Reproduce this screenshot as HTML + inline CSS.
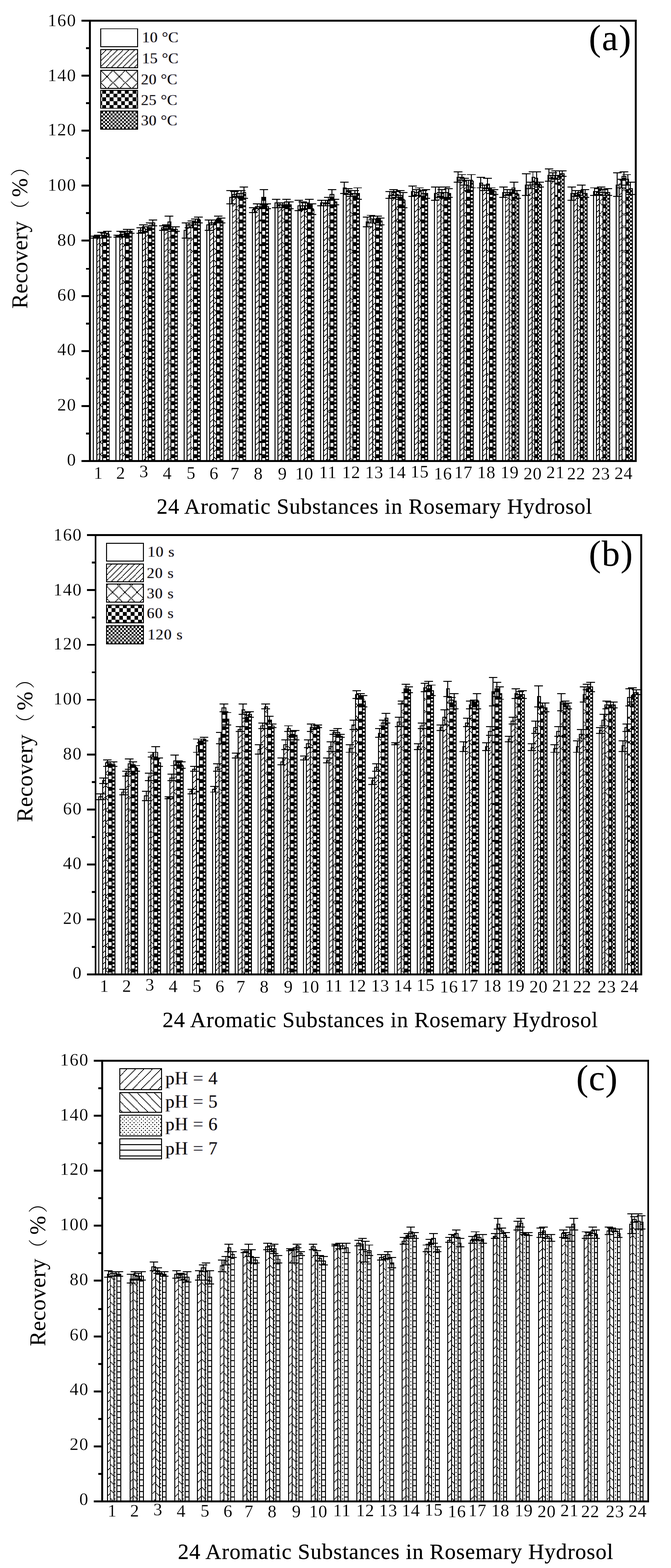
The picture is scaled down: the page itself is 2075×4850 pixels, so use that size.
<!DOCTYPE html>
<html><head><meta charset="utf-8"><title>Figure</title>
<style>html,body{margin:0;padding:0;background:#fff}svg{display:block}</style></head>
<body>
<svg width="2075" height="4850" viewBox="0 0 2075 4850">
<defs><filter id="tb" x="-5%" y="-5%" width="110%" height="110%"><feGaussianBlur stdDeviation="0.5"/></filter>
<filter id="ct" x="-5%" y="-10%" width="110%" height="120%"><feGaussianBlur in="SourceGraphic" stdDeviation="0.5" result="b"/><feOffset in="b" dx="-0.9" result="l"/><feFlood flood-color="#e39a3c"/><feComposite in2="l" operator="in" result="lo"/><feOffset in="b" dx="0.9" result="r"/><feFlood flood-color="#4a7fe0"/><feComposite in2="r" operator="in" result="ro"/><feMerge><feMergeNode in="lo"/><feMergeNode in="ro"/><feMergeNode in="b"/></feMerge></filter></defs>
<rect x="0" y="0" width="2075" height="4850" fill="#fff"/>
<g transform="matrix(2.93073 0 0 2.92884 277.90 64.09)" fill="#000" stroke="#000" stroke-width="0" shape-rendering="crispEdges">
<rect x="3" y="228" width="5" height="237"/>
<rect x="4" y="229" width="3" height="236" fill="#fff"/>
<rect x="5" y="227" width="1" height="3"/>
<rect x="1" y="227" width="9" height="1"/>
<rect x="1" y="229" width="9" height="1"/>
<rect x="7" y="228" width="1" height="237"/>
<rect x="10" y="228" width="1" height="237"/>
<rect x="7" y="228" width="4" height="1"/>
<path d="M8.5 229V465" stroke-width="1" stroke-dasharray="1 5" stroke-dashoffset="-1"/>
<path d="M9.5 229V465" stroke-width="1" stroke-dasharray="1 5"/>
<rect x="8" y="226" width="1" height="4"/>
<rect x="4" y="226" width="9" height="1"/>
<rect x="4" y="229" width="9" height="1"/>
<rect x="10" y="226" width="1" height="239"/>
<rect x="13" y="226" width="1" height="239"/>
<rect x="10" y="226" width="4" height="1"/>
<path d="M11.5 227V465" stroke-width="1" stroke-dasharray="2 11" stroke-dashoffset="-9"/>
<path d="M12.5 227V465" stroke-width="1" stroke-dasharray="1 2 1 9" stroke-dashoffset="-8"/>
<rect x="12" y="223" width="1" height="7"/>
<rect x="8" y="223" width="9" height="1"/>
<rect x="8" y="229" width="9" height="1"/>
<rect x="13" y="226" width="5" height="239"/>
<rect x="14" y="227" width="3" height="238" fill="#fff"/>
<path d="M15.5 227V465" stroke-width="3" stroke-dasharray="4 4" stroke-dashoffset="1"/>
<rect x="15" y="224" width="1" height="6"/>
<rect x="11" y="224" width="9" height="1"/>
<rect x="11" y="229" width="9" height="1"/>
<rect x="17" y="225" width="4" height="240"/>
<rect x="18" y="226" width="2" height="239" fill="#fff"/>
<path d="M19 226V465" stroke-width="2" stroke-dasharray="2 2" stroke-dashoffset="-1"/>
<rect x="19" y="222" width="1" height="7"/>
<rect x="14" y="222" width="9" height="1"/>
<rect x="14" y="228" width="9" height="1"/>
<rect x="27" y="227" width="5" height="238"/>
<rect x="28" y="228" width="3" height="237" fill="#fff"/>
<rect x="29" y="226" width="1" height="3"/>
<rect x="25" y="226" width="9" height="1"/>
<rect x="25" y="228" width="9" height="1"/>
<rect x="31" y="225" width="1" height="240"/>
<rect x="34" y="225" width="1" height="240"/>
<rect x="31" y="225" width="4" height="1"/>
<path d="M32.5 226V465" stroke-width="1" stroke-dasharray="1 5" stroke-dashoffset="-4"/>
<path d="M33.5 226V465" stroke-width="1" stroke-dasharray="1 5" stroke-dashoffset="-3"/>
<rect x="32" y="222" width="1" height="7"/>
<rect x="28" y="222" width="9" height="1"/>
<rect x="28" y="228" width="9" height="1"/>
<rect x="34" y="225" width="1" height="240"/>
<rect x="37" y="225" width="1" height="240"/>
<rect x="34" y="225" width="4" height="1"/>
<path d="M35.5 226V465" stroke-width="1" stroke-dasharray="1 2 1 9" stroke-dashoffset="-9"/>
<path d="M36.5 226V465" stroke-width="1" stroke-dasharray="2 11" stroke-dashoffset="-10"/>
<rect x="36" y="223" width="1" height="5"/>
<rect x="31" y="223" width="9" height="1"/>
<rect x="31" y="227" width="9" height="1"/>
<rect x="37" y="222" width="5" height="243"/>
<rect x="38" y="223" width="3" height="242" fill="#fff"/>
<path d="M39.5 223V465" stroke-width="3" stroke-dasharray="4 4" stroke-dashoffset="-3"/>
<rect x="39" y="220" width="1" height="6"/>
<rect x="35" y="220" width="9" height="1"/>
<rect x="35" y="225" width="9" height="1"/>
<rect x="41" y="222" width="4" height="243"/>
<rect x="42" y="223" width="2" height="242" fill="#fff"/>
<path d="M43 223V465" stroke-width="2" stroke-dasharray="2 2"/>
<rect x="42" y="220" width="1" height="5"/>
<rect x="38" y="220" width="9" height="1"/>
<rect x="38" y="224" width="9" height="1"/>
<rect x="51" y="221" width="5" height="244"/>
<rect x="52" y="222" width="3" height="243" fill="#fff"/>
<rect x="53" y="218" width="1" height="7"/>
<rect x="49" y="218" width="9" height="1"/>
<rect x="49" y="224" width="9" height="1"/>
<rect x="55" y="219" width="1" height="246"/>
<rect x="58" y="219" width="1" height="246"/>
<rect x="55" y="219" width="4" height="1"/>
<path d="M56.5 220V465" stroke-width="1" stroke-dasharray="1 5" stroke-dashoffset="-4"/>
<path d="M57.5 220V465" stroke-width="1" stroke-dasharray="1 5" stroke-dashoffset="-3"/>
<rect x="56" y="215" width="1" height="9"/>
<rect x="52" y="215" width="9" height="1"/>
<rect x="52" y="223" width="9" height="1"/>
<rect x="58" y="220" width="1" height="245"/>
<rect x="61" y="220" width="1" height="245"/>
<rect x="58" y="220" width="4" height="1"/>
<path d="M59.5 221V465" stroke-width="1" stroke-dasharray="1 5 1 6" stroke-dashoffset="-6"/>
<path d="M60.5 221V465" stroke-width="1" stroke-dasharray="1 4 1 7"/>
<rect x="60" y="217" width="1" height="6"/>
<rect x="55" y="217" width="9" height="1"/>
<rect x="55" y="222" width="9" height="1"/>
<rect x="61" y="216" width="5" height="249"/>
<rect x="62" y="217" width="3" height="248" fill="#fff"/>
<path d="M63.5 217V465" stroke-width="3" stroke-dasharray="4 4" stroke-dashoffset="-1"/>
<rect x="63" y="213" width="1" height="8"/>
<rect x="59" y="213" width="9" height="1"/>
<rect x="59" y="220" width="9" height="1"/>
<rect x="65" y="213" width="4" height="252"/>
<rect x="66" y="214" width="2" height="251" fill="#fff"/>
<path d="M67 214V465" stroke-width="2" stroke-dasharray="2 2" stroke-dashoffset="-1"/>
<rect x="66" y="210" width="1" height="7"/>
<rect x="62" y="210" width="9" height="1"/>
<rect x="62" y="216" width="9" height="1"/>
<rect x="75" y="218" width="4" height="247"/>
<rect x="76" y="219" width="2" height="246" fill="#fff"/>
<rect x="77" y="216" width="1" height="6"/>
<rect x="73" y="216" width="9" height="1"/>
<rect x="73" y="221" width="9" height="1"/>
<rect x="78" y="217" width="1" height="248"/>
<rect x="82" y="217" width="1" height="248"/>
<rect x="78" y="217" width="5" height="1"/>
<path d="M79.5 218V465" stroke-width="1" stroke-dasharray="1 5" stroke-dashoffset="-1"/>
<path d="M80.5 218V465" stroke-width="1" stroke-dasharray="1 5"/>
<path d="M81.5 218V465" stroke-width="1" stroke-dasharray="1 5" stroke-dashoffset="-5"/>
<rect x="80" y="215" width="1" height="6"/>
<rect x="76" y="215" width="9" height="1"/>
<rect x="76" y="220" width="9" height="1"/>
<rect x="82" y="212" width="1" height="253"/>
<rect x="85" y="212" width="1" height="253"/>
<rect x="82" y="212" width="4" height="1"/>
<path d="M83.5 213V465" stroke-width="1" stroke-dasharray="1 1 1 10" stroke-dashoffset="-3"/>
<path d="M84.5 213V465" stroke-width="1" stroke-dasharray="1 3 1 8" stroke-dashoffset="-2"/>
<rect x="84" y="206" width="1" height="14"/>
<rect x="79" y="206" width="9" height="1"/>
<rect x="79" y="219" width="9" height="1"/>
<rect x="85" y="220" width="5" height="245"/>
<rect x="86" y="221" width="3" height="244" fill="#fff"/>
<path d="M87.5 221V465" stroke-width="3" stroke-dasharray="4 4" stroke-dashoffset="3"/>
<rect x="87" y="217" width="1" height="6"/>
<rect x="83" y="217" width="9" height="1"/>
<rect x="83" y="222" width="9" height="1"/>
<rect x="89" y="220" width="4" height="245"/>
<rect x="90" y="221" width="2" height="244" fill="#fff"/>
<path d="M91 221V465" stroke-width="2" stroke-dasharray="2 2" stroke-dashoffset="-2"/>
<rect x="90" y="217" width="1" height="6"/>
<rect x="86" y="217" width="9" height="1"/>
<rect x="86" y="222" width="9" height="1"/>
<rect x="99" y="221" width="4" height="244"/>
<rect x="100" y="222" width="2" height="243" fill="#fff"/>
<rect x="101" y="213" width="1" height="17"/>
<rect x="97" y="213" width="9" height="1"/>
<rect x="97" y="229" width="9" height="1"/>
<rect x="102" y="215" width="1" height="250"/>
<rect x="106" y="215" width="1" height="250"/>
<rect x="102" y="215" width="5" height="1"/>
<path d="M103.5 216V465" stroke-width="1" stroke-dasharray="1 5" stroke-dashoffset="-3"/>
<path d="M104.5 216V465" stroke-width="1" stroke-dasharray="1 5" stroke-dashoffset="-2"/>
<path d="M105.5 216V465" stroke-width="1" stroke-dasharray="1 5" stroke-dashoffset="-1"/>
<rect x="104" y="213" width="1" height="6"/>
<rect x="100" y="213" width="9" height="1"/>
<rect x="100" y="218" width="9" height="1"/>
<rect x="106" y="215" width="1" height="250"/>
<rect x="109" y="215" width="1" height="250"/>
<rect x="106" y="215" width="4" height="1"/>
<path d="M107.5 216V465" stroke-width="1" stroke-dasharray="1 1 1 10"/>
<path d="M108.5 216V465" stroke-width="1" stroke-dasharray="1 12" stroke-dashoffset="-1"/>
<rect x="108" y="211" width="1" height="8"/>
<rect x="103" y="211" width="9" height="1"/>
<rect x="103" y="218" width="9" height="1"/>
<rect x="109" y="212" width="5" height="253"/>
<rect x="110" y="213" width="3" height="252" fill="#fff"/>
<path d="M111.5 213V465" stroke-width="3" stroke-dasharray="4 4" stroke-dashoffset="3"/>
<rect x="111" y="209" width="1" height="7"/>
<rect x="107" y="209" width="9" height="1"/>
<rect x="107" y="215" width="9" height="1"/>
<rect x="113" y="210" width="4" height="255"/>
<rect x="114" y="211" width="2" height="254" fill="#fff"/>
<path d="M115 211V465" stroke-width="2" stroke-dasharray="2 2"/>
<rect x="114" y="207" width="1" height="7"/>
<rect x="110" y="207" width="9" height="1"/>
<rect x="110" y="213" width="9" height="1"/>
<rect x="123" y="215" width="4" height="250"/>
<rect x="124" y="216" width="2" height="249" fill="#fff"/>
<rect x="125" y="210" width="1" height="12"/>
<rect x="121" y="210" width="9" height="1"/>
<rect x="121" y="221" width="9" height="1"/>
<rect x="126" y="213" width="1" height="252"/>
<rect x="130" y="213" width="1" height="252"/>
<rect x="126" y="213" width="5" height="1"/>
<path d="M127.5 214V465" stroke-width="1" stroke-dasharray="1 5" stroke-dashoffset="-5"/>
<path d="M128.5 214V465" stroke-width="1" stroke-dasharray="1 5" stroke-dashoffset="-4"/>
<path d="M129.5 214V465" stroke-width="1" stroke-dasharray="1 5" stroke-dashoffset="-3"/>
<rect x="128" y="210" width="1" height="6"/>
<rect x="124" y="210" width="9" height="1"/>
<rect x="124" y="215" width="9" height="1"/>
<rect x="130" y="213" width="1" height="252"/>
<rect x="133" y="213" width="1" height="252"/>
<rect x="130" y="213" width="4" height="1"/>
<path d="M131.5 214V465" stroke-width="1" stroke-dasharray="1 5 1 6"/>
<path d="M132.5 214V465" stroke-width="1" stroke-dasharray="1 3 1 8" stroke-dashoffset="-1"/>
<rect x="132" y="210" width="1" height="6"/>
<rect x="127" y="210" width="9" height="1"/>
<rect x="127" y="215" width="9" height="1"/>
<rect x="133" y="209" width="5" height="256"/>
<rect x="134" y="210" width="3" height="255" fill="#fff"/>
<path d="M135.5 210V465" stroke-width="3" stroke-dasharray="4 4"/>
<rect x="135" y="206" width="1" height="7"/>
<rect x="131" y="206" width="9" height="1"/>
<rect x="131" y="212" width="9" height="1"/>
<rect x="137" y="211" width="4" height="254"/>
<rect x="138" y="212" width="2" height="253" fill="#fff"/>
<path d="M139 212V465" stroke-width="2" stroke-dasharray="2 2" stroke-dashoffset="1"/>
<rect x="138" y="208" width="1" height="6"/>
<rect x="134" y="208" width="9" height="1"/>
<rect x="134" y="213" width="9" height="1"/>
<rect x="147" y="186" width="4" height="279"/>
<rect x="148" y="187" width="2" height="278" fill="#fff"/>
<rect x="149" y="179" width="1" height="15"/>
<rect x="144" y="179" width="9" height="1"/>
<rect x="144" y="193" width="9" height="1"/>
<rect x="150" y="183" width="1" height="282"/>
<rect x="154" y="183" width="1" height="282"/>
<rect x="150" y="183" width="5" height="1"/>
<path d="M151.5 184V465" stroke-width="1" stroke-dasharray="1 5" stroke-dashoffset="-5"/>
<path d="M152.5 184V465" stroke-width="1" stroke-dasharray="1 5" stroke-dashoffset="-4"/>
<path d="M153.5 184V465" stroke-width="1" stroke-dasharray="1 5" stroke-dashoffset="-3"/>
<rect x="152" y="180" width="1" height="7"/>
<rect x="148" y="180" width="9" height="1"/>
<rect x="148" y="186" width="9" height="1"/>
<rect x="154" y="182" width="1" height="283"/>
<rect x="157" y="182" width="1" height="283"/>
<rect x="154" y="182" width="4" height="1"/>
<path d="M155.5 183V465" stroke-width="1" stroke-dasharray="1 2 1 9"/>
<path d="M156.5 183V465" stroke-width="1" stroke-dasharray="1 7 1 4" stroke-dashoffset="-4"/>
<rect x="155" y="179" width="1" height="7"/>
<rect x="151" y="179" width="9" height="1"/>
<rect x="151" y="185" width="9" height="1"/>
<rect x="157" y="182" width="5" height="283"/>
<rect x="158" y="183" width="3" height="282" fill="#fff"/>
<path d="M159.5 183V465" stroke-width="3" stroke-dasharray="4 4" stroke-dashoffset="-3"/>
<rect x="159" y="179" width="1" height="7"/>
<rect x="155" y="179" width="9" height="1"/>
<rect x="155" y="185" width="9" height="1"/>
<rect x="161" y="181" width="4" height="284"/>
<rect x="162" y="182" width="2" height="283" fill="#fff"/>
<path d="M163 182V465" stroke-width="2" stroke-dasharray="2 2" stroke-dashoffset="-1"/>
<rect x="162" y="175" width="1" height="13"/>
<rect x="158" y="175" width="9" height="1"/>
<rect x="158" y="187" width="9" height="1"/>
<rect x="171" y="199" width="4" height="266"/>
<rect x="172" y="200" width="2" height="265" fill="#fff"/>
<rect x="173" y="197" width="1" height="6"/>
<rect x="168" y="197" width="9" height="1"/>
<rect x="168" y="202" width="9" height="1"/>
<rect x="174" y="196" width="1" height="269"/>
<rect x="178" y="196" width="1" height="269"/>
<rect x="174" y="196" width="5" height="1"/>
<path d="M175.5 197V465" stroke-width="1" stroke-dasharray="1 5" stroke-dashoffset="-4"/>
<path d="M176.5 197V465" stroke-width="1" stroke-dasharray="1 5" stroke-dashoffset="-3"/>
<path d="M177.5 197V465" stroke-width="1" stroke-dasharray="1 5" stroke-dashoffset="-2"/>
<rect x="176" y="193" width="1" height="6"/>
<rect x="172" y="193" width="9" height="1"/>
<rect x="172" y="198" width="9" height="1"/>
<rect x="178" y="196" width="1" height="269"/>
<rect x="181" y="196" width="1" height="269"/>
<rect x="178" y="196" width="4" height="1"/>
<path d="M180 197V465" stroke-width="2" stroke-dasharray="2 11"/>
<rect x="179" y="193" width="1" height="6"/>
<rect x="175" y="193" width="9" height="1"/>
<rect x="175" y="198" width="9" height="1"/>
<rect x="181" y="186" width="5" height="279"/>
<rect x="182" y="187" width="3" height="278" fill="#fff"/>
<path d="M183.5 187V465" stroke-width="3" stroke-dasharray="4 4" stroke-dashoffset="1"/>
<rect x="183" y="178" width="1" height="17"/>
<rect x="179" y="178" width="9" height="1"/>
<rect x="179" y="194" width="9" height="1"/>
<rect x="185" y="196" width="4" height="269"/>
<rect x="186" y="197" width="2" height="268" fill="#fff"/>
<path d="M187 197V465" stroke-width="2" stroke-dasharray="2 2" stroke-dashoffset="-2"/>
<rect x="186" y="193" width="1" height="6"/>
<rect x="182" y="193" width="9" height="1"/>
<rect x="182" y="198" width="9" height="1"/>
<rect x="195" y="192" width="4" height="273"/>
<rect x="196" y="193" width="2" height="272" fill="#fff"/>
<rect x="197" y="188" width="1" height="10"/>
<rect x="192" y="188" width="9" height="1"/>
<rect x="192" y="197" width="9" height="1"/>
<rect x="198" y="194" width="1" height="271"/>
<rect x="202" y="194" width="1" height="271"/>
<rect x="198" y="194" width="5" height="1"/>
<path d="M199.5 195V465" stroke-width="1" stroke-dasharray="1 5"/>
<path d="M200.5 195V465" stroke-width="1" stroke-dasharray="1 5" stroke-dashoffset="-5"/>
<path d="M201.5 195V465" stroke-width="1" stroke-dasharray="1 5" stroke-dashoffset="-4"/>
<rect x="200" y="192" width="1" height="6"/>
<rect x="196" y="192" width="9" height="1"/>
<rect x="196" y="197" width="9" height="1"/>
<rect x="202" y="194" width="1" height="271"/>
<rect x="205" y="194" width="1" height="271"/>
<rect x="202" y="194" width="4" height="1"/>
<path d="M203.5 195V465" stroke-width="1" stroke-dasharray="1 4 1 7"/>
<path d="M204.5 195V465" stroke-width="1" stroke-dasharray="1 2 1 9" stroke-dashoffset="-1"/>
<rect x="203" y="192" width="1" height="6"/>
<rect x="199" y="192" width="9" height="1"/>
<rect x="199" y="197" width="9" height="1"/>
<rect x="205" y="191" width="5" height="274"/>
<rect x="206" y="192" width="3" height="273" fill="#fff"/>
<path d="M207.5 192V465" stroke-width="3" stroke-dasharray="4 4" stroke-dashoffset="-2"/>
<rect x="207" y="188" width="1" height="8"/>
<rect x="203" y="188" width="9" height="1"/>
<rect x="203" y="195" width="9" height="1"/>
<rect x="209" y="194" width="4" height="271"/>
<rect x="210" y="195" width="2" height="270" fill="#fff"/>
<path d="M211 195V465" stroke-width="2" stroke-dasharray="2 2"/>
<rect x="210" y="191" width="1" height="8"/>
<rect x="206" y="191" width="9" height="1"/>
<rect x="206" y="198" width="9" height="1"/>
<rect x="219" y="195" width="4" height="270"/>
<rect x="220" y="196" width="2" height="269" fill="#fff"/>
<rect x="221" y="189" width="1" height="12"/>
<rect x="216" y="189" width="9" height="1"/>
<rect x="216" y="200" width="9" height="1"/>
<rect x="222" y="195" width="1" height="270"/>
<rect x="226" y="195" width="1" height="270"/>
<rect x="222" y="195" width="5" height="1"/>
<path d="M223.5 196V465" stroke-width="1" stroke-dasharray="1 5" stroke-dashoffset="-5"/>
<path d="M224.5 196V465" stroke-width="1" stroke-dasharray="1 5" stroke-dashoffset="-4"/>
<path d="M225.5 196V465" stroke-width="1" stroke-dasharray="1 5" stroke-dashoffset="-3"/>
<rect x="224" y="191" width="1" height="9"/>
<rect x="220" y="191" width="9" height="1"/>
<rect x="220" y="199" width="9" height="1"/>
<rect x="226" y="195" width="1" height="270"/>
<rect x="229" y="195" width="1" height="270"/>
<rect x="226" y="195" width="4" height="1"/>
<path d="M227.5 196V465" stroke-width="1" stroke-dasharray="1 3 1 8" stroke-dashoffset="-6"/>
<path d="M228.5 196V465" stroke-width="1" stroke-dasharray="1 5 1 6" stroke-dashoffset="-5"/>
<rect x="227" y="192" width="1" height="7"/>
<rect x="223" y="192" width="9" height="1"/>
<rect x="223" y="198" width="9" height="1"/>
<rect x="229" y="193" width="5" height="272"/>
<rect x="230" y="194" width="3" height="271" fill="#fff"/>
<path d="M231.5 194V465" stroke-width="3" stroke-dasharray="4 4"/>
<rect x="231" y="188" width="1" height="11"/>
<rect x="227" y="188" width="9" height="1"/>
<rect x="227" y="198" width="9" height="1"/>
<rect x="233" y="199" width="4" height="266"/>
<rect x="234" y="200" width="2" height="265" fill="#fff"/>
<path d="M235 200V465" stroke-width="2" stroke-dasharray="2 2" stroke-dashoffset="1"/>
<rect x="234" y="193" width="1" height="12"/>
<rect x="230" y="193" width="9" height="1"/>
<rect x="230" y="204" width="9" height="1"/>
<rect x="243" y="192" width="4" height="273"/>
<rect x="244" y="193" width="2" height="272" fill="#fff"/>
<rect x="244" y="189" width="1" height="7"/>
<rect x="240" y="189" width="9" height="1"/>
<rect x="240" y="195" width="9" height="1"/>
<rect x="246" y="192" width="1" height="273"/>
<rect x="250" y="192" width="1" height="273"/>
<rect x="246" y="192" width="5" height="1"/>
<path d="M247.5 193V465" stroke-width="1" stroke-dasharray="1 5" stroke-dashoffset="-2"/>
<path d="M248.5 193V465" stroke-width="1" stroke-dasharray="1 5" stroke-dashoffset="-1"/>
<path d="M249.5 193V465" stroke-width="1" stroke-dasharray="1 5"/>
<rect x="248" y="189" width="1" height="7"/>
<rect x="244" y="189" width="9" height="1"/>
<rect x="244" y="195" width="9" height="1"/>
<rect x="250" y="190" width="1" height="275"/>
<rect x="253" y="190" width="1" height="275"/>
<rect x="250" y="190" width="4" height="1"/>
<path d="M251.5 191V465" stroke-width="1" stroke-dasharray="1 12"/>
<path d="M252.5 191V465" stroke-width="1" stroke-dasharray="1 10 1 1" stroke-dashoffset="-1"/>
<rect x="251" y="186" width="1" height="8"/>
<rect x="247" y="186" width="9" height="1"/>
<rect x="247" y="193" width="9" height="1"/>
<rect x="253" y="183" width="5" height="282"/>
<rect x="254" y="184" width="3" height="281" fill="#fff"/>
<path d="M255.5 184V465" stroke-width="3" stroke-dasharray="4 4" stroke-dashoffset="-2"/>
<rect x="255" y="178" width="1" height="11"/>
<rect x="251" y="178" width="9" height="1"/>
<rect x="251" y="188" width="9" height="1"/>
<rect x="257" y="191" width="4" height="274"/>
<rect x="258" y="192" width="2" height="273" fill="#fff"/>
<path d="M259 192V465" stroke-width="2" stroke-dasharray="2 2" stroke-dashoffset="1"/>
<rect x="258" y="188" width="1" height="7"/>
<rect x="254" y="188" width="9" height="1"/>
<rect x="254" y="194" width="9" height="1"/>
<rect x="267" y="176" width="4" height="289"/>
<rect x="268" y="177" width="2" height="288" fill="#fff"/>
<rect x="268" y="170" width="1" height="13"/>
<rect x="264" y="170" width="9" height="1"/>
<rect x="264" y="182" width="9" height="1"/>
<rect x="270" y="180" width="1" height="285"/>
<rect x="274" y="180" width="1" height="285"/>
<rect x="270" y="180" width="5" height="1"/>
<path d="M271.5 181V465" stroke-width="1" stroke-dasharray="1 5" stroke-dashoffset="-2"/>
<path d="M272.5 181V465" stroke-width="1" stroke-dasharray="1 5" stroke-dashoffset="-1"/>
<path d="M273.5 181V465" stroke-width="1" stroke-dasharray="1 5"/>
<rect x="272" y="177" width="1" height="7"/>
<rect x="268" y="177" width="9" height="1"/>
<rect x="268" y="183" width="9" height="1"/>
<rect x="274" y="182" width="1" height="283"/>
<rect x="277" y="182" width="1" height="283"/>
<rect x="274" y="182" width="4" height="1"/>
<path d="M275.5 183V465" stroke-width="1" stroke-dasharray="1 3 1 8" stroke-dashoffset="-6"/>
<path d="M276.5 183V465" stroke-width="1" stroke-dasharray="1 1 1 10" stroke-dashoffset="-7"/>
<rect x="275" y="179" width="1" height="7"/>
<rect x="271" y="179" width="9" height="1"/>
<rect x="271" y="185" width="9" height="1"/>
<rect x="277" y="182" width="5" height="283"/>
<rect x="278" y="183" width="3" height="282" fill="#fff"/>
<path d="M279.5 183V465" stroke-width="3" stroke-dasharray="4 4" stroke-dashoffset="-3"/>
<rect x="279" y="179" width="1" height="7"/>
<rect x="275" y="179" width="9" height="1"/>
<rect x="275" y="185" width="9" height="1"/>
<rect x="281" y="182" width="4" height="283"/>
<rect x="282" y="183" width="2" height="282" fill="#fff"/>
<path d="M283 183V465" stroke-width="2" stroke-dasharray="2 2"/>
<rect x="282" y="176" width="1" height="13"/>
<rect x="278" y="176" width="9" height="1"/>
<rect x="278" y="188" width="9" height="1"/>
<rect x="291" y="212" width="4" height="253"/>
<rect x="292" y="213" width="2" height="252" fill="#fff"/>
<rect x="292" y="207" width="1" height="11"/>
<rect x="288" y="207" width="9" height="1"/>
<rect x="288" y="217" width="9" height="1"/>
<rect x="294" y="209" width="1" height="256"/>
<rect x="298" y="209" width="1" height="256"/>
<rect x="294" y="209" width="5" height="1"/>
<path d="M295.5 210V465" stroke-width="1" stroke-dasharray="1 5" stroke-dashoffset="-3"/>
<path d="M296.5 210V465" stroke-width="1" stroke-dasharray="1 5" stroke-dashoffset="-2"/>
<path d="M297.5 210V465" stroke-width="1" stroke-dasharray="1 5" stroke-dashoffset="-1"/>
<rect x="296" y="205" width="1" height="9"/>
<rect x="292" y="205" width="9" height="1"/>
<rect x="292" y="213" width="9" height="1"/>
<rect x="298" y="209" width="1" height="256"/>
<rect x="301" y="209" width="1" height="256"/>
<rect x="298" y="209" width="4" height="1"/>
<path d="M299.5 210V465" stroke-width="1" stroke-dasharray="1 7 1 4" stroke-dashoffset="-3"/>
<path d="M300.5 210V465" stroke-width="1" stroke-dasharray="1 5 1 6" stroke-dashoffset="-4"/>
<rect x="299" y="206" width="1" height="8"/>
<rect x="295" y="206" width="9" height="1"/>
<rect x="295" y="213" width="9" height="1"/>
<rect x="301" y="209" width="5" height="256"/>
<rect x="302" y="210" width="3" height="255" fill="#fff"/>
<path d="M303.5 210V465" stroke-width="3" stroke-dasharray="4 4"/>
<rect x="303" y="206" width="1" height="8"/>
<rect x="299" y="206" width="9" height="1"/>
<rect x="299" y="213" width="9" height="1"/>
<rect x="305" y="211" width="4" height="254"/>
<rect x="306" y="212" width="2" height="253" fill="#fff"/>
<path d="M307 212V465" stroke-width="2" stroke-dasharray="2 2" stroke-dashoffset="1"/>
<rect x="306" y="208" width="1" height="8"/>
<rect x="302" y="208" width="9" height="1"/>
<rect x="302" y="215" width="9" height="1"/>
<rect x="315" y="184" width="4" height="281"/>
<rect x="316" y="185" width="2" height="280" fill="#fff"/>
<rect x="316" y="180" width="1" height="8"/>
<rect x="312" y="180" width="9" height="1"/>
<rect x="312" y="187" width="9" height="1"/>
<rect x="318" y="181" width="1" height="284"/>
<rect x="322" y="181" width="1" height="284"/>
<rect x="318" y="181" width="5" height="1"/>
<path d="M319.5 182V465" stroke-width="1" stroke-dasharray="1 5" stroke-dashoffset="-1"/>
<path d="M320.5 182V465" stroke-width="1" stroke-dasharray="1 5"/>
<path d="M321.5 182V465" stroke-width="1" stroke-dasharray="1 5" stroke-dashoffset="-5"/>
<rect x="320" y="178" width="1" height="7"/>
<rect x="316" y="178" width="9" height="1"/>
<rect x="316" y="184" width="9" height="1"/>
<rect x="322" y="183" width="1" height="282"/>
<rect x="325" y="183" width="1" height="282"/>
<rect x="322" y="183" width="4" height="1"/>
<path d="M323.5 184V465" stroke-width="1" stroke-dasharray="2 11"/>
<path d="M324.5 184V465" stroke-width="1" stroke-dasharray="1 9 1 2" stroke-dashoffset="-2"/>
<rect x="323" y="180" width="1" height="7"/>
<rect x="319" y="180" width="9" height="1"/>
<rect x="319" y="186" width="9" height="1"/>
<rect x="325" y="184" width="5" height="281"/>
<rect x="326" y="185" width="3" height="280" fill="#fff"/>
<path d="M327.5 185V465" stroke-width="3" stroke-dasharray="4 4" stroke-dashoffset="-1"/>
<rect x="327" y="179" width="1" height="10"/>
<rect x="323" y="179" width="9" height="1"/>
<rect x="323" y="188" width="9" height="1"/>
<rect x="329" y="189" width="4" height="276"/>
<rect x="330" y="190" width="2" height="275" fill="#fff"/>
<path d="M331 190V465" stroke-width="2" stroke-dasharray="2 2" stroke-dashoffset="-1"/>
<rect x="330" y="181" width="1" height="17"/>
<rect x="326" y="181" width="9" height="1"/>
<rect x="326" y="197" width="9" height="1"/>
<rect x="339" y="180" width="4" height="285"/>
<rect x="340" y="181" width="2" height="284" fill="#fff"/>
<rect x="340" y="174" width="1" height="12"/>
<rect x="336" y="174" width="9" height="1"/>
<rect x="336" y="185" width="9" height="1"/>
<rect x="342" y="181" width="1" height="284"/>
<rect x="346" y="181" width="1" height="284"/>
<rect x="342" y="181" width="5" height="1"/>
<path d="M343.5 182V465" stroke-width="1" stroke-dasharray="1 5" stroke-dashoffset="-1"/>
<path d="M344.5 182V465" stroke-width="1" stroke-dasharray="1 5"/>
<path d="M345.5 182V465" stroke-width="1" stroke-dasharray="1 5" stroke-dashoffset="-5"/>
<rect x="344" y="178" width="1" height="7"/>
<rect x="340" y="178" width="9" height="1"/>
<rect x="340" y="184" width="9" height="1"/>
<rect x="346" y="180" width="1" height="285"/>
<rect x="349" y="180" width="1" height="285"/>
<rect x="346" y="180" width="4" height="1"/>
<path d="M347.5 181V465" stroke-width="1" stroke-dasharray="1 2 1 9" stroke-dashoffset="-2"/>
<path d="M348.5 181V465" stroke-width="1" stroke-dasharray="2 11" stroke-dashoffset="-3"/>
<rect x="347" y="176" width="1" height="9"/>
<rect x="343" y="176" width="9" height="1"/>
<rect x="343" y="184" width="9" height="1"/>
<rect x="349" y="182" width="5" height="283"/>
<rect x="350" y="183" width="3" height="282" fill="#fff"/>
<path d="M351.5 183V465" stroke-width="3" stroke-dasharray="4 4" stroke-dashoffset="-3"/>
<rect x="351" y="179" width="1" height="7"/>
<rect x="347" y="179" width="9" height="1"/>
<rect x="347" y="185" width="9" height="1"/>
<rect x="353" y="182" width="4" height="283"/>
<rect x="354" y="183" width="2" height="282" fill="#fff"/>
<path d="M355 183V465" stroke-width="2" stroke-dasharray="2 2"/>
<rect x="354" y="178" width="1" height="10"/>
<rect x="350" y="178" width="9" height="1"/>
<rect x="350" y="187" width="9" height="1"/>
<rect x="363" y="182" width="4" height="283"/>
<rect x="364" y="183" width="2" height="282" fill="#fff"/>
<rect x="364" y="175" width="1" height="15"/>
<rect x="360" y="175" width="9" height="1"/>
<rect x="360" y="189" width="9" height="1"/>
<rect x="366" y="181" width="1" height="284"/>
<rect x="370" y="181" width="1" height="284"/>
<rect x="366" y="181" width="5" height="1"/>
<path d="M367.5 182V465" stroke-width="1" stroke-dasharray="1 5" stroke-dashoffset="-1"/>
<path d="M368.5 182V465" stroke-width="1" stroke-dasharray="1 5"/>
<path d="M369.5 182V465" stroke-width="1" stroke-dasharray="1 5" stroke-dashoffset="-5"/>
<rect x="368" y="175" width="1" height="12"/>
<rect x="364" y="175" width="9" height="1"/>
<rect x="364" y="186" width="9" height="1"/>
<rect x="370" y="181" width="1" height="284"/>
<rect x="373" y="181" width="1" height="284"/>
<rect x="370" y="181" width="4" height="1"/>
<path d="M371.5 182V465" stroke-width="1" stroke-dasharray="1 5 1 6" stroke-dashoffset="-6"/>
<path d="M372.5 182V465" stroke-width="1" stroke-dasharray="1 4 1 7"/>
<rect x="371" y="178" width="1" height="8"/>
<rect x="367" y="178" width="9" height="1"/>
<rect x="367" y="185" width="9" height="1"/>
<rect x="373" y="181" width="5" height="284"/>
<rect x="374" y="182" width="3" height="283" fill="#fff"/>
<path d="M375.5 182V465" stroke-width="3" stroke-dasharray="4 4" stroke-dashoffset="-4"/>
<rect x="375" y="175" width="1" height="13"/>
<rect x="371" y="175" width="9" height="1"/>
<rect x="371" y="187" width="9" height="1"/>
<rect x="377" y="182" width="4" height="283"/>
<rect x="378" y="183" width="2" height="282" fill="#fff"/>
<path d="M379 183V465" stroke-width="2" stroke-dasharray="2 2"/>
<rect x="378" y="177" width="1" height="10"/>
<rect x="374" y="177" width="9" height="1"/>
<rect x="374" y="186" width="9" height="1"/>
<rect x="387" y="165" width="4" height="300"/>
<rect x="388" y="166" width="2" height="299" fill="#fff"/>
<rect x="388" y="159" width="1" height="12"/>
<rect x="384" y="159" width="9" height="1"/>
<rect x="384" y="170" width="9" height="1"/>
<rect x="390" y="165" width="1" height="300"/>
<rect x="394" y="165" width="1" height="300"/>
<rect x="390" y="165" width="5" height="1"/>
<path d="M391.5 166V465" stroke-width="1" stroke-dasharray="1 5" stroke-dashoffset="-5"/>
<path d="M392.5 166V465" stroke-width="1" stroke-dasharray="1 5" stroke-dashoffset="-4"/>
<path d="M393.5 166V465" stroke-width="1" stroke-dasharray="1 5" stroke-dashoffset="-3"/>
<rect x="392" y="162" width="1" height="7"/>
<rect x="388" y="162" width="9" height="1"/>
<rect x="388" y="168" width="9" height="1"/>
<rect x="394" y="169" width="1" height="296"/>
<rect x="397" y="169" width="1" height="296"/>
<rect x="394" y="169" width="4" height="1"/>
<path d="M395.5 170V465" stroke-width="1" stroke-dasharray="1 1 1 10" stroke-dashoffset="-7"/>
<path d="M396.5 170V465" stroke-width="1" stroke-dasharray="1 3 1 8" stroke-dashoffset="-6"/>
<rect x="395" y="166" width="1" height="8"/>
<rect x="391" y="166" width="9" height="1"/>
<rect x="391" y="173" width="9" height="1"/>
<rect x="397" y="174" width="5" height="291"/>
<rect x="398" y="175" width="3" height="290" fill="#fff"/>
<path d="M399.5 175V465" stroke-width="3" stroke-dasharray="4 4" stroke-dashoffset="-3"/>
<rect x="399" y="168" width="1" height="12"/>
<rect x="395" y="168" width="9" height="1"/>
<rect x="395" y="179" width="9" height="1"/>
<rect x="401" y="169" width="4" height="296"/>
<rect x="402" y="170" width="2" height="295" fill="#fff"/>
<path d="M403 170V465" stroke-width="2" stroke-dasharray="2 2" stroke-dashoffset="-1"/>
<rect x="402" y="162" width="1" height="15"/>
<rect x="398" y="162" width="9" height="1"/>
<rect x="398" y="176" width="9" height="1"/>
<rect x="411" y="171" width="4" height="294"/>
<rect x="412" y="172" width="2" height="293" fill="#fff"/>
<rect x="412" y="165" width="1" height="12"/>
<rect x="408" y="165" width="9" height="1"/>
<rect x="408" y="176" width="9" height="1"/>
<rect x="414" y="176" width="1" height="289"/>
<rect x="418" y="176" width="1" height="289"/>
<rect x="414" y="176" width="5" height="1"/>
<path d="M415.5 177V465" stroke-width="1" stroke-dasharray="1 5"/>
<path d="M416.5 177V465" stroke-width="1" stroke-dasharray="1 5" stroke-dashoffset="-5"/>
<path d="M417.5 177V465" stroke-width="1" stroke-dasharray="1 5" stroke-dashoffset="-4"/>
<rect x="416" y="173" width="1" height="7"/>
<rect x="412" y="173" width="9" height="1"/>
<rect x="412" y="179" width="9" height="1"/>
<rect x="418" y="172" width="1" height="293"/>
<rect x="421" y="172" width="1" height="293"/>
<rect x="418" y="172" width="4" height="1"/>
<path d="M419.5 173V465" stroke-width="1" stroke-dasharray="1 1 1 10" stroke-dashoffset="-4"/>
<path d="M420.5 173V465" stroke-width="1" stroke-dasharray="1 12" stroke-dashoffset="-5"/>
<rect x="419" y="166" width="1" height="12"/>
<rect x="415" y="166" width="9" height="1"/>
<rect x="415" y="177" width="9" height="1"/>
<rect x="421" y="179" width="5" height="286"/>
<rect x="422" y="180" width="3" height="285" fill="#fff"/>
<path d="M423.5 180V465" stroke-width="3" stroke-dasharray="4 4" stroke-dashoffset="2"/>
<rect x="423" y="176" width="1" height="7"/>
<rect x="419" y="176" width="9" height="1"/>
<rect x="419" y="182" width="9" height="1"/>
<rect x="425" y="180" width="4" height="285"/>
<rect x="426" y="181" width="2" height="284" fill="#fff"/>
<path d="M427 181V465" stroke-width="2" stroke-dasharray="2 2" stroke-dashoffset="-2"/>
<rect x="426" y="178" width="1" height="6"/>
<rect x="422" y="178" width="9" height="1"/>
<rect x="422" y="183" width="9" height="1"/>
<rect x="435" y="181" width="4" height="284"/>
<rect x="436" y="182" width="2" height="283" fill="#fff"/>
<rect x="436" y="175" width="1" height="12"/>
<rect x="432" y="175" width="9" height="1"/>
<rect x="432" y="186" width="9" height="1"/>
<rect x="438" y="181" width="1" height="284"/>
<rect x="442" y="181" width="1" height="284"/>
<rect x="438" y="181" width="5" height="1"/>
<path d="M439.5 182V465" stroke-width="1" stroke-dasharray="1 5" stroke-dashoffset="-1"/>
<path d="M440.5 182V465" stroke-width="1" stroke-dasharray="1 5"/>
<path d="M441.5 182V465" stroke-width="1" stroke-dasharray="1 5" stroke-dashoffset="-5"/>
<rect x="440" y="178" width="1" height="7"/>
<rect x="436" y="178" width="9" height="1"/>
<rect x="436" y="184" width="9" height="1"/>
<rect x="442" y="181" width="1" height="284"/>
<rect x="445" y="181" width="1" height="284"/>
<rect x="442" y="181" width="4" height="1"/>
<path d="M443.5 182V465" stroke-width="1" stroke-dasharray="1 5 1 6" stroke-dashoffset="-6"/>
<path d="M444.5 182V465" stroke-width="1" stroke-dasharray="1 3 1 8" stroke-dashoffset="-7"/>
<rect x="443" y="178" width="1" height="6"/>
<rect x="439" y="178" width="9" height="1"/>
<rect x="439" y="183" width="9" height="1"/>
<rect x="445" y="176" width="4" height="289"/>
<rect x="446" y="177" width="2" height="288" fill="#fff"/>
<path d="M447 177V465" stroke-width="2" stroke-dasharray="4 4" stroke-dashoffset="-1"/>
<rect x="447" y="170" width="1" height="13"/>
<rect x="443" y="170" width="9" height="1"/>
<rect x="443" y="182" width="9" height="1"/>
<rect x="448" y="183" width="5" height="282"/>
<rect x="449" y="184" width="3" height="281" fill="#fff"/>
<path d="M449.5 184V465" stroke-width="1" stroke-dasharray="2 2" stroke-dashoffset="-1"/>
<path d="M451 184V465" stroke-width="2" stroke-dasharray="2 2" stroke-dashoffset="1"/>
<rect x="450" y="179" width="1" height="9"/>
<rect x="446" y="179" width="9" height="1"/>
<rect x="446" y="187" width="9" height="1"/>
<rect x="459" y="173" width="4" height="292"/>
<rect x="460" y="174" width="2" height="291" fill="#fff"/>
<rect x="460" y="161" width="1" height="24"/>
<rect x="456" y="161" width="9" height="1"/>
<rect x="456" y="184" width="9" height="1"/>
<rect x="462" y="173" width="1" height="292"/>
<rect x="466" y="173" width="1" height="292"/>
<rect x="462" y="173" width="5" height="1"/>
<path d="M463.5 174V465" stroke-width="1" stroke-dasharray="1 5" stroke-dashoffset="-3"/>
<path d="M464.5 174V465" stroke-width="1" stroke-dasharray="1 5" stroke-dashoffset="-2"/>
<path d="M465.5 174V465" stroke-width="1" stroke-dasharray="1 5" stroke-dashoffset="-1"/>
<rect x="464" y="170" width="1" height="8"/>
<rect x="460" y="170" width="9" height="1"/>
<rect x="460" y="177" width="9" height="1"/>
<rect x="466" y="165" width="1" height="300"/>
<rect x="469" y="165" width="1" height="300"/>
<rect x="466" y="165" width="4" height="1"/>
<path d="M467.5 166V465" stroke-width="1" stroke-dasharray="1 2 1 9" stroke-dashoffset="-4"/>
<path d="M468.5 166V465" stroke-width="1" stroke-dasharray="1 4 1 7" stroke-dashoffset="-3"/>
<rect x="467" y="159" width="1" height="12"/>
<rect x="463" y="159" width="9" height="1"/>
<rect x="463" y="170" width="9" height="1"/>
<rect x="469" y="166" width="4" height="299"/>
<rect x="470" y="167" width="2" height="298" fill="#fff"/>
<path d="M471 167V465" stroke-width="2" stroke-dasharray="4 4" stroke-dashoffset="-3"/>
<rect x="471" y="159" width="1" height="14"/>
<rect x="467" y="159" width="9" height="1"/>
<rect x="467" y="172" width="9" height="1"/>
<rect x="472" y="173" width="5" height="292"/>
<rect x="473" y="174" width="3" height="291" fill="#fff"/>
<path d="M473.5 174V465" stroke-width="1" stroke-dasharray="2 2" stroke-dashoffset="1"/>
<path d="M475 174V465" stroke-width="2" stroke-dasharray="2 2" stroke-dashoffset="-1"/>
<rect x="474" y="170" width="1" height="6"/>
<rect x="470" y="170" width="9" height="1"/>
<rect x="470" y="175" width="9" height="1"/>
<rect x="483" y="163" width="4" height="302"/>
<rect x="484" y="164" width="2" height="301" fill="#fff"/>
<rect x="484" y="156" width="1" height="14"/>
<rect x="480" y="156" width="9" height="1"/>
<rect x="480" y="169" width="9" height="1"/>
<rect x="486" y="163" width="1" height="302"/>
<rect x="490" y="163" width="1" height="302"/>
<rect x="486" y="163" width="5" height="1"/>
<path d="M487.5 164V465" stroke-width="1" stroke-dasharray="1 5" stroke-dashoffset="-1"/>
<path d="M488.5 164V465" stroke-width="1" stroke-dasharray="1 5"/>
<path d="M489.5 164V465" stroke-width="1" stroke-dasharray="1 5" stroke-dashoffset="-5"/>
<rect x="488" y="160" width="1" height="7"/>
<rect x="484" y="160" width="9" height="1"/>
<rect x="484" y="166" width="9" height="1"/>
<rect x="490" y="163" width="1" height="302"/>
<rect x="493" y="163" width="1" height="302"/>
<rect x="490" y="163" width="4" height="1"/>
<path d="M492 164V465" stroke-width="2" stroke-dasharray="2 11" stroke-dashoffset="-7"/>
<rect x="491" y="158" width="1" height="10"/>
<rect x="487" y="158" width="9" height="1"/>
<rect x="487" y="167" width="9" height="1"/>
<rect x="493" y="163" width="4" height="302"/>
<rect x="494" y="164" width="2" height="301" fill="#fff"/>
<path d="M495 164V465" stroke-width="2" stroke-dasharray="4 4" stroke-dashoffset="2"/>
<rect x="495" y="158" width="1" height="10"/>
<rect x="491" y="158" width="9" height="1"/>
<rect x="491" y="167" width="9" height="1"/>
<rect x="496" y="161" width="5" height="304"/>
<rect x="497" y="162" width="3" height="303" fill="#fff"/>
<path d="M497.5 162V465" stroke-width="1" stroke-dasharray="2 2" stroke-dashoffset="1"/>
<path d="M499 162V465" stroke-width="2" stroke-dasharray="2 2" stroke-dashoffset="-1"/>
<rect x="498" y="158" width="1" height="7"/>
<rect x="494" y="158" width="9" height="1"/>
<rect x="494" y="164" width="9" height="1"/>
<rect x="507" y="182" width="4" height="283"/>
<rect x="508" y="183" width="2" height="282" fill="#fff"/>
<rect x="508" y="175" width="1" height="15"/>
<rect x="504" y="175" width="9" height="1"/>
<rect x="504" y="189" width="9" height="1"/>
<rect x="510" y="182" width="1" height="283"/>
<rect x="514" y="182" width="1" height="283"/>
<rect x="510" y="182" width="5" height="1"/>
<path d="M511.5 183V465" stroke-width="1" stroke-dasharray="1 5"/>
<path d="M512.5 183V465" stroke-width="1" stroke-dasharray="1 5" stroke-dashoffset="-5"/>
<path d="M513.5 183V465" stroke-width="1" stroke-dasharray="1 5" stroke-dashoffset="-4"/>
<rect x="512" y="179" width="1" height="7"/>
<rect x="508" y="179" width="9" height="1"/>
<rect x="508" y="185" width="9" height="1"/>
<rect x="514" y="181" width="1" height="284"/>
<rect x="517" y="181" width="1" height="284"/>
<rect x="514" y="181" width="4" height="1"/>
<path d="M515.5 182V465" stroke-width="1" stroke-dasharray="1 4 1 7"/>
<path d="M516.5 182V465" stroke-width="1" stroke-dasharray="1 2 1 9" stroke-dashoffset="-1"/>
<rect x="515" y="179" width="1" height="6"/>
<rect x="511" y="179" width="9" height="1"/>
<rect x="511" y="184" width="9" height="1"/>
<rect x="517" y="179" width="4" height="286"/>
<rect x="518" y="180" width="2" height="285" fill="#fff"/>
<path d="M519 180V465" stroke-width="2" stroke-dasharray="4 4" stroke-dashoffset="2"/>
<rect x="519" y="173" width="1" height="12"/>
<rect x="514" y="173" width="9" height="1"/>
<rect x="514" y="184" width="9" height="1"/>
<rect x="520" y="182" width="5" height="283"/>
<rect x="521" y="183" width="3" height="282" fill="#fff"/>
<path d="M521.5 183V465" stroke-width="1" stroke-dasharray="2 2" stroke-dashoffset="-2"/>
<path d="M523 183V465" stroke-width="2" stroke-dasharray="2 2"/>
<rect x="522" y="178" width="1" height="9"/>
<rect x="518" y="178" width="9" height="1"/>
<rect x="518" y="186" width="9" height="1"/>
<rect x="531" y="180" width="4" height="285"/>
<rect x="532" y="181" width="2" height="284" fill="#fff"/>
<rect x="532" y="176" width="1" height="9"/>
<rect x="528" y="176" width="9" height="1"/>
<rect x="528" y="184" width="9" height="1"/>
<rect x="534" y="180" width="1" height="285"/>
<rect x="537" y="180" width="1" height="285"/>
<rect x="534" y="180" width="4" height="1"/>
<path d="M535.5 181V465" stroke-width="1" stroke-dasharray="1 5" stroke-dashoffset="-2"/>
<path d="M536.5 181V465" stroke-width="1" stroke-dasharray="1 5" stroke-dashoffset="-1"/>
<rect x="536" y="177" width="1" height="7"/>
<rect x="532" y="177" width="9" height="1"/>
<rect x="532" y="183" width="9" height="1"/>
<rect x="537" y="178" width="1" height="287"/>
<rect x="541" y="178" width="1" height="287"/>
<rect x="537" y="178" width="5" height="1"/>
<path d="M538.5 179V465" stroke-width="1" stroke-dasharray="1 10 1 1"/>
<path d="M539.5 179V465" stroke-width="1" stroke-dasharray="1 8 1 3" stroke-dashoffset="-1"/>
<path d="M540.5 179V465" stroke-width="1" stroke-dasharray="1 6 1 5" stroke-dashoffset="-2"/>
<rect x="539" y="175" width="1" height="7"/>
<rect x="535" y="175" width="9" height="1"/>
<rect x="535" y="181" width="9" height="1"/>
<rect x="541" y="181" width="4" height="284"/>
<rect x="542" y="182" width="2" height="283" fill="#fff"/>
<path d="M543 182V465" stroke-width="2" stroke-dasharray="4 4" stroke-dashoffset="-4"/>
<rect x="543" y="178" width="1" height="7"/>
<rect x="538" y="178" width="9" height="1"/>
<rect x="538" y="184" width="9" height="1"/>
<rect x="544" y="181" width="5" height="284"/>
<rect x="545" y="182" width="3" height="283" fill="#fff"/>
<path d="M545.5 182V465" stroke-width="1" stroke-dasharray="2 2" stroke-dashoffset="1"/>
<path d="M547 182V465" stroke-width="2" stroke-dasharray="2 2" stroke-dashoffset="-1"/>
<rect x="546" y="177" width="1" height="8"/>
<rect x="542" y="177" width="9" height="1"/>
<rect x="542" y="184" width="9" height="1"/>
<rect x="555" y="173" width="4" height="292"/>
<rect x="556" y="174" width="2" height="291" fill="#fff"/>
<rect x="556" y="160" width="1" height="26"/>
<rect x="552" y="160" width="9" height="1"/>
<rect x="552" y="185" width="9" height="1"/>
<rect x="558" y="172" width="1" height="293"/>
<rect x="561" y="172" width="1" height="293"/>
<rect x="558" y="172" width="4" height="1"/>
<path d="M559.5 173V465" stroke-width="1" stroke-dasharray="1 5" stroke-dashoffset="-4"/>
<path d="M560.5 173V465" stroke-width="1" stroke-dasharray="1 5" stroke-dashoffset="-3"/>
<rect x="560" y="167" width="1" height="10"/>
<rect x="556" y="167" width="9" height="1"/>
<rect x="556" y="176" width="9" height="1"/>
<rect x="561" y="164" width="1" height="301"/>
<rect x="565" y="164" width="1" height="301"/>
<rect x="561" y="164" width="5" height="1"/>
<path d="M562.5 165V465" stroke-width="1" stroke-dasharray="1 10 1 1" stroke-dashoffset="-1"/>
<path d="M563.5 165V465" stroke-width="1" stroke-dasharray="1 12"/>
<path d="M564.5 165V465" stroke-width="1" stroke-dasharray="1 10 1 1" stroke-dashoffset="-1"/>
<rect x="563" y="159" width="1" height="10"/>
<rect x="559" y="159" width="9" height="1"/>
<rect x="559" y="168" width="9" height="1"/>
<rect x="565" y="167" width="4" height="298"/>
<rect x="566" y="168" width="2" height="297" fill="#fff"/>
<path d="M567 168V465" stroke-width="2" stroke-dasharray="4 4" stroke-dashoffset="-2"/>
<rect x="567" y="162" width="1" height="12"/>
<rect x="562" y="162" width="9" height="1"/>
<rect x="562" y="173" width="9" height="1"/>
<rect x="568" y="177" width="5" height="288"/>
<rect x="569" y="178" width="3" height="287" fill="#fff"/>
<path d="M569.5 178V465" stroke-width="1" stroke-dasharray="2 2" stroke-dashoffset="1"/>
<path d="M571 178V465" stroke-width="2" stroke-dasharray="2 2" stroke-dashoffset="-1"/>
<rect x="570" y="170" width="1" height="14"/>
<rect x="566" y="170" width="9" height="1"/>
<rect x="566" y="183" width="9" height="1"/>
<rect x="-1" y="-1" width="2" height="467"/>
<rect x="575" y="-1" width="2" height="467"/>
<rect x="-1" y="-1" width="578" height="2"/>
<rect x="-9" y="464" width="586" height="2"/>
<rect x="-9" y="464" width="9" height="2"/>
<rect x="-4" y="435" width="4" height="2"/>
<rect x="-9" y="406" width="9" height="2"/>
<rect x="-4" y="377" width="4" height="2"/>
<rect x="-9" y="348" width="9" height="2"/>
<rect x="-4" y="319" width="4" height="2"/>
<rect x="-9" y="290" width="9" height="2"/>
<rect x="-4" y="261" width="4" height="2"/>
<rect x="-9" y="231" width="9" height="2"/>
<rect x="-4" y="202" width="4" height="2"/>
<rect x="-9" y="173" width="9" height="2"/>
<rect x="-4" y="144" width="4" height="2"/>
<rect x="-9" y="115" width="9" height="2"/>
<rect x="-4" y="86" width="4" height="2"/>
<rect x="-9" y="57" width="9" height="2"/>
<rect x="-4" y="28" width="4" height="2"/>
<rect x="-9" y="-1" width="9" height="2"/>
<rect x="11" y="8" width="40" height="20"/>
<rect x="12" y="9" width="38" height="18" fill="#fff"/>
<rect x="11" y="30" width="40" height="20"/>
<rect x="12" y="31" width="38" height="18" fill="#fff"/>
<path d="M12.5 31V49" stroke-width="1" stroke-dasharray="1 5" stroke-dashoffset="-4"/>
<path d="M13.5 31V49" stroke-width="1" stroke-dasharray="1 5" stroke-dashoffset="-3"/>
<path d="M14.5 31V49" stroke-width="1" stroke-dasharray="1 5" stroke-dashoffset="-2"/>
<path d="M15.5 31V49" stroke-width="1" stroke-dasharray="1 5" stroke-dashoffset="-1"/>
<path d="M16.5 31V49" stroke-width="1" stroke-dasharray="1 5"/>
<path d="M17.5 31V49" stroke-width="1" stroke-dasharray="1 5" stroke-dashoffset="-5"/>
<path d="M18.5 31V49" stroke-width="1" stroke-dasharray="1 5" stroke-dashoffset="-4"/>
<path d="M19.5 31V49" stroke-width="1" stroke-dasharray="1 5" stroke-dashoffset="-3"/>
<path d="M20.5 31V49" stroke-width="1" stroke-dasharray="1 5" stroke-dashoffset="-2"/>
<path d="M21.5 31V49" stroke-width="1" stroke-dasharray="1 5" stroke-dashoffset="-1"/>
<path d="M22.5 31V49" stroke-width="1" stroke-dasharray="1 5"/>
<path d="M23.5 31V49" stroke-width="1" stroke-dasharray="1 5" stroke-dashoffset="-5"/>
<path d="M24.5 31V49" stroke-width="1" stroke-dasharray="1 5" stroke-dashoffset="-4"/>
<path d="M25.5 31V49" stroke-width="1" stroke-dasharray="1 5" stroke-dashoffset="-3"/>
<path d="M26.5 31V49" stroke-width="1" stroke-dasharray="1 5" stroke-dashoffset="-2"/>
<path d="M27.5 31V49" stroke-width="1" stroke-dasharray="1 5" stroke-dashoffset="-1"/>
<path d="M28.5 31V49" stroke-width="1" stroke-dasharray="1 5"/>
<path d="M29.5 31V49" stroke-width="1" stroke-dasharray="1 5" stroke-dashoffset="-5"/>
<path d="M30.5 31V49" stroke-width="1" stroke-dasharray="1 5" stroke-dashoffset="-4"/>
<path d="M31.5 31V49" stroke-width="1" stroke-dasharray="1 5" stroke-dashoffset="-3"/>
<path d="M32.5 31V49" stroke-width="1" stroke-dasharray="1 5" stroke-dashoffset="-2"/>
<path d="M33.5 31V49" stroke-width="1" stroke-dasharray="1 5" stroke-dashoffset="-1"/>
<path d="M34.5 31V49" stroke-width="1" stroke-dasharray="1 5"/>
<path d="M35.5 31V49" stroke-width="1" stroke-dasharray="1 5" stroke-dashoffset="-5"/>
<path d="M36.5 31V49" stroke-width="1" stroke-dasharray="1 5" stroke-dashoffset="-4"/>
<path d="M37.5 31V49" stroke-width="1" stroke-dasharray="1 5" stroke-dashoffset="-3"/>
<path d="M38.5 31V49" stroke-width="1" stroke-dasharray="1 5" stroke-dashoffset="-2"/>
<path d="M39.5 31V49" stroke-width="1" stroke-dasharray="1 5" stroke-dashoffset="-1"/>
<path d="M40.5 31V49" stroke-width="1" stroke-dasharray="1 5"/>
<path d="M41.5 31V49" stroke-width="1" stroke-dasharray="1 5" stroke-dashoffset="-5"/>
<path d="M42.5 31V49" stroke-width="1" stroke-dasharray="1 5" stroke-dashoffset="-4"/>
<path d="M43.5 31V49" stroke-width="1" stroke-dasharray="1 5" stroke-dashoffset="-3"/>
<path d="M44.5 31V49" stroke-width="1" stroke-dasharray="1 5" stroke-dashoffset="-2"/>
<path d="M45.5 31V49" stroke-width="1" stroke-dasharray="1 5" stroke-dashoffset="-1"/>
<path d="M46.5 31V49" stroke-width="1" stroke-dasharray="1 5"/>
<path d="M47.5 31V49" stroke-width="1" stroke-dasharray="1 5" stroke-dashoffset="-5"/>
<path d="M48.5 31V49" stroke-width="1" stroke-dasharray="1 5" stroke-dashoffset="-4"/>
<path d="M49.5 31V49" stroke-width="1" stroke-dasharray="1 5" stroke-dashoffset="-3"/>
<rect x="11" y="52" width="40" height="20"/>
<rect x="12" y="53" width="38" height="18" fill="#fff"/>
<path d="M12.5 53V71" stroke-width="1" stroke-dasharray="1 10 1 1"/>
<path d="M13.5 53V71" stroke-width="1" stroke-dasharray="1 8 1 3" stroke-dashoffset="-1"/>
<path d="M14.5 53V71" stroke-width="1" stroke-dasharray="1 6 1 5" stroke-dashoffset="-2"/>
<path d="M15.5 53V71" stroke-width="1" stroke-dasharray="1 4 1 7" stroke-dashoffset="-3"/>
<path d="M16.5 53V71" stroke-width="1" stroke-dasharray="1 2 1 9" stroke-dashoffset="-4"/>
<path d="M18 53V71" stroke-width="2" stroke-dasharray="2 11" stroke-dashoffset="-5"/>
<path d="M19.5 53V71" stroke-width="1" stroke-dasharray="1 2 1 9" stroke-dashoffset="-4"/>
<path d="M20.5 53V71" stroke-width="1" stroke-dasharray="1 4 1 7" stroke-dashoffset="-3"/>
<path d="M21.5 53V71" stroke-width="1" stroke-dasharray="1 6 1 5" stroke-dashoffset="-2"/>
<path d="M22.5 53V71" stroke-width="1" stroke-dasharray="1 8 1 3" stroke-dashoffset="-1"/>
<path d="M23.5 53V71" stroke-width="1" stroke-dasharray="1 10 1 1"/>
<path d="M24.5 53V71" stroke-width="1" stroke-dasharray="1 12" stroke-dashoffset="-12"/>
<path d="M25.5 53V71" stroke-width="1" stroke-dasharray="1 10 1 1"/>
<path d="M26.5 53V71" stroke-width="1" stroke-dasharray="1 8 1 3" stroke-dashoffset="-1"/>
<path d="M27.5 53V71" stroke-width="1" stroke-dasharray="1 6 1 5" stroke-dashoffset="-2"/>
<path d="M28.5 53V71" stroke-width="1" stroke-dasharray="1 4 1 7" stroke-dashoffset="-3"/>
<path d="M29.5 53V71" stroke-width="1" stroke-dasharray="1 2 1 9" stroke-dashoffset="-4"/>
<path d="M31 53V71" stroke-width="2" stroke-dasharray="2 11" stroke-dashoffset="-5"/>
<path d="M32.5 53V71" stroke-width="1" stroke-dasharray="1 2 1 9" stroke-dashoffset="-4"/>
<path d="M33.5 53V71" stroke-width="1" stroke-dasharray="1 4 1 7" stroke-dashoffset="-3"/>
<path d="M34.5 53V71" stroke-width="1" stroke-dasharray="1 6 1 5" stroke-dashoffset="-2"/>
<path d="M35.5 53V71" stroke-width="1" stroke-dasharray="1 8 1 3" stroke-dashoffset="-1"/>
<path d="M36.5 53V71" stroke-width="1" stroke-dasharray="1 10 1 1"/>
<path d="M37.5 53V71" stroke-width="1" stroke-dasharray="1 12" stroke-dashoffset="-12"/>
<path d="M38.5 53V71" stroke-width="1" stroke-dasharray="1 10 1 1"/>
<path d="M39.5 53V71" stroke-width="1" stroke-dasharray="1 8 1 3" stroke-dashoffset="-1"/>
<path d="M40.5 53V71" stroke-width="1" stroke-dasharray="1 6 1 5" stroke-dashoffset="-2"/>
<path d="M41.5 53V71" stroke-width="1" stroke-dasharray="1 4 1 7" stroke-dashoffset="-3"/>
<path d="M42.5 53V71" stroke-width="1" stroke-dasharray="1 2 1 9" stroke-dashoffset="-4"/>
<path d="M44 53V71" stroke-width="2" stroke-dasharray="2 11" stroke-dashoffset="-5"/>
<path d="M45.5 53V71" stroke-width="1" stroke-dasharray="1 2 1 9" stroke-dashoffset="-4"/>
<path d="M46.5 53V71" stroke-width="1" stroke-dasharray="1 4 1 7" stroke-dashoffset="-3"/>
<path d="M47.5 53V71" stroke-width="1" stroke-dasharray="1 6 1 5" stroke-dashoffset="-2"/>
<path d="M48.5 53V71" stroke-width="1" stroke-dasharray="1 8 1 3" stroke-dashoffset="-1"/>
<path d="M49.5 53V71" stroke-width="1" stroke-dasharray="1 10 1 1"/>
<rect x="11" y="73" width="40" height="20"/>
<rect x="12" y="74" width="38" height="18" fill="#fff"/>
<path d="M12.5 74V92" stroke-width="1" stroke-dasharray="4 4" stroke-dashoffset="-3"/>
<path d="M15 74V92" stroke-width="4" stroke-dasharray="4 4" stroke-dashoffset="1"/>
<path d="M19 74V92" stroke-width="4" stroke-dasharray="4 4" stroke-dashoffset="-3"/>
<path d="M23 74V92" stroke-width="4" stroke-dasharray="4 4" stroke-dashoffset="1"/>
<path d="M27 74V92" stroke-width="4" stroke-dasharray="4 4" stroke-dashoffset="-3"/>
<path d="M31 74V92" stroke-width="4" stroke-dasharray="4 4" stroke-dashoffset="1"/>
<path d="M35 74V92" stroke-width="4" stroke-dasharray="4 4" stroke-dashoffset="-3"/>
<path d="M39 74V92" stroke-width="4" stroke-dasharray="4 4" stroke-dashoffset="1"/>
<path d="M43 74V92" stroke-width="4" stroke-dasharray="4 4" stroke-dashoffset="-3"/>
<path d="M47 74V92" stroke-width="4" stroke-dasharray="4 4" stroke-dashoffset="1"/>
<path d="M49.5 74V92" stroke-width="1" stroke-dasharray="4 4" stroke-dashoffset="-3"/>
<rect x="11" y="95" width="40" height="20"/>
<rect x="12" y="96" width="38" height="18" fill="#fff"/>
<path d="M13 96V114" stroke-width="2" stroke-dasharray="2 2"/>
<path d="M15 96V114" stroke-width="2" stroke-dasharray="2 2" stroke-dashoffset="-2"/>
<path d="M17 96V114" stroke-width="2" stroke-dasharray="2 2"/>
<path d="M19 96V114" stroke-width="2" stroke-dasharray="2 2" stroke-dashoffset="-2"/>
<path d="M21 96V114" stroke-width="2" stroke-dasharray="2 2"/>
<path d="M23 96V114" stroke-width="2" stroke-dasharray="2 2" stroke-dashoffset="-2"/>
<path d="M25 96V114" stroke-width="2" stroke-dasharray="2 2"/>
<path d="M27 96V114" stroke-width="2" stroke-dasharray="2 2" stroke-dashoffset="-2"/>
<path d="M29 96V114" stroke-width="2" stroke-dasharray="2 2"/>
<path d="M31 96V114" stroke-width="2" stroke-dasharray="2 2" stroke-dashoffset="-2"/>
<path d="M33 96V114" stroke-width="2" stroke-dasharray="2 2"/>
<path d="M35 96V114" stroke-width="2" stroke-dasharray="2 2" stroke-dashoffset="-2"/>
<path d="M37 96V114" stroke-width="2" stroke-dasharray="2 2"/>
<path d="M39 96V114" stroke-width="2" stroke-dasharray="2 2" stroke-dashoffset="-2"/>
<path d="M41 96V114" stroke-width="2" stroke-dasharray="2 2"/>
<path d="M43 96V114" stroke-width="2" stroke-dasharray="2 2" stroke-dashoffset="-2"/>
<path d="M45 96V114" stroke-width="2" stroke-dasharray="2 2"/>
<path d="M47 96V114" stroke-width="2" stroke-dasharray="2 2" stroke-dashoffset="-2"/>
<path d="M49 96V114" stroke-width="2" stroke-dasharray="2 2"/>
</g>
<text x="236.6" y="1439.5" font-family="'Liberation Serif',serif" font-size="54.5" text-anchor="end" fill="#000" stroke="#fff" stroke-width="0.3" letter-spacing="2.4" filter="url(#tb)">0</text>
<text x="236.6" y="1269.6" font-family="'Liberation Serif',serif" font-size="54.5" text-anchor="end" fill="#000" stroke="#fff" stroke-width="0.3" letter-spacing="2.4" filter="url(#tb)">20</text>
<text x="236.6" y="1099.3" font-family="'Liberation Serif',serif" font-size="54.5" text-anchor="end" fill="#000" stroke="#fff" stroke-width="0.3" letter-spacing="2.4" filter="url(#tb)">40</text>
<text x="236.6" y="930.1" font-family="'Liberation Serif',serif" font-size="54.5" text-anchor="end" fill="#000" stroke="#fff" stroke-width="0.3" letter-spacing="2.4" filter="url(#tb)">60</text>
<text x="236.6" y="759.9" font-family="'Liberation Serif',serif" font-size="54.5" text-anchor="end" fill="#000" stroke="#fff" stroke-width="0.3" letter-spacing="2.4" filter="url(#tb)">80</text>
<text x="236.6" y="589.6" font-family="'Liberation Serif',serif" font-size="54.5" text-anchor="end" fill="#000" stroke="#fff" stroke-width="0.3" letter-spacing="2.4" filter="url(#tb)">100</text>
<text x="236.6" y="418.7" font-family="'Liberation Serif',serif" font-size="54.5" text-anchor="end" fill="#000" stroke="#fff" stroke-width="0.3" letter-spacing="2.4" filter="url(#tb)">120</text>
<text x="236.6" y="251.3" font-family="'Liberation Serif',serif" font-size="54.5" text-anchor="end" fill="#000" stroke="#fff" stroke-width="0.3" letter-spacing="2.4" filter="url(#tb)">140</text>
<text x="236.6" y="81.0" font-family="'Liberation Serif',serif" font-size="54.5" text-anchor="end" fill="#000" stroke="#fff" stroke-width="0.3" letter-spacing="2.4" filter="url(#tb)">160</text>
<text x="304.2" y="1480.5" font-family="'Liberation Serif',serif" font-size="54.5" text-anchor="middle" fill="#000" stroke="#fff" stroke-width="0.3" letter-spacing="1.2" filter="url(#tb)">1</text>
<text x="373.6" y="1480.5" font-family="'Liberation Serif',serif" font-size="54.5" text-anchor="middle" fill="#000" stroke="#fff" stroke-width="0.3" letter-spacing="1.2" filter="url(#tb)">2</text>
<text x="445.2" y="1476.2" font-family="'Liberation Serif',serif" font-size="54.5" text-anchor="middle" fill="#000" stroke="#fff" stroke-width="0.3" letter-spacing="1.2" filter="url(#tb)">3</text>
<text x="517.4" y="1481.5" font-family="'Liberation Serif',serif" font-size="54.5" text-anchor="middle" fill="#000" stroke="#fff" stroke-width="0.3" letter-spacing="1.2" filter="url(#tb)">4</text>
<text x="591.0" y="1480.5" font-family="'Liberation Serif',serif" font-size="54.5" text-anchor="middle" fill="#000" stroke="#fff" stroke-width="0.3" letter-spacing="1.2" filter="url(#tb)">5</text>
<text x="662.0" y="1481.5" font-family="'Liberation Serif',serif" font-size="54.5" text-anchor="middle" fill="#000" stroke="#fff" stroke-width="0.3" letter-spacing="1.2" filter="url(#tb)">6</text>
<text x="726.8" y="1482.5" font-family="'Liberation Serif',serif" font-size="54.5" text-anchor="middle" fill="#000" stroke="#fff" stroke-width="0.3" letter-spacing="1.2" filter="url(#tb)">7</text>
<text x="798.9" y="1482.5" font-family="'Liberation Serif',serif" font-size="54.5" text-anchor="middle" fill="#000" stroke="#fff" stroke-width="0.3" letter-spacing="1.2" filter="url(#tb)">8</text>
<text x="873.6" y="1482.5" font-family="'Liberation Serif',serif" font-size="54.5" text-anchor="middle" fill="#000" stroke="#fff" stroke-width="0.3" letter-spacing="1.2" filter="url(#tb)">9</text>
<text x="941.1" y="1482.5" font-family="'Liberation Serif',serif" font-size="54.5" text-anchor="middle" fill="#000" stroke="#fff" stroke-width="0.3" letter-spacing="1.2" filter="url(#tb)">10</text>
<text x="1014.2" y="1478.9" font-family="'Liberation Serif',serif" font-size="54.5" text-anchor="middle" fill="#000" stroke="#fff" stroke-width="0.3" letter-spacing="1.2" filter="url(#tb)">11</text>
<text x="1086.2" y="1478.9" font-family="'Liberation Serif',serif" font-size="54.5" text-anchor="middle" fill="#000" stroke="#fff" stroke-width="0.3" letter-spacing="1.2" filter="url(#tb)">12</text>
<text x="1157.4" y="1478.9" font-family="'Liberation Serif',serif" font-size="54.5" text-anchor="middle" fill="#000" stroke="#fff" stroke-width="0.3" letter-spacing="1.2" filter="url(#tb)">13</text>
<text x="1227.4" y="1478.9" font-family="'Liberation Serif',serif" font-size="54.5" text-anchor="middle" fill="#000" stroke="#fff" stroke-width="0.3" letter-spacing="1.2" filter="url(#tb)">14</text>
<text x="1297.9" y="1477.3" font-family="'Liberation Serif',serif" font-size="54.5" text-anchor="middle" fill="#000" stroke="#fff" stroke-width="0.3" letter-spacing="1.2" filter="url(#tb)">15</text>
<text x="1369.9" y="1482.5" font-family="'Liberation Serif',serif" font-size="54.5" text-anchor="middle" fill="#000" stroke="#fff" stroke-width="0.3" letter-spacing="1.2" filter="url(#tb)">16</text>
<text x="1433.2" y="1478.9" font-family="'Liberation Serif',serif" font-size="54.5" text-anchor="middle" fill="#000" stroke="#fff" stroke-width="0.3" letter-spacing="1.2" filter="url(#tb)">17</text>
<text x="1504.2" y="1478.9" font-family="'Liberation Serif',serif" font-size="54.5" text-anchor="middle" fill="#000" stroke="#fff" stroke-width="0.3" letter-spacing="1.2" filter="url(#tb)">18</text>
<text x="1576.2" y="1478.9" font-family="'Liberation Serif',serif" font-size="54.5" text-anchor="middle" fill="#000" stroke="#fff" stroke-width="0.3" letter-spacing="1.2" filter="url(#tb)">19</text>
<text x="1647.4" y="1482.5" font-family="'Liberation Serif',serif" font-size="54.5" text-anchor="middle" fill="#000" stroke="#fff" stroke-width="0.3" letter-spacing="1.2" filter="url(#tb)">20</text>
<text x="1717.9" y="1478.9" font-family="'Liberation Serif',serif" font-size="54.5" text-anchor="middle" fill="#000" stroke="#fff" stroke-width="0.3" letter-spacing="1.2" filter="url(#tb)">21</text>
<text x="1782.0" y="1482.5" font-family="'Liberation Serif',serif" font-size="54.5" text-anchor="middle" fill="#000" stroke="#fff" stroke-width="0.3" letter-spacing="1.2" filter="url(#tb)">22</text>
<text x="1858.4" y="1482.5" font-family="'Liberation Serif',serif" font-size="54.5" text-anchor="middle" fill="#000" stroke="#fff" stroke-width="0.3" letter-spacing="1.2" filter="url(#tb)">23</text>
<text x="1928.4" y="1481.5" font-family="'Liberation Serif',serif" font-size="54.5" text-anchor="middle" fill="#000" stroke="#fff" stroke-width="0.3" letter-spacing="1.2" filter="url(#tb)">24</text>
<text x="484.6" y="1589.0" font-family="'Liberation Serif',serif" font-size="68" text-anchor="start" fill="#000" stroke="#000" stroke-width="0.35" textLength="1346" lengthAdjust="spacing" filter="url(#tb)">24 Aromatic Substances in Rosemary Hydrosol</text>
<text transform="translate(84.4,955) rotate(-90)" font-family="'Liberation Serif',serif" font-size="70" fill="#000" stroke="#fff" stroke-width="0" filter="url(#tb)"><tspan x="0" y="0" textLength="271" lengthAdjust="spacing">Recovery</tspan><tspan x="276" y="0" font-family="'Noto Serif CJK SC','Liberation Serif',serif" font-size="60" font-weight="200" stroke-width="0">（</tspan><tspan x="345.5" y="0">%</tspan><tspan x="409" y="0" font-family="'Noto Serif CJK SC','Liberation Serif',serif" font-size="60" font-weight="200" stroke-width="0">）</tspan></text>
<text x="1821.0" y="155.0" font-family="'Liberation Serif',serif" font-size="112" text-anchor="start" fill="#000" stroke="#000" stroke-width="0.3" letter-spacing="3" filter="url(#tb)">(a)</text>
<text x="439.5" y="131.2" font-family="'Liberation Serif',serif" font-size="47" text-anchor="start" fill="#000" stroke="#fff" stroke-width="0.3" letter-spacing="0.8" filter="url(#ct)">10 °C</text>
<text x="439.5" y="196.3" font-family="'Liberation Serif',serif" font-size="47" text-anchor="start" fill="#000" stroke="#fff" stroke-width="0.3" letter-spacing="0.8" filter="url(#ct)">15 °C</text>
<text x="436.0" y="260.5" font-family="'Liberation Serif',serif" font-size="47" text-anchor="start" fill="#000" stroke="#fff" stroke-width="0.3" letter-spacing="0.8" filter="url(#ct)">20 °C</text>
<text x="436.0" y="324.5" font-family="'Liberation Serif',serif" font-size="47" text-anchor="start" fill="#000" stroke="#fff" stroke-width="0.3" letter-spacing="0.8" filter="url(#ct)">25 °C</text>
<text x="436.0" y="387.6" font-family="'Liberation Serif',serif" font-size="47" text-anchor="start" fill="#000" stroke="#fff" stroke-width="0.3" letter-spacing="0.8" filter="url(#ct)">30 °C</text>
<g transform="matrix(2.93047 0 0 2.92920 295.45 1654.75)" fill="#000" stroke="#000" stroke-width="0" shape-rendering="crispEdges">
<rect x="3" y="276" width="5" height="188"/>
<rect x="4" y="277" width="3" height="187" fill="#fff"/>
<rect x="5" y="273" width="1" height="7"/>
<rect x="1" y="273" width="9" height="1"/>
<rect x="1" y="279" width="9" height="1"/>
<rect x="7" y="259" width="1" height="205"/>
<rect x="10" y="259" width="1" height="205"/>
<rect x="7" y="259" width="4" height="1"/>
<path d="M8.5 260V464" stroke-width="1" stroke-dasharray="1 5"/>
<path d="M9.5 260V464" stroke-width="1" stroke-dasharray="1 5" stroke-dashoffset="-5"/>
<rect x="8" y="256" width="1" height="7"/>
<rect x="4" y="256" width="9" height="1"/>
<rect x="4" y="262" width="9" height="1"/>
<rect x="10" y="240" width="1" height="224"/>
<rect x="13" y="240" width="1" height="224"/>
<rect x="10" y="240" width="4" height="1"/>
<path d="M11.5 241V464" stroke-width="1" stroke-dasharray="1 1 1 10" stroke-dashoffset="-9"/>
<path d="M12.5 241V464" stroke-width="1" stroke-dasharray="1 3 1 8" stroke-dashoffset="-8"/>
<rect x="12" y="237" width="1" height="8"/>
<rect x="8" y="237" width="9" height="1"/>
<rect x="8" y="244" width="9" height="1"/>
<rect x="13" y="241" width="5" height="223"/>
<rect x="14" y="242" width="3" height="222" fill="#fff"/>
<path d="M15.5 242V464" stroke-width="3" stroke-dasharray="4 4"/>
<rect x="15" y="239" width="1" height="5"/>
<rect x="11" y="239" width="9" height="1"/>
<rect x="11" y="243" width="9" height="1"/>
<rect x="17" y="242" width="4" height="222"/>
<rect x="18" y="243" width="2" height="221" fill="#fff"/>
<path d="M19 243V464" stroke-width="2" stroke-dasharray="2 2"/>
<rect x="19" y="239" width="1" height="6"/>
<rect x="14" y="239" width="9" height="1"/>
<rect x="14" y="244" width="9" height="1"/>
<rect x="27" y="271" width="5" height="193"/>
<rect x="28" y="272" width="3" height="192" fill="#fff"/>
<rect x="29" y="268" width="1" height="7"/>
<rect x="25" y="268" width="9" height="1"/>
<rect x="25" y="274" width="9" height="1"/>
<rect x="31" y="251" width="1" height="213"/>
<rect x="34" y="251" width="1" height="213"/>
<rect x="31" y="251" width="4" height="1"/>
<path d="M32.5 252V464" stroke-width="1" stroke-dasharray="1 5" stroke-dashoffset="-2"/>
<path d="M33.5 252V464" stroke-width="1" stroke-dasharray="1 5" stroke-dashoffset="-1"/>
<rect x="32" y="249" width="1" height="6"/>
<rect x="28" y="249" width="9" height="1"/>
<rect x="28" y="254" width="9" height="1"/>
<rect x="34" y="241" width="1" height="223"/>
<rect x="37" y="241" width="1" height="223"/>
<rect x="34" y="241" width="4" height="1"/>
<path d="M35.5 242V464" stroke-width="1" stroke-dasharray="1 1 1 10" stroke-dashoffset="-8"/>
<path d="M36.5 242V464" stroke-width="1" stroke-dasharray="1 12" stroke-dashoffset="-9"/>
<rect x="36" y="236" width="1" height="12"/>
<rect x="31" y="236" width="9" height="1"/>
<rect x="31" y="247" width="9" height="1"/>
<rect x="37" y="242" width="5" height="222"/>
<rect x="38" y="243" width="3" height="221" fill="#fff"/>
<path d="M39.5 243V464" stroke-width="3" stroke-dasharray="4 4" stroke-dashoffset="1"/>
<rect x="39" y="239" width="1" height="7"/>
<rect x="35" y="239" width="9" height="1"/>
<rect x="35" y="245" width="9" height="1"/>
<rect x="41" y="246" width="4" height="218"/>
<rect x="42" y="247" width="2" height="217" fill="#fff"/>
<path d="M43 247V464" stroke-width="2" stroke-dasharray="2 2"/>
<rect x="42" y="243" width="1" height="7"/>
<rect x="38" y="243" width="9" height="1"/>
<rect x="38" y="249" width="9" height="1"/>
<rect x="51" y="275" width="5" height="189"/>
<rect x="52" y="276" width="3" height="188" fill="#fff"/>
<rect x="53" y="270" width="1" height="11"/>
<rect x="49" y="270" width="9" height="1"/>
<rect x="49" y="280" width="9" height="1"/>
<rect x="55" y="255" width="1" height="209"/>
<rect x="58" y="255" width="1" height="209"/>
<rect x="55" y="255" width="4" height="1"/>
<path d="M56.5 256V464" stroke-width="1" stroke-dasharray="1 5" stroke-dashoffset="-4"/>
<path d="M57.5 256V464" stroke-width="1" stroke-dasharray="1 5" stroke-dashoffset="-3"/>
<rect x="56" y="251" width="1" height="9"/>
<rect x="52" y="251" width="9" height="1"/>
<rect x="52" y="259" width="9" height="1"/>
<rect x="58" y="232" width="1" height="232"/>
<rect x="61" y="232" width="1" height="232"/>
<rect x="58" y="232" width="4" height="1"/>
<path d="M59.5 233V464" stroke-width="1" stroke-dasharray="1 5 1 6" stroke-dashoffset="-2"/>
<path d="M60.5 233V464" stroke-width="1" stroke-dasharray="1 3 1 8" stroke-dashoffset="-3"/>
<rect x="60" y="229" width="1" height="6"/>
<rect x="55" y="229" width="9" height="1"/>
<rect x="55" y="234" width="9" height="1"/>
<rect x="61" y="229" width="5" height="235"/>
<rect x="62" y="230" width="3" height="234" fill="#fff"/>
<path d="M63.5 230V464" stroke-width="3" stroke-dasharray="4 4" stroke-dashoffset="-4"/>
<rect x="63" y="223" width="1" height="14"/>
<rect x="59" y="223" width="9" height="1"/>
<rect x="59" y="236" width="9" height="1"/>
<rect x="65" y="240" width="4" height="224"/>
<rect x="66" y="241" width="2" height="223" fill="#fff"/>
<path d="M67 241V464" stroke-width="2" stroke-dasharray="2 2" stroke-dashoffset="-2"/>
<rect x="66" y="235" width="1" height="10"/>
<rect x="62" y="235" width="9" height="1"/>
<rect x="62" y="244" width="9" height="1"/>
<rect x="75" y="277" width="4" height="187"/>
<rect x="76" y="278" width="2" height="186" fill="#fff"/>
<rect x="77" y="276" width="1" height="3"/>
<rect x="73" y="276" width="9" height="1"/>
<rect x="73" y="278" width="9" height="1"/>
<rect x="78" y="256" width="1" height="208"/>
<rect x="82" y="256" width="1" height="208"/>
<rect x="78" y="256" width="5" height="1"/>
<path d="M79.5 257V464" stroke-width="1" stroke-dasharray="1 5" stroke-dashoffset="-4"/>
<path d="M80.5 257V464" stroke-width="1" stroke-dasharray="1 5" stroke-dashoffset="-3"/>
<path d="M81.5 257V464" stroke-width="1" stroke-dasharray="1 5" stroke-dashoffset="-2"/>
<rect x="80" y="252" width="1" height="8"/>
<rect x="76" y="252" width="9" height="1"/>
<rect x="76" y="259" width="9" height="1"/>
<rect x="82" y="238" width="1" height="226"/>
<rect x="85" y="238" width="1" height="226"/>
<rect x="82" y="238" width="4" height="1"/>
<path d="M83.5 239V464" stroke-width="1" stroke-dasharray="1 2 1 9" stroke-dashoffset="-4"/>
<path d="M84.5 239V464" stroke-width="1" stroke-dasharray="1 4 1 7" stroke-dashoffset="-3"/>
<rect x="84" y="232" width="1" height="12"/>
<rect x="79" y="232" width="9" height="1"/>
<rect x="79" y="243" width="9" height="1"/>
<rect x="85" y="240" width="5" height="224"/>
<rect x="86" y="241" width="3" height="223" fill="#fff"/>
<path d="M87.5 241V464" stroke-width="3" stroke-dasharray="4 4" stroke-dashoffset="-1"/>
<rect x="87" y="238" width="1" height="5"/>
<rect x="83" y="238" width="9" height="1"/>
<rect x="83" y="242" width="9" height="1"/>
<rect x="89" y="243" width="4" height="221"/>
<rect x="90" y="244" width="2" height="220" fill="#fff"/>
<path d="M91 244V464" stroke-width="2" stroke-dasharray="2 2" stroke-dashoffset="1"/>
<rect x="90" y="239" width="1" height="8"/>
<rect x="86" y="239" width="9" height="1"/>
<rect x="86" y="246" width="9" height="1"/>
<rect x="99" y="270" width="4" height="194"/>
<rect x="100" y="271" width="2" height="193" fill="#fff"/>
<rect x="101" y="268" width="1" height="6"/>
<rect x="97" y="268" width="9" height="1"/>
<rect x="97" y="273" width="9" height="1"/>
<rect x="102" y="247" width="1" height="217"/>
<rect x="106" y="247" width="1" height="217"/>
<rect x="102" y="247" width="5" height="1"/>
<path d="M103.5 248V464" stroke-width="1" stroke-dasharray="1 5" stroke-dashoffset="-1"/>
<path d="M104.5 248V464" stroke-width="1" stroke-dasharray="1 5"/>
<path d="M105.5 248V464" stroke-width="1" stroke-dasharray="1 5" stroke-dashoffset="-5"/>
<rect x="104" y="244" width="1" height="6"/>
<rect x="100" y="244" width="9" height="1"/>
<rect x="100" y="249" width="9" height="1"/>
<rect x="106" y="222" width="1" height="242"/>
<rect x="109" y="222" width="1" height="242"/>
<rect x="106" y="222" width="4" height="1"/>
<path d="M108 223V464" stroke-width="2" stroke-dasharray="2 11" stroke-dashoffset="-8"/>
<rect x="108" y="215" width="1" height="15"/>
<rect x="103" y="215" width="9" height="1"/>
<rect x="103" y="229" width="9" height="1"/>
<rect x="109" y="217" width="5" height="247"/>
<rect x="110" y="218" width="3" height="246" fill="#fff"/>
<path d="M111.5 218V464" stroke-width="3" stroke-dasharray="4 4"/>
<rect x="111" y="215" width="1" height="5"/>
<rect x="107" y="215" width="9" height="1"/>
<rect x="107" y="219" width="9" height="1"/>
<rect x="113" y="215" width="4" height="249"/>
<rect x="114" y="216" width="2" height="248" fill="#fff"/>
<path d="M115 216V464" stroke-width="2" stroke-dasharray="2 2" stroke-dashoffset="1"/>
<rect x="114" y="213" width="1" height="5"/>
<rect x="110" y="213" width="9" height="1"/>
<rect x="110" y="217" width="9" height="1"/>
<rect x="123" y="268" width="4" height="196"/>
<rect x="124" y="269" width="2" height="195" fill="#fff"/>
<rect x="125" y="265" width="1" height="7"/>
<rect x="121" y="265" width="9" height="1"/>
<rect x="121" y="271" width="9" height="1"/>
<rect x="126" y="245" width="1" height="219"/>
<rect x="130" y="245" width="1" height="219"/>
<rect x="126" y="245" width="5" height="1"/>
<path d="M127.5 246V464" stroke-width="1" stroke-dasharray="1 5" stroke-dashoffset="-3"/>
<path d="M128.5 246V464" stroke-width="1" stroke-dasharray="1 5" stroke-dashoffset="-2"/>
<path d="M129.5 246V464" stroke-width="1" stroke-dasharray="1 5" stroke-dashoffset="-1"/>
<rect x="128" y="241" width="1" height="9"/>
<rect x="124" y="241" width="9" height="1"/>
<rect x="124" y="249" width="9" height="1"/>
<rect x="130" y="214" width="1" height="250"/>
<rect x="133" y="214" width="1" height="250"/>
<rect x="130" y="214" width="4" height="1"/>
<path d="M131.5 215V464" stroke-width="1" stroke-dasharray="1 4 1 7" stroke-dashoffset="-1"/>
<path d="M132.5 215V464" stroke-width="1" stroke-dasharray="1 2 1 9" stroke-dashoffset="-2"/>
<rect x="132" y="208" width="1" height="13"/>
<rect x="127" y="208" width="9" height="1"/>
<rect x="127" y="220" width="9" height="1"/>
<rect x="133" y="182" width="5" height="282"/>
<rect x="134" y="183" width="3" height="281" fill="#fff"/>
<path d="M135.5 183V464" stroke-width="3" stroke-dasharray="4 4" stroke-dashoffset="-3"/>
<rect x="135" y="178" width="1" height="9"/>
<rect x="131" y="178" width="9" height="1"/>
<rect x="131" y="186" width="9" height="1"/>
<rect x="137" y="194" width="4" height="270"/>
<rect x="138" y="195" width="2" height="269" fill="#fff"/>
<path d="M139 195V464" stroke-width="2" stroke-dasharray="2 2"/>
<rect x="138" y="187" width="1" height="14"/>
<rect x="134" y="187" width="9" height="1"/>
<rect x="134" y="200" width="9" height="1"/>
<rect x="147" y="233" width="4" height="231"/>
<rect x="148" y="234" width="2" height="230" fill="#fff"/>
<rect x="149" y="230" width="1" height="6"/>
<rect x="144" y="230" width="9" height="1"/>
<rect x="144" y="235" width="9" height="1"/>
<rect x="150" y="205" width="1" height="259"/>
<rect x="154" y="205" width="1" height="259"/>
<rect x="150" y="205" width="5" height="1"/>
<path d="M151.5 206V464" stroke-width="1" stroke-dasharray="1 5" stroke-dashoffset="-1"/>
<path d="M152.5 206V464" stroke-width="1" stroke-dasharray="1 5"/>
<path d="M153.5 206V464" stroke-width="1" stroke-dasharray="1 5" stroke-dashoffset="-5"/>
<rect x="152" y="202" width="1" height="6"/>
<rect x="148" y="202" width="9" height="1"/>
<rect x="148" y="207" width="9" height="1"/>
<rect x="154" y="184" width="1" height="280"/>
<rect x="157" y="184" width="1" height="280"/>
<rect x="154" y="184" width="4" height="1"/>
<path d="M155.5 185V464" stroke-width="1" stroke-dasharray="1 8 1 3" stroke-dashoffset="-3"/>
<path d="M156.5 185V464" stroke-width="1" stroke-dasharray="1 6 1 5" stroke-dashoffset="-4"/>
<rect x="155" y="178" width="1" height="12"/>
<rect x="151" y="178" width="9" height="1"/>
<rect x="151" y="189" width="9" height="1"/>
<rect x="157" y="190" width="5" height="274"/>
<rect x="158" y="191" width="3" height="273" fill="#fff"/>
<path d="M159.5 191V464" stroke-width="3" stroke-dasharray="4 4" stroke-dashoffset="-3"/>
<rect x="159" y="187" width="1" height="7"/>
<rect x="155" y="187" width="9" height="1"/>
<rect x="155" y="193" width="9" height="1"/>
<rect x="161" y="189" width="4" height="275"/>
<rect x="162" y="190" width="2" height="274" fill="#fff"/>
<path d="M163 190V464" stroke-width="2" stroke-dasharray="2 2" stroke-dashoffset="-1"/>
<rect x="162" y="186" width="1" height="7"/>
<rect x="158" y="186" width="9" height="1"/>
<rect x="158" y="192" width="9" height="1"/>
<rect x="171" y="226" width="4" height="238"/>
<rect x="172" y="227" width="2" height="237" fill="#fff"/>
<rect x="173" y="221" width="1" height="11"/>
<rect x="168" y="221" width="9" height="1"/>
<rect x="168" y="231" width="9" height="1"/>
<rect x="174" y="201" width="1" height="263"/>
<rect x="178" y="201" width="1" height="263"/>
<rect x="174" y="201" width="5" height="1"/>
<path d="M175.5 202V464" stroke-width="1" stroke-dasharray="1 5" stroke-dashoffset="-5"/>
<path d="M176.5 202V464" stroke-width="1" stroke-dasharray="1 5" stroke-dashoffset="-4"/>
<path d="M177.5 202V464" stroke-width="1" stroke-dasharray="1 5" stroke-dashoffset="-3"/>
<rect x="176" y="198" width="1" height="7"/>
<rect x="172" y="198" width="9" height="1"/>
<rect x="172" y="204" width="9" height="1"/>
<rect x="178" y="181" width="1" height="283"/>
<rect x="181" y="181" width="1" height="283"/>
<rect x="178" y="181" width="4" height="1"/>
<path d="M179.5 182V464" stroke-width="1" stroke-dasharray="1 12" stroke-dashoffset="-4"/>
<path d="M180.5 182V464" stroke-width="1" stroke-dasharray="1 1 1 10" stroke-dashoffset="-3"/>
<rect x="179" y="178" width="1" height="6"/>
<rect x="175" y="178" width="9" height="1"/>
<rect x="175" y="183" width="9" height="1"/>
<rect x="181" y="195" width="5" height="269"/>
<rect x="182" y="196" width="3" height="268" fill="#fff"/>
<path d="M183.5 196V464" stroke-width="3" stroke-dasharray="4 4" stroke-dashoffset="2"/>
<rect x="183" y="191" width="1" height="9"/>
<rect x="179" y="191" width="9" height="1"/>
<rect x="179" y="199" width="9" height="1"/>
<rect x="185" y="201" width="4" height="263"/>
<rect x="186" y="202" width="2" height="262" fill="#fff"/>
<path d="M187 202V464" stroke-width="2" stroke-dasharray="2 2" stroke-dashoffset="-1"/>
<rect x="186" y="199" width="1" height="5"/>
<rect x="182" y="199" width="9" height="1"/>
<rect x="182" y="203" width="9" height="1"/>
<rect x="195" y="239" width="4" height="225"/>
<rect x="196" y="240" width="2" height="224" fill="#fff"/>
<rect x="197" y="235" width="1" height="8"/>
<rect x="192" y="235" width="9" height="1"/>
<rect x="192" y="242" width="9" height="1"/>
<rect x="198" y="221" width="1" height="243"/>
<rect x="202" y="221" width="1" height="243"/>
<rect x="198" y="221" width="5" height="1"/>
<path d="M199.5 222V464" stroke-width="1" stroke-dasharray="1 5" stroke-dashoffset="-3"/>
<path d="M200.5 222V464" stroke-width="1" stroke-dasharray="1 5" stroke-dashoffset="-2"/>
<path d="M201.5 222V464" stroke-width="1" stroke-dasharray="1 5" stroke-dashoffset="-1"/>
<rect x="200" y="216" width="1" height="11"/>
<rect x="196" y="216" width="9" height="1"/>
<rect x="196" y="226" width="9" height="1"/>
<rect x="202" y="204" width="1" height="260"/>
<rect x="205" y="204" width="1" height="260"/>
<rect x="202" y="204" width="4" height="1"/>
<path d="M203.5 205V464" stroke-width="1" stroke-dasharray="1 3 1 8" stroke-dashoffset="-5"/>
<path d="M204.5 205V464" stroke-width="1" stroke-dasharray="1 1 1 10" stroke-dashoffset="-6"/>
<rect x="203" y="201" width="1" height="7"/>
<rect x="199" y="201" width="9" height="1"/>
<rect x="199" y="207" width="9" height="1"/>
<rect x="205" y="210" width="5" height="254"/>
<rect x="206" y="211" width="3" height="253" fill="#fff"/>
<path d="M207.5 211V464" stroke-width="3" stroke-dasharray="4 4" stroke-dashoffset="1"/>
<rect x="207" y="207" width="1" height="6"/>
<rect x="203" y="207" width="9" height="1"/>
<rect x="203" y="212" width="9" height="1"/>
<rect x="209" y="211" width="4" height="253"/>
<rect x="210" y="212" width="2" height="252" fill="#fff"/>
<path d="M211 212V464" stroke-width="2" stroke-dasharray="2 2" stroke-dashoffset="1"/>
<rect x="210" y="206" width="1" height="11"/>
<rect x="206" y="206" width="9" height="1"/>
<rect x="206" y="216" width="9" height="1"/>
<rect x="219" y="235" width="4" height="229"/>
<rect x="220" y="236" width="2" height="228" fill="#fff"/>
<rect x="221" y="233" width="1" height="5"/>
<rect x="216" y="233" width="9" height="1"/>
<rect x="216" y="237" width="9" height="1"/>
<rect x="222" y="220" width="1" height="244"/>
<rect x="226" y="220" width="1" height="244"/>
<rect x="222" y="220" width="5" height="1"/>
<path d="M223.5 221V464" stroke-width="1" stroke-dasharray="1 5" stroke-dashoffset="-4"/>
<path d="M224.5 221V464" stroke-width="1" stroke-dasharray="1 5" stroke-dashoffset="-3"/>
<path d="M225.5 221V464" stroke-width="1" stroke-dasharray="1 5" stroke-dashoffset="-2"/>
<rect x="224" y="216" width="1" height="9"/>
<rect x="220" y="216" width="9" height="1"/>
<rect x="220" y="224" width="9" height="1"/>
<rect x="226" y="203" width="1" height="261"/>
<rect x="229" y="203" width="1" height="261"/>
<rect x="226" y="203" width="4" height="1"/>
<path d="M227.5 204V464" stroke-width="1" stroke-dasharray="1 7 1 4" stroke-dashoffset="-4"/>
<path d="M228.5 204V464" stroke-width="1" stroke-dasharray="1 5 1 6" stroke-dashoffset="-5"/>
<rect x="227" y="199" width="1" height="9"/>
<rect x="223" y="199" width="9" height="1"/>
<rect x="223" y="207" width="9" height="1"/>
<rect x="229" y="203" width="5" height="261"/>
<rect x="230" y="204" width="3" height="260" fill="#fff"/>
<path d="M231.5 204V464" stroke-width="3" stroke-dasharray="4 4" stroke-dashoffset="2"/>
<rect x="231" y="201" width="1" height="5"/>
<rect x="227" y="201" width="9" height="1"/>
<rect x="227" y="205" width="9" height="1"/>
<rect x="233" y="202" width="4" height="262"/>
<rect x="234" y="203" width="2" height="261" fill="#fff"/>
<path d="M235 203V464" stroke-width="2" stroke-dasharray="2 2"/>
<rect x="234" y="200" width="1" height="4"/>
<rect x="230" y="200" width="9" height="1"/>
<rect x="230" y="203" width="9" height="1"/>
<rect x="243" y="238" width="4" height="226"/>
<rect x="244" y="239" width="2" height="225" fill="#fff"/>
<rect x="244" y="235" width="1" height="6"/>
<rect x="240" y="235" width="9" height="1"/>
<rect x="240" y="240" width="9" height="1"/>
<rect x="246" y="223" width="1" height="241"/>
<rect x="250" y="223" width="1" height="241"/>
<rect x="246" y="223" width="5" height="1"/>
<path d="M247.5 224V464" stroke-width="1" stroke-dasharray="1 5" stroke-dashoffset="-1"/>
<path d="M248.5 224V464" stroke-width="1" stroke-dasharray="1 5"/>
<path d="M249.5 224V464" stroke-width="1" stroke-dasharray="1 5" stroke-dashoffset="-5"/>
<rect x="248" y="218" width="1" height="11"/>
<rect x="244" y="218" width="9" height="1"/>
<rect x="244" y="228" width="9" height="1"/>
<rect x="250" y="208" width="1" height="256"/>
<rect x="253" y="208" width="1" height="256"/>
<rect x="250" y="208" width="4" height="1"/>
<path d="M251.5 209V464" stroke-width="1" stroke-dasharray="2 11" stroke-dashoffset="-9"/>
<path d="M252.5 209V464" stroke-width="1" stroke-dasharray="1 2 1 9" stroke-dashoffset="-8"/>
<rect x="251" y="206" width="1" height="5"/>
<rect x="247" y="206" width="9" height="1"/>
<rect x="247" y="210" width="9" height="1"/>
<rect x="253" y="208" width="5" height="256"/>
<rect x="254" y="209" width="3" height="255" fill="#fff"/>
<path d="M255.5 209V464" stroke-width="3" stroke-dasharray="4 4" stroke-dashoffset="-1"/>
<rect x="255" y="204" width="1" height="9"/>
<rect x="251" y="204" width="9" height="1"/>
<rect x="251" y="212" width="9" height="1"/>
<rect x="257" y="212" width="4" height="252"/>
<rect x="258" y="213" width="2" height="251" fill="#fff"/>
<path d="M259 213V464" stroke-width="2" stroke-dasharray="2 2" stroke-dashoffset="-2"/>
<rect x="258" y="210" width="1" height="4"/>
<rect x="254" y="210" width="9" height="1"/>
<rect x="254" y="213" width="9" height="1"/>
<rect x="267" y="225" width="4" height="239"/>
<rect x="268" y="226" width="2" height="238" fill="#fff"/>
<rect x="268" y="221" width="1" height="9"/>
<rect x="264" y="221" width="9" height="1"/>
<rect x="264" y="229" width="9" height="1"/>
<rect x="270" y="200" width="1" height="264"/>
<rect x="274" y="200" width="1" height="264"/>
<rect x="270" y="200" width="5" height="1"/>
<path d="M271.5 201V464" stroke-width="1" stroke-dasharray="1 5"/>
<path d="M272.5 201V464" stroke-width="1" stroke-dasharray="1 5" stroke-dashoffset="-5"/>
<path d="M273.5 201V464" stroke-width="1" stroke-dasharray="1 5" stroke-dashoffset="-4"/>
<rect x="272" y="195" width="1" height="11"/>
<rect x="268" y="195" width="9" height="1"/>
<rect x="268" y="205" width="9" height="1"/>
<rect x="274" y="168" width="1" height="296"/>
<rect x="277" y="168" width="1" height="296"/>
<rect x="274" y="168" width="4" height="1"/>
<path d="M275.5 169V464" stroke-width="1" stroke-dasharray="1 2 1 9" stroke-dashoffset="-9"/>
<path d="M276.5 169V464" stroke-width="1" stroke-dasharray="2 11" stroke-dashoffset="-10"/>
<rect x="275" y="164" width="1" height="9"/>
<rect x="271" y="164" width="9" height="1"/>
<rect x="271" y="172" width="9" height="1"/>
<rect x="277" y="170" width="5" height="294"/>
<rect x="278" y="171" width="3" height="293" fill="#fff"/>
<path d="M279.5 171V464" stroke-width="3" stroke-dasharray="4 4" stroke-dashoffset="1"/>
<rect x="279" y="167" width="1" height="7"/>
<rect x="275" y="167" width="9" height="1"/>
<rect x="275" y="173" width="9" height="1"/>
<rect x="281" y="175" width="4" height="289"/>
<rect x="282" y="176" width="2" height="288" fill="#fff"/>
<path d="M283 176V464" stroke-width="2" stroke-dasharray="2 2" stroke-dashoffset="1"/>
<rect x="282" y="169" width="1" height="13"/>
<rect x="278" y="169" width="9" height="1"/>
<rect x="278" y="181" width="9" height="1"/>
<rect x="291" y="259" width="4" height="205"/>
<rect x="292" y="260" width="2" height="204" fill="#fff"/>
<rect x="292" y="256" width="1" height="8"/>
<rect x="288" y="256" width="9" height="1"/>
<rect x="288" y="263" width="9" height="1"/>
<rect x="294" y="245" width="1" height="219"/>
<rect x="298" y="245" width="1" height="219"/>
<rect x="294" y="245" width="5" height="1"/>
<path d="M295.5 246V464" stroke-width="1" stroke-dasharray="1 5" stroke-dashoffset="-3"/>
<path d="M296.5 246V464" stroke-width="1" stroke-dasharray="1 5" stroke-dashoffset="-2"/>
<path d="M297.5 246V464" stroke-width="1" stroke-dasharray="1 5" stroke-dashoffset="-1"/>
<rect x="296" y="241" width="1" height="9"/>
<rect x="292" y="241" width="9" height="1"/>
<rect x="292" y="249" width="9" height="1"/>
<rect x="298" y="209" width="1" height="255"/>
<rect x="301" y="209" width="1" height="255"/>
<rect x="298" y="209" width="4" height="1"/>
<path d="M299.5 210V464" stroke-width="1" stroke-dasharray="1 6 1 5" stroke-dashoffset="-5"/>
<path d="M300.5 210V464" stroke-width="1" stroke-dasharray="1 4 1 7" stroke-dashoffset="-6"/>
<rect x="299" y="204" width="1" height="10"/>
<rect x="295" y="204" width="9" height="1"/>
<rect x="295" y="213" width="9" height="1"/>
<rect x="301" y="198" width="5" height="266"/>
<rect x="302" y="199" width="3" height="265" fill="#fff"/>
<path d="M303.5 199V464" stroke-width="3" stroke-dasharray="4 4" stroke-dashoffset="-3"/>
<rect x="303" y="195" width="1" height="7"/>
<rect x="299" y="195" width="9" height="1"/>
<rect x="299" y="201" width="9" height="1"/>
<rect x="305" y="193" width="4" height="271"/>
<rect x="306" y="194" width="2" height="270" fill="#fff"/>
<path d="M307 194V464" stroke-width="2" stroke-dasharray="2 2" stroke-dashoffset="-1"/>
<rect x="306" y="188" width="1" height="11"/>
<rect x="302" y="188" width="9" height="1"/>
<rect x="302" y="198" width="9" height="1"/>
<rect x="315" y="220" width="4" height="244"/>
<rect x="316" y="221" width="2" height="243" fill="#fff"/>
<rect x="316" y="219" width="1" height="3"/>
<rect x="312" y="219" width="9" height="1"/>
<rect x="312" y="221" width="9" height="1"/>
<rect x="318" y="197" width="1" height="267"/>
<rect x="322" y="197" width="1" height="267"/>
<rect x="318" y="197" width="5" height="1"/>
<path d="M319.5 198V464" stroke-width="1" stroke-dasharray="1 5" stroke-dashoffset="-3"/>
<path d="M320.5 198V464" stroke-width="1" stroke-dasharray="1 5" stroke-dashoffset="-2"/>
<path d="M321.5 198V464" stroke-width="1" stroke-dasharray="1 5" stroke-dashoffset="-1"/>
<rect x="320" y="192" width="1" height="11"/>
<rect x="316" y="192" width="9" height="1"/>
<rect x="316" y="202" width="9" height="1"/>
<rect x="322" y="177" width="1" height="287"/>
<rect x="325" y="177" width="1" height="287"/>
<rect x="322" y="177" width="4" height="1"/>
<path d="M323.5 178V464" stroke-width="1" stroke-dasharray="1 1 1 10" stroke-dashoffset="-7"/>
<path d="M324.5 178V464" stroke-width="1" stroke-dasharray="1 3 1 8" stroke-dashoffset="-6"/>
<rect x="323" y="175" width="1" height="4"/>
<rect x="319" y="175" width="9" height="1"/>
<rect x="319" y="178" width="9" height="1"/>
<rect x="325" y="162" width="5" height="302"/>
<rect x="326" y="163" width="3" height="301" fill="#fff"/>
<path d="M327.5 163V464" stroke-width="3" stroke-dasharray="4 4" stroke-dashoffset="1"/>
<rect x="327" y="157" width="1" height="10"/>
<rect x="323" y="157" width="9" height="1"/>
<rect x="323" y="166" width="9" height="1"/>
<rect x="329" y="163" width="4" height="301"/>
<rect x="330" y="164" width="2" height="300" fill="#fff"/>
<path d="M331 164V464" stroke-width="2" stroke-dasharray="2 2" stroke-dashoffset="1"/>
<rect x="330" y="160" width="1" height="7"/>
<rect x="326" y="160" width="9" height="1"/>
<rect x="326" y="166" width="9" height="1"/>
<rect x="339" y="223" width="4" height="241"/>
<rect x="340" y="224" width="2" height="240" fill="#fff"/>
<rect x="340" y="220" width="1" height="7"/>
<rect x="336" y="220" width="9" height="1"/>
<rect x="336" y="226" width="9" height="1"/>
<rect x="342" y="201" width="1" height="263"/>
<rect x="346" y="201" width="1" height="263"/>
<rect x="342" y="201" width="5" height="1"/>
<path d="M343.5 202V464" stroke-width="1" stroke-dasharray="1 5" stroke-dashoffset="-5"/>
<path d="M344.5 202V464" stroke-width="1" stroke-dasharray="1 5" stroke-dashoffset="-4"/>
<path d="M345.5 202V464" stroke-width="1" stroke-dasharray="1 5" stroke-dashoffset="-3"/>
<rect x="344" y="198" width="1" height="7"/>
<rect x="340" y="198" width="9" height="1"/>
<rect x="340" y="204" width="9" height="1"/>
<rect x="346" y="161" width="1" height="303"/>
<rect x="349" y="161" width="1" height="303"/>
<rect x="346" y="161" width="4" height="1"/>
<path d="M347.5 162V464" stroke-width="1" stroke-dasharray="1 1 1 10" stroke-dashoffset="-10"/>
<path d="M348.5 162V464" stroke-width="1" stroke-dasharray="1 12" stroke-dashoffset="-11"/>
<rect x="347" y="156" width="1" height="10"/>
<rect x="343" y="156" width="9" height="1"/>
<rect x="343" y="165" width="9" height="1"/>
<rect x="349" y="159" width="5" height="305"/>
<rect x="350" y="160" width="3" height="304" fill="#fff"/>
<path d="M351.5 160V464" stroke-width="3" stroke-dasharray="4 4" stroke-dashoffset="-2"/>
<rect x="351" y="154" width="1" height="11"/>
<rect x="347" y="154" width="9" height="1"/>
<rect x="347" y="164" width="9" height="1"/>
<rect x="353" y="164" width="4" height="300"/>
<rect x="354" y="165" width="2" height="299" fill="#fff"/>
<path d="M355 165V464" stroke-width="2" stroke-dasharray="2 2" stroke-dashoffset="-2"/>
<rect x="354" y="158" width="1" height="12"/>
<rect x="350" y="158" width="9" height="1"/>
<rect x="350" y="169" width="9" height="1"/>
<rect x="363" y="203" width="4" height="261"/>
<rect x="364" y="204" width="2" height="260" fill="#fff"/>
<rect x="364" y="200" width="1" height="7"/>
<rect x="360" y="200" width="9" height="1"/>
<rect x="360" y="206" width="9" height="1"/>
<rect x="366" y="192" width="1" height="272"/>
<rect x="370" y="192" width="1" height="272"/>
<rect x="366" y="192" width="5" height="1"/>
<path d="M367.5 193V464" stroke-width="1" stroke-dasharray="1 5" stroke-dashoffset="-2"/>
<path d="M368.5 193V464" stroke-width="1" stroke-dasharray="1 5" stroke-dashoffset="-1"/>
<path d="M369.5 193V464" stroke-width="1" stroke-dasharray="1 5"/>
<rect x="368" y="184" width="1" height="17"/>
<rect x="364" y="184" width="9" height="1"/>
<rect x="364" y="200" width="9" height="1"/>
<rect x="370" y="162" width="1" height="302"/>
<rect x="373" y="162" width="1" height="302"/>
<rect x="370" y="162" width="4" height="1"/>
<path d="M371.5 163V464" stroke-width="1" stroke-dasharray="1 6 1 5"/>
<path d="M372.5 163V464" stroke-width="1" stroke-dasharray="1 3 1 8" stroke-dashoffset="-8"/>
<rect x="371" y="154" width="1" height="17"/>
<rect x="367" y="154" width="9" height="1"/>
<rect x="367" y="170" width="9" height="1"/>
<rect x="373" y="174" width="5" height="290"/>
<rect x="374" y="175" width="3" height="289" fill="#fff"/>
<path d="M375.5 175V464" stroke-width="3" stroke-dasharray="4 4" stroke-dashoffset="-3"/>
<rect x="375" y="171" width="1" height="7"/>
<rect x="371" y="171" width="9" height="1"/>
<rect x="371" y="177" width="9" height="1"/>
<rect x="377" y="175" width="4" height="289"/>
<rect x="378" y="176" width="2" height="288" fill="#fff"/>
<path d="M379 176V464" stroke-width="2" stroke-dasharray="2 2" stroke-dashoffset="1"/>
<rect x="378" y="167" width="1" height="17"/>
<rect x="374" y="167" width="9" height="1"/>
<rect x="374" y="183" width="9" height="1"/>
<rect x="387" y="223" width="4" height="241"/>
<rect x="388" y="224" width="2" height="240" fill="#fff"/>
<rect x="388" y="218" width="1" height="11"/>
<rect x="384" y="218" width="9" height="1"/>
<rect x="384" y="228" width="9" height="1"/>
<rect x="390" y="198" width="1" height="266"/>
<rect x="394" y="198" width="1" height="266"/>
<rect x="390" y="198" width="5" height="1"/>
<path d="M391.5 199V464" stroke-width="1" stroke-dasharray="1 5" stroke-dashoffset="-2"/>
<path d="M392.5 199V464" stroke-width="1" stroke-dasharray="1 5" stroke-dashoffset="-1"/>
<path d="M393.5 199V464" stroke-width="1" stroke-dasharray="1 5"/>
<rect x="392" y="193" width="1" height="10"/>
<rect x="388" y="193" width="9" height="1"/>
<rect x="388" y="202" width="9" height="1"/>
<rect x="394" y="179" width="1" height="285"/>
<rect x="397" y="179" width="1" height="285"/>
<rect x="394" y="179" width="4" height="1"/>
<path d="M395.5 180V464" stroke-width="1" stroke-dasharray="1 9 1 2" stroke-dashoffset="-1"/>
<path d="M396.5 180V464" stroke-width="1" stroke-dasharray="1 7 1 4" stroke-dashoffset="-2"/>
<rect x="395" y="175" width="1" height="9"/>
<rect x="391" y="175" width="9" height="1"/>
<rect x="391" y="183" width="9" height="1"/>
<rect x="397" y="176" width="5" height="288"/>
<rect x="398" y="177" width="3" height="287" fill="#fff"/>
<path d="M399.5 177V464" stroke-width="3" stroke-dasharray="4 4" stroke-dashoffset="-1"/>
<rect x="399" y="174" width="1" height="4"/>
<rect x="395" y="174" width="9" height="1"/>
<rect x="395" y="177" width="9" height="1"/>
<rect x="401" y="175" width="4" height="289"/>
<rect x="402" y="176" width="2" height="288" fill="#fff"/>
<path d="M403 176V464" stroke-width="2" stroke-dasharray="2 2" stroke-dashoffset="1"/>
<rect x="402" y="167" width="1" height="17"/>
<rect x="398" y="167" width="9" height="1"/>
<rect x="398" y="183" width="9" height="1"/>
<rect x="411" y="223" width="4" height="241"/>
<rect x="412" y="224" width="2" height="240" fill="#fff"/>
<rect x="412" y="219" width="1" height="9"/>
<rect x="408" y="219" width="9" height="1"/>
<rect x="408" y="227" width="9" height="1"/>
<rect x="414" y="207" width="1" height="257"/>
<rect x="418" y="207" width="1" height="257"/>
<rect x="414" y="207" width="5" height="1"/>
<path d="M415.5 208V464" stroke-width="1" stroke-dasharray="1 5" stroke-dashoffset="-5"/>
<path d="M416.5 208V464" stroke-width="1" stroke-dasharray="1 5" stroke-dashoffset="-4"/>
<path d="M417.5 208V464" stroke-width="1" stroke-dasharray="1 5" stroke-dashoffset="-3"/>
<rect x="416" y="202" width="1" height="10"/>
<rect x="412" y="202" width="9" height="1"/>
<rect x="412" y="211" width="9" height="1"/>
<rect x="418" y="165" width="1" height="299"/>
<rect x="421" y="165" width="1" height="299"/>
<rect x="418" y="165" width="4" height="1"/>
<path d="M420 166V464" stroke-width="2" stroke-dasharray="2 11"/>
<rect x="419" y="150" width="1" height="31"/>
<rect x="415" y="150" width="9" height="1"/>
<rect x="415" y="180" width="9" height="1"/>
<rect x="421" y="162" width="5" height="302"/>
<rect x="422" y="163" width="3" height="301" fill="#fff"/>
<path d="M423.5 163V464" stroke-width="3" stroke-dasharray="4 4" stroke-dashoffset="1"/>
<rect x="423" y="155" width="1" height="16"/>
<rect x="419" y="155" width="9" height="1"/>
<rect x="419" y="170" width="9" height="1"/>
<rect x="425" y="167" width="4" height="297"/>
<rect x="426" y="168" width="2" height="296" fill="#fff"/>
<path d="M427 168V464" stroke-width="2" stroke-dasharray="2 2" stroke-dashoffset="1"/>
<rect x="426" y="160" width="1" height="14"/>
<rect x="422" y="160" width="9" height="1"/>
<rect x="422" y="173" width="9" height="1"/>
<rect x="435" y="215" width="4" height="249"/>
<rect x="436" y="216" width="2" height="248" fill="#fff"/>
<rect x="436" y="212" width="1" height="7"/>
<rect x="432" y="212" width="9" height="1"/>
<rect x="432" y="218" width="9" height="1"/>
<rect x="438" y="196" width="1" height="268"/>
<rect x="442" y="196" width="1" height="268"/>
<rect x="438" y="196" width="5" height="1"/>
<path d="M439.5 197V464" stroke-width="1" stroke-dasharray="1 5" stroke-dashoffset="-4"/>
<path d="M440.5 197V464" stroke-width="1" stroke-dasharray="1 5" stroke-dashoffset="-3"/>
<path d="M441.5 197V464" stroke-width="1" stroke-dasharray="1 5" stroke-dashoffset="-2"/>
<rect x="440" y="192" width="1" height="8"/>
<rect x="436" y="192" width="9" height="1"/>
<rect x="436" y="199" width="9" height="1"/>
<rect x="442" y="167" width="1" height="297"/>
<rect x="445" y="167" width="1" height="297"/>
<rect x="442" y="167" width="4" height="1"/>
<path d="M443.5 168V464" stroke-width="1" stroke-dasharray="1 7 1 4" stroke-dashoffset="-1"/>
<path d="M444.5 168V464" stroke-width="1" stroke-dasharray="1 9 1 2"/>
<rect x="443" y="162" width="1" height="11"/>
<rect x="439" y="162" width="9" height="1"/>
<rect x="439" y="172" width="9" height="1"/>
<rect x="445" y="168" width="4" height="296"/>
<rect x="446" y="169" width="2" height="295" fill="#fff"/>
<path d="M447 169V464" stroke-width="2" stroke-dasharray="4 4" stroke-dashoffset="-1"/>
<rect x="447" y="165" width="1" height="7"/>
<rect x="443" y="165" width="9" height="1"/>
<rect x="443" y="171" width="9" height="1"/>
<rect x="448" y="168" width="5" height="296"/>
<rect x="449" y="169" width="3" height="295" fill="#fff"/>
<path d="M449.5 169V464" stroke-width="1" stroke-dasharray="2 2"/>
<path d="M451 169V464" stroke-width="2" stroke-dasharray="2 2" stroke-dashoffset="-2"/>
<rect x="450" y="164" width="1" height="9"/>
<rect x="446" y="164" width="9" height="1"/>
<rect x="446" y="172" width="9" height="1"/>
<rect x="459" y="224" width="4" height="240"/>
<rect x="460" y="225" width="2" height="239" fill="#fff"/>
<rect x="460" y="220" width="1" height="8"/>
<rect x="456" y="220" width="9" height="1"/>
<rect x="456" y="227" width="9" height="1"/>
<rect x="462" y="203" width="1" height="261"/>
<rect x="466" y="203" width="1" height="261"/>
<rect x="462" y="203" width="5" height="1"/>
<path d="M463.5 204V464" stroke-width="1" stroke-dasharray="1 5" stroke-dashoffset="-3"/>
<path d="M464.5 204V464" stroke-width="1" stroke-dasharray="1 5" stroke-dashoffset="-2"/>
<path d="M465.5 204V464" stroke-width="1" stroke-dasharray="1 5" stroke-dashoffset="-1"/>
<rect x="464" y="196" width="1" height="14"/>
<rect x="460" y="196" width="9" height="1"/>
<rect x="460" y="209" width="9" height="1"/>
<rect x="466" y="170" width="1" height="294"/>
<rect x="469" y="170" width="1" height="294"/>
<rect x="466" y="170" width="4" height="1"/>
<path d="M467.5 171V464" stroke-width="1" stroke-dasharray="1 3 1 8"/>
<path d="M468.5 171V464" stroke-width="1" stroke-dasharray="1 6 1 5" stroke-dashoffset="-5"/>
<rect x="467" y="159" width="1" height="23"/>
<rect x="463" y="159" width="9" height="1"/>
<rect x="463" y="181" width="9" height="1"/>
<rect x="469" y="180" width="4" height="284"/>
<rect x="470" y="181" width="2" height="283" fill="#fff"/>
<path d="M471 181V464" stroke-width="2" stroke-dasharray="4 4" stroke-dashoffset="3"/>
<rect x="471" y="177" width="1" height="6"/>
<rect x="467" y="177" width="9" height="1"/>
<rect x="467" y="182" width="9" height="1"/>
<rect x="472" y="182" width="5" height="282"/>
<rect x="473" y="183" width="3" height="281" fill="#fff"/>
<path d="M473.5 183V464" stroke-width="1" stroke-dasharray="2 2" stroke-dashoffset="-2"/>
<path d="M475 183V464" stroke-width="2" stroke-dasharray="2 2"/>
<rect x="474" y="177" width="1" height="10"/>
<rect x="470" y="177" width="9" height="1"/>
<rect x="470" y="186" width="9" height="1"/>
<rect x="483" y="225" width="4" height="239"/>
<rect x="484" y="226" width="2" height="238" fill="#fff"/>
<rect x="484" y="221" width="1" height="9"/>
<rect x="480" y="221" width="9" height="1"/>
<rect x="480" y="229" width="9" height="1"/>
<rect x="486" y="207" width="1" height="257"/>
<rect x="490" y="207" width="1" height="257"/>
<rect x="486" y="207" width="5" height="1"/>
<path d="M487.5 208V464" stroke-width="1" stroke-dasharray="1 5" stroke-dashoffset="-5"/>
<path d="M488.5 208V464" stroke-width="1" stroke-dasharray="1 5" stroke-dashoffset="-4"/>
<path d="M489.5 208V464" stroke-width="1" stroke-dasharray="1 5" stroke-dashoffset="-3"/>
<rect x="488" y="202" width="1" height="11"/>
<rect x="484" y="202" width="9" height="1"/>
<rect x="484" y="212" width="9" height="1"/>
<rect x="490" y="176" width="1" height="288"/>
<rect x="493" y="176" width="1" height="288"/>
<rect x="490" y="176" width="4" height="1"/>
<path d="M491.5 177V464" stroke-width="1" stroke-dasharray="1 12" stroke-dashoffset="-9"/>
<path d="M492.5 177V464" stroke-width="1" stroke-dasharray="1 1 1 10" stroke-dashoffset="-8"/>
<rect x="491" y="167" width="1" height="19"/>
<rect x="487" y="167" width="9" height="1"/>
<rect x="487" y="185" width="9" height="1"/>
<rect x="493" y="177" width="4" height="287"/>
<rect x="494" y="178" width="2" height="286" fill="#fff"/>
<path d="M495 178V464" stroke-width="2" stroke-dasharray="4 4"/>
<rect x="495" y="175" width="1" height="4"/>
<rect x="491" y="175" width="9" height="1"/>
<rect x="491" y="178" width="9" height="1"/>
<rect x="496" y="180" width="5" height="284"/>
<rect x="497" y="181" width="3" height="283" fill="#fff"/>
<path d="M497.5 181V464" stroke-width="1" stroke-dasharray="2 2"/>
<path d="M499 181V464" stroke-width="2" stroke-dasharray="2 2" stroke-dashoffset="-2"/>
<rect x="498" y="177" width="1" height="7"/>
<rect x="494" y="177" width="9" height="1"/>
<rect x="494" y="183" width="9" height="1"/>
<rect x="507" y="223" width="4" height="241"/>
<rect x="508" y="224" width="2" height="240" fill="#fff"/>
<rect x="508" y="217" width="1" height="13"/>
<rect x="504" y="217" width="9" height="1"/>
<rect x="504" y="229" width="9" height="1"/>
<rect x="510" y="210" width="1" height="254"/>
<rect x="514" y="210" width="1" height="254"/>
<rect x="510" y="210" width="5" height="1"/>
<path d="M511.5 211V464" stroke-width="1" stroke-dasharray="1 5" stroke-dashoffset="-2"/>
<path d="M512.5 211V464" stroke-width="1" stroke-dasharray="1 5" stroke-dashoffset="-1"/>
<path d="M513.5 211V464" stroke-width="1" stroke-dasharray="1 5"/>
<rect x="512" y="205" width="1" height="11"/>
<rect x="508" y="205" width="9" height="1"/>
<rect x="508" y="215" width="9" height="1"/>
<rect x="514" y="168" width="1" height="296"/>
<rect x="517" y="168" width="1" height="296"/>
<rect x="514" y="168" width="4" height="1"/>
<path d="M515.5 169V464" stroke-width="1" stroke-dasharray="1 3 1 8" stroke-dashoffset="-2"/>
<path d="M516.5 169V464" stroke-width="1" stroke-dasharray="1 1 1 10" stroke-dashoffset="-3"/>
<rect x="515" y="160" width="1" height="17"/>
<rect x="511" y="160" width="9" height="1"/>
<rect x="511" y="176" width="9" height="1"/>
<rect x="517" y="160" width="4" height="304"/>
<rect x="518" y="161" width="2" height="303" fill="#fff"/>
<path d="M519 161V464" stroke-width="2" stroke-dasharray="4 4" stroke-dashoffset="-1"/>
<rect x="519" y="157" width="1" height="7"/>
<rect x="514" y="157" width="9" height="1"/>
<rect x="514" y="163" width="9" height="1"/>
<rect x="520" y="160" width="5" height="304"/>
<rect x="521" y="161" width="3" height="303" fill="#fff"/>
<path d="M521.5 161V464" stroke-width="1" stroke-dasharray="2 2"/>
<path d="M523 161V464" stroke-width="2" stroke-dasharray="2 2" stroke-dashoffset="-2"/>
<rect x="522" y="155" width="1" height="11"/>
<rect x="518" y="155" width="9" height="1"/>
<rect x="518" y="165" width="9" height="1"/>
<rect x="531" y="206" width="4" height="258"/>
<rect x="532" y="207" width="2" height="257" fill="#fff"/>
<rect x="532" y="203" width="1" height="7"/>
<rect x="528" y="203" width="9" height="1"/>
<rect x="528" y="209" width="9" height="1"/>
<rect x="534" y="195" width="1" height="269"/>
<rect x="537" y="195" width="1" height="269"/>
<rect x="534" y="195" width="4" height="1"/>
<path d="M535.5 196V464" stroke-width="1" stroke-dasharray="1 5" stroke-dashoffset="-5"/>
<path d="M536.5 196V464" stroke-width="1" stroke-dasharray="1 5" stroke-dashoffset="-4"/>
<rect x="536" y="189" width="1" height="13"/>
<rect x="532" y="189" width="9" height="1"/>
<rect x="532" y="201" width="9" height="1"/>
<rect x="537" y="179" width="1" height="285"/>
<rect x="541" y="179" width="1" height="285"/>
<rect x="537" y="179" width="5" height="1"/>
<path d="M538.5 180V464" stroke-width="1" stroke-dasharray="1 9 1 2" stroke-dashoffset="-1"/>
<path d="M539.5 180V464" stroke-width="1" stroke-dasharray="1 7 1 4" stroke-dashoffset="-2"/>
<path d="M540.5 180V464" stroke-width="1" stroke-dasharray="1 5 1 6" stroke-dashoffset="-3"/>
<rect x="539" y="175" width="1" height="9"/>
<rect x="535" y="175" width="9" height="1"/>
<rect x="535" y="183" width="9" height="1"/>
<rect x="541" y="179" width="4" height="285"/>
<rect x="542" y="180" width="2" height="284" fill="#fff"/>
<path d="M543 180V464" stroke-width="2" stroke-dasharray="4 4" stroke-dashoffset="2"/>
<rect x="543" y="176" width="1" height="7"/>
<rect x="538" y="176" width="9" height="1"/>
<rect x="538" y="182" width="9" height="1"/>
<rect x="544" y="179" width="5" height="285"/>
<rect x="545" y="180" width="3" height="284" fill="#fff"/>
<path d="M545.5 180V464" stroke-width="1" stroke-dasharray="2 2" stroke-dashoffset="-1"/>
<path d="M547 180V464" stroke-width="2" stroke-dasharray="2 2" stroke-dashoffset="1"/>
<rect x="546" y="176" width="1" height="7"/>
<rect x="542" y="176" width="9" height="1"/>
<rect x="542" y="182" width="9" height="1"/>
<rect x="555" y="222" width="4" height="242"/>
<rect x="556" y="223" width="2" height="241" fill="#fff"/>
<rect x="556" y="217" width="1" height="12"/>
<rect x="552" y="217" width="9" height="1"/>
<rect x="552" y="228" width="9" height="1"/>
<rect x="558" y="203" width="1" height="261"/>
<rect x="561" y="203" width="1" height="261"/>
<rect x="558" y="203" width="4" height="1"/>
<path d="M559.5 204V464" stroke-width="1" stroke-dasharray="1 5" stroke-dashoffset="-3"/>
<path d="M560.5 204V464" stroke-width="1" stroke-dasharray="1 5" stroke-dashoffset="-2"/>
<rect x="560" y="199" width="1" height="9"/>
<rect x="556" y="199" width="9" height="1"/>
<rect x="556" y="207" width="9" height="1"/>
<rect x="561" y="171" width="1" height="293"/>
<rect x="565" y="171" width="1" height="293"/>
<rect x="561" y="171" width="5" height="1"/>
<path d="M563 172V464" stroke-width="2" stroke-dasharray="2 11" stroke-dashoffset="-7"/>
<path d="M564.5 172V464" stroke-width="1" stroke-dasharray="1 2 1 9" stroke-dashoffset="-6"/>
<rect x="563" y="162" width="1" height="19"/>
<rect x="559" y="162" width="9" height="1"/>
<rect x="559" y="180" width="9" height="1"/>
<rect x="565" y="169" width="4" height="295"/>
<rect x="566" y="170" width="2" height="294" fill="#fff"/>
<path d="M567 170V464" stroke-width="2" stroke-dasharray="4 4"/>
<rect x="567" y="161" width="1" height="16"/>
<rect x="562" y="161" width="9" height="1"/>
<rect x="562" y="176" width="9" height="1"/>
<rect x="568" y="166" width="5" height="298"/>
<rect x="569" y="167" width="3" height="297" fill="#fff"/>
<path d="M569.5 167V464" stroke-width="1" stroke-dasharray="2 2" stroke-dashoffset="-2"/>
<path d="M571 167V464" stroke-width="2" stroke-dasharray="2 2"/>
<rect x="570" y="163" width="1" height="6"/>
<rect x="566" y="163" width="9" height="1"/>
<rect x="566" y="168" width="9" height="1"/>
<rect x="-1" y="-1" width="2" height="466"/>
<rect x="575" y="-1" width="2" height="466"/>
<rect x="-1" y="-1" width="578" height="2"/>
<rect x="-9" y="463" width="586" height="2"/>
<rect x="-9" y="463" width="9" height="2"/>
<rect x="-4" y="434" width="4" height="2"/>
<rect x="-9" y="405" width="9" height="2"/>
<rect x="-4" y="376" width="4" height="2"/>
<rect x="-9" y="347" width="9" height="2"/>
<rect x="-4" y="318" width="4" height="2"/>
<rect x="-9" y="289" width="9" height="2"/>
<rect x="-4" y="260" width="4" height="2"/>
<rect x="-9" y="231" width="9" height="2"/>
<rect x="-4" y="202" width="4" height="2"/>
<rect x="-9" y="173" width="9" height="2"/>
<rect x="-4" y="144" width="4" height="2"/>
<rect x="-9" y="115" width="9" height="2"/>
<rect x="-4" y="86" width="4" height="2"/>
<rect x="-9" y="57" width="9" height="2"/>
<rect x="-4" y="28" width="4" height="2"/>
<rect x="-9" y="-1" width="9" height="2"/>
<g transform="translate(0,0.2)">
<rect x="11" y="8" width="40" height="20"/>
<rect x="12" y="9" width="38" height="18" fill="#fff"/>
</g>
<rect x="11" y="30" width="40" height="20"/>
<rect x="12" y="31" width="38" height="18" fill="#fff"/>
<path d="M12.5 31V49" stroke-width="1" stroke-dasharray="1 5" stroke-dashoffset="-4"/>
<path d="M13.5 31V49" stroke-width="1" stroke-dasharray="1 5" stroke-dashoffset="-3"/>
<path d="M14.5 31V49" stroke-width="1" stroke-dasharray="1 5" stroke-dashoffset="-2"/>
<path d="M15.5 31V49" stroke-width="1" stroke-dasharray="1 5" stroke-dashoffset="-1"/>
<path d="M16.5 31V49" stroke-width="1" stroke-dasharray="1 5"/>
<path d="M17.5 31V49" stroke-width="1" stroke-dasharray="1 5" stroke-dashoffset="-5"/>
<path d="M18.5 31V49" stroke-width="1" stroke-dasharray="1 5" stroke-dashoffset="-4"/>
<path d="M19.5 31V49" stroke-width="1" stroke-dasharray="1 5" stroke-dashoffset="-3"/>
<path d="M20.5 31V49" stroke-width="1" stroke-dasharray="1 5" stroke-dashoffset="-2"/>
<path d="M21.5 31V49" stroke-width="1" stroke-dasharray="1 5" stroke-dashoffset="-1"/>
<path d="M22.5 31V49" stroke-width="1" stroke-dasharray="1 5"/>
<path d="M23.5 31V49" stroke-width="1" stroke-dasharray="1 5" stroke-dashoffset="-5"/>
<path d="M24.5 31V49" stroke-width="1" stroke-dasharray="1 5" stroke-dashoffset="-4"/>
<path d="M25.5 31V49" stroke-width="1" stroke-dasharray="1 5" stroke-dashoffset="-3"/>
<path d="M26.5 31V49" stroke-width="1" stroke-dasharray="1 5" stroke-dashoffset="-2"/>
<path d="M27.5 31V49" stroke-width="1" stroke-dasharray="1 5" stroke-dashoffset="-1"/>
<path d="M28.5 31V49" stroke-width="1" stroke-dasharray="1 5"/>
<path d="M29.5 31V49" stroke-width="1" stroke-dasharray="1 5" stroke-dashoffset="-5"/>
<path d="M30.5 31V49" stroke-width="1" stroke-dasharray="1 5" stroke-dashoffset="-4"/>
<path d="M31.5 31V49" stroke-width="1" stroke-dasharray="1 5" stroke-dashoffset="-3"/>
<path d="M32.5 31V49" stroke-width="1" stroke-dasharray="1 5" stroke-dashoffset="-2"/>
<path d="M33.5 31V49" stroke-width="1" stroke-dasharray="1 5" stroke-dashoffset="-1"/>
<path d="M34.5 31V49" stroke-width="1" stroke-dasharray="1 5"/>
<path d="M35.5 31V49" stroke-width="1" stroke-dasharray="1 5" stroke-dashoffset="-5"/>
<path d="M36.5 31V49" stroke-width="1" stroke-dasharray="1 5" stroke-dashoffset="-4"/>
<path d="M37.5 31V49" stroke-width="1" stroke-dasharray="1 5" stroke-dashoffset="-3"/>
<path d="M38.5 31V49" stroke-width="1" stroke-dasharray="1 5" stroke-dashoffset="-2"/>
<path d="M39.5 31V49" stroke-width="1" stroke-dasharray="1 5" stroke-dashoffset="-1"/>
<path d="M40.5 31V49" stroke-width="1" stroke-dasharray="1 5"/>
<path d="M41.5 31V49" stroke-width="1" stroke-dasharray="1 5" stroke-dashoffset="-5"/>
<path d="M42.5 31V49" stroke-width="1" stroke-dasharray="1 5" stroke-dashoffset="-4"/>
<path d="M43.5 31V49" stroke-width="1" stroke-dasharray="1 5" stroke-dashoffset="-3"/>
<path d="M44.5 31V49" stroke-width="1" stroke-dasharray="1 5" stroke-dashoffset="-2"/>
<path d="M45.5 31V49" stroke-width="1" stroke-dasharray="1 5" stroke-dashoffset="-1"/>
<path d="M46.5 31V49" stroke-width="1" stroke-dasharray="1 5"/>
<path d="M47.5 31V49" stroke-width="1" stroke-dasharray="1 5" stroke-dashoffset="-5"/>
<path d="M48.5 31V49" stroke-width="1" stroke-dasharray="1 5" stroke-dashoffset="-4"/>
<path d="M49.5 31V49" stroke-width="1" stroke-dasharray="1 5" stroke-dashoffset="-3"/>
<g transform="translate(0,0.4)">
<rect x="11" y="51" width="40" height="20"/>
<rect x="12" y="52" width="38" height="18" fill="#fff"/>
<path d="M12.5 52V70" stroke-width="1" stroke-dasharray="1 1 1 10"/>
<path d="M13.5 52V70" stroke-width="1" stroke-dasharray="1 8 1 3" stroke-dashoffset="-3"/>
<path d="M14.5 52V70" stroke-width="1" stroke-dasharray="1 6 1 5" stroke-dashoffset="-4"/>
<path d="M15.5 52V70" stroke-width="1" stroke-dasharray="1 4 1 7" stroke-dashoffset="-5"/>
<path d="M16.5 52V70" stroke-width="1" stroke-dasharray="1 2 1 9" stroke-dashoffset="-6"/>
<path d="M18 52V70" stroke-width="2" stroke-dasharray="2 11" stroke-dashoffset="-7"/>
<path d="M19.5 52V70" stroke-width="1" stroke-dasharray="1 2 1 9" stroke-dashoffset="-6"/>
<path d="M20.5 52V70" stroke-width="1" stroke-dasharray="1 4 1 7" stroke-dashoffset="-5"/>
<path d="M21.5 52V70" stroke-width="1" stroke-dasharray="1 6 1 5" stroke-dashoffset="-4"/>
<path d="M22.5 52V70" stroke-width="1" stroke-dasharray="1 8 1 3" stroke-dashoffset="-3"/>
<path d="M23.5 52V70" stroke-width="1" stroke-dasharray="1 1 1 10"/>
<path d="M24.5 52V70" stroke-width="1" stroke-dasharray="1 12" stroke-dashoffset="-1"/>
<path d="M25.5 52V70" stroke-width="1" stroke-dasharray="1 1 1 10"/>
<path d="M26.5 52V70" stroke-width="1" stroke-dasharray="1 8 1 3" stroke-dashoffset="-3"/>
<path d="M27.5 52V70" stroke-width="1" stroke-dasharray="1 6 1 5" stroke-dashoffset="-4"/>
<path d="M28.5 52V70" stroke-width="1" stroke-dasharray="1 4 1 7" stroke-dashoffset="-5"/>
<path d="M29.5 52V70" stroke-width="1" stroke-dasharray="1 2 1 9" stroke-dashoffset="-6"/>
<path d="M31 52V70" stroke-width="2" stroke-dasharray="2 11" stroke-dashoffset="-7"/>
<path d="M32.5 52V70" stroke-width="1" stroke-dasharray="1 2 1 9" stroke-dashoffset="-6"/>
<path d="M33.5 52V70" stroke-width="1" stroke-dasharray="1 4 1 7" stroke-dashoffset="-5"/>
<path d="M34.5 52V70" stroke-width="1" stroke-dasharray="1 6 1 5" stroke-dashoffset="-4"/>
<path d="M35.5 52V70" stroke-width="1" stroke-dasharray="1 8 1 3" stroke-dashoffset="-3"/>
<path d="M36.5 52V70" stroke-width="1" stroke-dasharray="1 1 1 10"/>
<path d="M37.5 52V70" stroke-width="1" stroke-dasharray="1 12" stroke-dashoffset="-1"/>
<path d="M38.5 52V70" stroke-width="1" stroke-dasharray="1 1 1 10"/>
<path d="M39.5 52V70" stroke-width="1" stroke-dasharray="1 8 1 3" stroke-dashoffset="-3"/>
<path d="M40.5 52V70" stroke-width="1" stroke-dasharray="1 6 1 5" stroke-dashoffset="-4"/>
<path d="M41.5 52V70" stroke-width="1" stroke-dasharray="1 4 1 7" stroke-dashoffset="-5"/>
<path d="M42.5 52V70" stroke-width="1" stroke-dasharray="1 2 1 9" stroke-dashoffset="-6"/>
<path d="M44 52V70" stroke-width="2" stroke-dasharray="2 11" stroke-dashoffset="-7"/>
<path d="M45.5 52V70" stroke-width="1" stroke-dasharray="1 2 1 9" stroke-dashoffset="-6"/>
<path d="M46.5 52V70" stroke-width="1" stroke-dasharray="1 4 1 7" stroke-dashoffset="-5"/>
<path d="M47.5 52V70" stroke-width="1" stroke-dasharray="1 6 1 5" stroke-dashoffset="-4"/>
<path d="M48.5 52V70" stroke-width="1" stroke-dasharray="1 8 1 3" stroke-dashoffset="-3"/>
<path d="M49.5 52V70" stroke-width="1" stroke-dasharray="1 1 1 10"/>
</g>
<g transform="translate(0,0.4)">
<rect x="11" y="73" width="40" height="20"/>
<rect x="12" y="74" width="38" height="18" fill="#fff"/>
<path d="M12.5 74V92" stroke-width="1" stroke-dasharray="4 4" stroke-dashoffset="-3"/>
<path d="M15 74V92" stroke-width="4" stroke-dasharray="4 4" stroke-dashoffset="1"/>
<path d="M19 74V92" stroke-width="4" stroke-dasharray="4 4" stroke-dashoffset="-3"/>
<path d="M23 74V92" stroke-width="4" stroke-dasharray="4 4" stroke-dashoffset="1"/>
<path d="M27 74V92" stroke-width="4" stroke-dasharray="4 4" stroke-dashoffset="-3"/>
<path d="M31 74V92" stroke-width="4" stroke-dasharray="4 4" stroke-dashoffset="1"/>
<path d="M35 74V92" stroke-width="4" stroke-dasharray="4 4" stroke-dashoffset="-3"/>
<path d="M39 74V92" stroke-width="4" stroke-dasharray="4 4" stroke-dashoffset="1"/>
<path d="M43 74V92" stroke-width="4" stroke-dasharray="4 4" stroke-dashoffset="-3"/>
<path d="M47 74V92" stroke-width="4" stroke-dasharray="4 4" stroke-dashoffset="1"/>
<path d="M49.5 74V92" stroke-width="1" stroke-dasharray="4 4" stroke-dashoffset="-3"/>
</g>
<g transform="translate(0,0.4)">
<rect x="11" y="95" width="40" height="20"/>
<rect x="12" y="96" width="38" height="18" fill="#fff"/>
<path d="M13 96V114" stroke-width="2" stroke-dasharray="2 2"/>
<path d="M15 96V114" stroke-width="2" stroke-dasharray="2 2" stroke-dashoffset="-2"/>
<path d="M17 96V114" stroke-width="2" stroke-dasharray="2 2"/>
<path d="M19 96V114" stroke-width="2" stroke-dasharray="2 2" stroke-dashoffset="-2"/>
<path d="M21 96V114" stroke-width="2" stroke-dasharray="2 2"/>
<path d="M23 96V114" stroke-width="2" stroke-dasharray="2 2" stroke-dashoffset="-2"/>
<path d="M25 96V114" stroke-width="2" stroke-dasharray="2 2"/>
<path d="M27 96V114" stroke-width="2" stroke-dasharray="2 2" stroke-dashoffset="-2"/>
<path d="M29 96V114" stroke-width="2" stroke-dasharray="2 2"/>
<path d="M31 96V114" stroke-width="2" stroke-dasharray="2 2" stroke-dashoffset="-2"/>
<path d="M33 96V114" stroke-width="2" stroke-dasharray="2 2"/>
<path d="M35 96V114" stroke-width="2" stroke-dasharray="2 2" stroke-dashoffset="-2"/>
<path d="M37 96V114" stroke-width="2" stroke-dasharray="2 2"/>
<path d="M39 96V114" stroke-width="2" stroke-dasharray="2 2" stroke-dashoffset="-2"/>
<path d="M41 96V114" stroke-width="2" stroke-dasharray="2 2"/>
<path d="M43 96V114" stroke-width="2" stroke-dasharray="2 2" stroke-dashoffset="-2"/>
<path d="M45 96V114" stroke-width="2" stroke-dasharray="2 2"/>
<path d="M47 96V114" stroke-width="2" stroke-dasharray="2 2" stroke-dashoffset="-2"/>
<path d="M49 96V114" stroke-width="2" stroke-dasharray="2 2"/>
</g>
</g>
<text x="254.1" y="3027.4" font-family="'Liberation Serif',serif" font-size="54.5" text-anchor="end" fill="#000" stroke="#fff" stroke-width="0.3" letter-spacing="2.4" filter="url(#tb)">0</text>
<text x="254.1" y="2857.8" font-family="'Liberation Serif',serif" font-size="54.5" text-anchor="end" fill="#000" stroke="#fff" stroke-width="0.3" letter-spacing="2.4" filter="url(#tb)">20</text>
<text x="254.1" y="2687.9" font-family="'Liberation Serif',serif" font-size="54.5" text-anchor="end" fill="#000" stroke="#fff" stroke-width="0.3" letter-spacing="2.4" filter="url(#tb)">40</text>
<text x="254.1" y="2519.0" font-family="'Liberation Serif',serif" font-size="54.5" text-anchor="end" fill="#000" stroke="#fff" stroke-width="0.3" letter-spacing="2.4" filter="url(#tb)">60</text>
<text x="254.1" y="2349.2" font-family="'Liberation Serif',serif" font-size="54.5" text-anchor="end" fill="#000" stroke="#fff" stroke-width="0.3" letter-spacing="2.4" filter="url(#tb)">80</text>
<text x="254.1" y="2179.2" font-family="'Liberation Serif',serif" font-size="54.5" text-anchor="end" fill="#000" stroke="#fff" stroke-width="0.3" letter-spacing="2.4" filter="url(#tb)">100</text>
<text x="254.1" y="2008.6" font-family="'Liberation Serif',serif" font-size="54.5" text-anchor="end" fill="#000" stroke="#fff" stroke-width="0.3" letter-spacing="2.4" filter="url(#tb)">120</text>
<text x="254.1" y="1841.6" font-family="'Liberation Serif',serif" font-size="54.5" text-anchor="end" fill="#000" stroke="#fff" stroke-width="0.3" letter-spacing="2.4" filter="url(#tb)">140</text>
<text x="254.1" y="1671.7" font-family="'Liberation Serif',serif" font-size="54.5" text-anchor="end" fill="#000" stroke="#fff" stroke-width="0.3" letter-spacing="2.4" filter="url(#tb)">160</text>
<text x="322.7" y="3068.4" font-family="'Liberation Serif',serif" font-size="54.5" text-anchor="middle" fill="#000" stroke="#fff" stroke-width="0.3" letter-spacing="1.2" filter="url(#tb)">1</text>
<text x="392.2" y="3068.4" font-family="'Liberation Serif',serif" font-size="54.5" text-anchor="middle" fill="#000" stroke="#fff" stroke-width="0.3" letter-spacing="1.2" filter="url(#tb)">2</text>
<text x="463.8" y="3064.1" font-family="'Liberation Serif',serif" font-size="54.5" text-anchor="middle" fill="#000" stroke="#fff" stroke-width="0.3" letter-spacing="1.2" filter="url(#tb)">3</text>
<text x="535.9" y="3069.4" font-family="'Liberation Serif',serif" font-size="54.5" text-anchor="middle" fill="#000" stroke="#fff" stroke-width="0.3" letter-spacing="1.2" filter="url(#tb)">4</text>
<text x="609.5" y="3068.4" font-family="'Liberation Serif',serif" font-size="54.5" text-anchor="middle" fill="#000" stroke="#fff" stroke-width="0.3" letter-spacing="1.2" filter="url(#tb)">5</text>
<text x="680.5" y="3069.4" font-family="'Liberation Serif',serif" font-size="54.5" text-anchor="middle" fill="#000" stroke="#fff" stroke-width="0.3" letter-spacing="1.2" filter="url(#tb)">6</text>
<text x="745.3" y="3070.4" font-family="'Liberation Serif',serif" font-size="54.5" text-anchor="middle" fill="#000" stroke="#fff" stroke-width="0.3" letter-spacing="1.2" filter="url(#tb)">7</text>
<text x="817.4" y="3070.4" font-family="'Liberation Serif',serif" font-size="54.5" text-anchor="middle" fill="#000" stroke="#fff" stroke-width="0.3" letter-spacing="1.2" filter="url(#tb)">8</text>
<text x="892.1" y="3070.4" font-family="'Liberation Serif',serif" font-size="54.5" text-anchor="middle" fill="#000" stroke="#fff" stroke-width="0.3" letter-spacing="1.2" filter="url(#tb)">9</text>
<text x="959.6" y="3070.4" font-family="'Liberation Serif',serif" font-size="54.5" text-anchor="middle" fill="#000" stroke="#fff" stroke-width="0.3" letter-spacing="1.2" filter="url(#tb)">10</text>
<text x="1032.7" y="3066.8" font-family="'Liberation Serif',serif" font-size="54.5" text-anchor="middle" fill="#000" stroke="#fff" stroke-width="0.3" letter-spacing="1.2" filter="url(#tb)">11</text>
<text x="1104.7" y="3066.8" font-family="'Liberation Serif',serif" font-size="54.5" text-anchor="middle" fill="#000" stroke="#fff" stroke-width="0.3" letter-spacing="1.2" filter="url(#tb)">12</text>
<text x="1175.9" y="3066.8" font-family="'Liberation Serif',serif" font-size="54.5" text-anchor="middle" fill="#000" stroke="#fff" stroke-width="0.3" letter-spacing="1.2" filter="url(#tb)">13</text>
<text x="1245.9" y="3066.8" font-family="'Liberation Serif',serif" font-size="54.5" text-anchor="middle" fill="#000" stroke="#fff" stroke-width="0.3" letter-spacing="1.2" filter="url(#tb)">14</text>
<text x="1316.3" y="3065.2" font-family="'Liberation Serif',serif" font-size="54.5" text-anchor="middle" fill="#000" stroke="#fff" stroke-width="0.3" letter-spacing="1.2" filter="url(#tb)">15</text>
<text x="1388.4" y="3070.4" font-family="'Liberation Serif',serif" font-size="54.5" text-anchor="middle" fill="#000" stroke="#fff" stroke-width="0.3" letter-spacing="1.2" filter="url(#tb)">16</text>
<text x="1451.6" y="3066.8" font-family="'Liberation Serif',serif" font-size="54.5" text-anchor="middle" fill="#000" stroke="#fff" stroke-width="0.3" letter-spacing="1.2" filter="url(#tb)">17</text>
<text x="1522.6" y="3066.8" font-family="'Liberation Serif',serif" font-size="54.5" text-anchor="middle" fill="#000" stroke="#fff" stroke-width="0.3" letter-spacing="1.2" filter="url(#tb)">18</text>
<text x="1594.7" y="3066.8" font-family="'Liberation Serif',serif" font-size="54.5" text-anchor="middle" fill="#000" stroke="#fff" stroke-width="0.3" letter-spacing="1.2" filter="url(#tb)">19</text>
<text x="1665.8" y="3070.4" font-family="'Liberation Serif',serif" font-size="54.5" text-anchor="middle" fill="#000" stroke="#fff" stroke-width="0.3" letter-spacing="1.2" filter="url(#tb)">20</text>
<text x="1736.3" y="3066.8" font-family="'Liberation Serif',serif" font-size="54.5" text-anchor="middle" fill="#000" stroke="#fff" stroke-width="0.3" letter-spacing="1.2" filter="url(#tb)">21</text>
<text x="1800.5" y="3070.4" font-family="'Liberation Serif',serif" font-size="54.5" text-anchor="middle" fill="#000" stroke="#fff" stroke-width="0.3" letter-spacing="1.2" filter="url(#tb)">22</text>
<text x="1876.8" y="3070.4" font-family="'Liberation Serif',serif" font-size="54.5" text-anchor="middle" fill="#000" stroke="#fff" stroke-width="0.3" letter-spacing="1.2" filter="url(#tb)">23</text>
<text x="1946.8" y="3069.4" font-family="'Liberation Serif',serif" font-size="54.5" text-anchor="middle" fill="#000" stroke="#fff" stroke-width="0.3" letter-spacing="1.2" filter="url(#tb)">24</text>
<text x="502.5" y="3177.0" font-family="'Liberation Serif',serif" font-size="68" text-anchor="start" fill="#000" stroke="#000" stroke-width="0.35" textLength="1346" lengthAdjust="spacing" filter="url(#tb)">24 Aromatic Substances in Rosemary Hydrosol</text>
<text transform="translate(100,2543) rotate(-90)" font-family="'Liberation Serif',serif" font-size="70" fill="#000" stroke="#fff" stroke-width="0" filter="url(#tb)"><tspan x="0" y="0" textLength="271" lengthAdjust="spacing">Recovery</tspan><tspan x="276" y="0" font-family="'Noto Serif CJK SC','Liberation Serif',serif" font-size="60" font-weight="200" stroke-width="0">（</tspan><tspan x="345.5" y="0">%</tspan><tspan x="412.5" y="0" font-family="'Noto Serif CJK SC','Liberation Serif',serif" font-size="60" font-weight="200" stroke-width="0">）</tspan></text>
<text x="1821.0" y="1750.0" font-family="'Liberation Serif',serif" font-size="112" text-anchor="start" fill="#000" stroke="#000" stroke-width="0.3" letter-spacing="2.5" filter="url(#tb)">(b)</text>
<text x="456.5" y="1721.7" font-family="'Liberation Serif',serif" font-size="47" text-anchor="start" fill="#000" stroke="#fff" stroke-width="0.3" letter-spacing="1.8" filter="url(#ct)">10 s</text>
<text x="454.0" y="1787.6" font-family="'Liberation Serif',serif" font-size="47" text-anchor="start" fill="#000" stroke="#fff" stroke-width="0.3" letter-spacing="1.8" filter="url(#ct)">20 s</text>
<text x="454.0" y="1851.0" font-family="'Liberation Serif',serif" font-size="47" text-anchor="start" fill="#000" stroke="#fff" stroke-width="0.3" letter-spacing="1.8" filter="url(#ct)">30 s</text>
<text x="454.0" y="1912.3" font-family="'Liberation Serif',serif" font-size="47" text-anchor="start" fill="#000" stroke="#fff" stroke-width="0.3" letter-spacing="1.8" filter="url(#ct)">60 s</text>
<text x="456.5" y="1977.6" font-family="'Liberation Serif',serif" font-size="47" text-anchor="start" fill="#000" stroke="#fff" stroke-width="0.3" letter-spacing="1.8" filter="url(#ct)">120 s</text>
<g transform="matrix(2.93134 0 0 2.93118 316.05 3280.90)" fill="#000" stroke="#000" stroke-width="0" shape-rendering="crispEdges">
<rect x="5" y="225" width="1" height="240"/>
<rect x="8" y="225" width="1" height="240"/>
<rect x="5" y="225" width="4" height="1"/>
<path d="M6.5 226V465" stroke-width="1" stroke-dasharray="1 8" stroke-dashoffset="-7"/>
<path d="M7.5 226V465" stroke-width="1" stroke-dasharray="1 8" stroke-dashoffset="-6"/>
<rect x="6" y="221" width="1" height="8"/>
<rect x="2" y="221" width="9" height="1"/>
<rect x="2" y="228" width="9" height="1"/>
<rect x="8" y="224" width="1" height="241"/>
<rect x="12" y="224" width="1" height="241"/>
<rect x="8" y="224" width="5" height="1"/>
<path d="M9.5 225V465" stroke-width="1" stroke-dasharray="1 8" stroke-dashoffset="-3"/>
<path d="M10.5 225V465" stroke-width="1" stroke-dasharray="1 8" stroke-dashoffset="-4"/>
<path d="M11.5 225V465" stroke-width="1" stroke-dasharray="1 8" stroke-dashoffset="-5"/>
<rect x="10" y="222" width="1" height="6"/>
<rect x="6" y="222" width="9" height="1"/>
<rect x="6" y="227" width="9" height="1"/>
<rect x="12" y="224" width="1" height="241"/>
<rect x="15" y="224" width="1" height="241"/>
<rect x="12" y="224" width="4" height="1"/>
<path d="M13.5 225V465" stroke-width="1" stroke-dasharray="1 3" stroke-dashoffset="-1"/>
<rect x="14" y="222" width="1" height="6"/>
<rect x="10" y="222" width="9" height="1"/>
<rect x="10" y="227" width="9" height="1"/>
<rect x="15" y="225" width="1" height="240"/>
<rect x="19" y="225" width="1" height="240"/>
<rect x="15" y="225" width="5" height="1"/>
<path d="M17.5 226V465" stroke-width="3" stroke-dasharray="1 5"/>
<rect x="17" y="222" width="1" height="6"/>
<rect x="13" y="222" width="9" height="1"/>
<rect x="13" y="227" width="9" height="1"/>
<rect x="29" y="230" width="1" height="235"/>
<rect x="32" y="230" width="1" height="235"/>
<rect x="29" y="230" width="4" height="1"/>
<path d="M30.5 231V465" stroke-width="1" stroke-dasharray="1 8" stroke-dashoffset="-5"/>
<path d="M31.5 231V465" stroke-width="1" stroke-dasharray="1 8" stroke-dashoffset="-4"/>
<rect x="30" y="225" width="1" height="10"/>
<rect x="26" y="225" width="9" height="1"/>
<rect x="26" y="234" width="9" height="1"/>
<rect x="32" y="226" width="1" height="239"/>
<rect x="36" y="226" width="1" height="239"/>
<rect x="32" y="226" width="5" height="1"/>
<path d="M33.5 227V465" stroke-width="1" stroke-dasharray="1 8" stroke-dashoffset="-7"/>
<path d="M34.5 227V465" stroke-width="1" stroke-dasharray="1 8" stroke-dashoffset="-8"/>
<path d="M35.5 227V465" stroke-width="1" stroke-dasharray="1 8"/>
<rect x="34" y="222" width="1" height="10"/>
<rect x="30" y="222" width="9" height="1"/>
<rect x="30" y="231" width="9" height="1"/>
<rect x="36" y="227" width="1" height="238"/>
<rect x="39" y="227" width="1" height="238"/>
<rect x="36" y="227" width="4" height="1"/>
<path d="M37.5 228V465" stroke-width="1" stroke-dasharray="1 3" stroke-dashoffset="-2"/>
<rect x="38" y="224" width="1" height="7"/>
<rect x="33" y="224" width="9" height="1"/>
<rect x="33" y="230" width="9" height="1"/>
<rect x="39" y="227" width="1" height="238"/>
<rect x="43" y="227" width="1" height="238"/>
<rect x="39" y="227" width="5" height="1"/>
<path d="M41.5 228V465" stroke-width="3" stroke-dasharray="1 5" stroke-dashoffset="-4"/>
<rect x="41" y="222" width="1" height="10"/>
<rect x="37" y="222" width="9" height="1"/>
<rect x="37" y="231" width="9" height="1"/>
<rect x="52" y="217" width="1" height="248"/>
<rect x="56" y="217" width="1" height="248"/>
<rect x="52" y="217" width="5" height="1"/>
<path d="M53.5 218V465" stroke-width="1" stroke-dasharray="1 8" stroke-dashoffset="-4"/>
<path d="M54.5 218V465" stroke-width="1" stroke-dasharray="1 8" stroke-dashoffset="-3"/>
<path d="M55.5 218V465" stroke-width="1" stroke-dasharray="1 8" stroke-dashoffset="-2"/>
<rect x="54" y="212" width="1" height="10"/>
<rect x="50" y="212" width="9" height="1"/>
<rect x="50" y="221" width="9" height="1"/>
<rect x="56" y="221" width="1" height="244"/>
<rect x="60" y="221" width="1" height="244"/>
<rect x="56" y="221" width="5" height="1"/>
<path d="M57.5 222V465" stroke-width="1" stroke-dasharray="1 8"/>
<path d="M58.5 222V465" stroke-width="1" stroke-dasharray="1 8" stroke-dashoffset="-1"/>
<path d="M59.5 222V465" stroke-width="1" stroke-dasharray="1 8" stroke-dashoffset="-2"/>
<rect x="58" y="218" width="1" height="7"/>
<rect x="54" y="218" width="9" height="1"/>
<rect x="54" y="224" width="9" height="1"/>
<rect x="60" y="224" width="1" height="241"/>
<rect x="63" y="224" width="1" height="241"/>
<rect x="60" y="224" width="4" height="1"/>
<path d="M61.5 225V465" stroke-width="1" stroke-dasharray="1 3" stroke-dashoffset="-1"/>
<rect x="62" y="222" width="1" height="4"/>
<rect x="57" y="222" width="9" height="1"/>
<rect x="57" y="225" width="9" height="1"/>
<rect x="63" y="225" width="1" height="240"/>
<rect x="67" y="225" width="1" height="240"/>
<rect x="63" y="225" width="5" height="1"/>
<path d="M65.5 226V465" stroke-width="3" stroke-dasharray="1 5"/>
<rect x="65" y="222" width="1" height="6"/>
<rect x="61" y="222" width="9" height="1"/>
<rect x="61" y="227" width="9" height="1"/>
<rect x="76" y="225" width="1" height="240"/>
<rect x="80" y="225" width="1" height="240"/>
<rect x="76" y="225" width="5" height="1"/>
<path d="M77.5 226V465" stroke-width="1" stroke-dasharray="1 8" stroke-dashoffset="-8"/>
<path d="M78.5 226V465" stroke-width="1" stroke-dasharray="1 8" stroke-dashoffset="-7"/>
<path d="M79.5 226V465" stroke-width="1" stroke-dasharray="1 8" stroke-dashoffset="-6"/>
<rect x="78" y="221" width="1" height="9"/>
<rect x="74" y="221" width="9" height="1"/>
<rect x="74" y="229" width="9" height="1"/>
<rect x="80" y="226" width="1" height="239"/>
<rect x="84" y="226" width="1" height="239"/>
<rect x="80" y="226" width="5" height="1"/>
<path d="M81.5 227V465" stroke-width="1" stroke-dasharray="1 8" stroke-dashoffset="-1"/>
<path d="M82.5 227V465" stroke-width="1" stroke-dasharray="1 8" stroke-dashoffset="-2"/>
<path d="M83.5 227V465" stroke-width="1" stroke-dasharray="1 8" stroke-dashoffset="-3"/>
<rect x="82" y="224" width="1" height="5"/>
<rect x="78" y="224" width="9" height="1"/>
<rect x="78" y="228" width="9" height="1"/>
<rect x="84" y="228" width="1" height="237"/>
<rect x="87" y="228" width="1" height="237"/>
<rect x="84" y="228" width="4" height="1"/>
<path d="M85.5 229V465" stroke-width="1" stroke-dasharray="1 3" stroke-dashoffset="-1"/>
<rect x="86" y="225" width="1" height="7"/>
<rect x="81" y="225" width="9" height="1"/>
<rect x="81" y="231" width="9" height="1"/>
<rect x="87" y="228" width="1" height="237"/>
<rect x="91" y="228" width="1" height="237"/>
<rect x="87" y="228" width="5" height="1"/>
<path d="M89.5 229V465" stroke-width="3" stroke-dasharray="1 5" stroke-dashoffset="-3"/>
<rect x="89" y="222" width="1" height="12"/>
<rect x="85" y="222" width="9" height="1"/>
<rect x="85" y="233" width="9" height="1"/>
<rect x="100" y="226" width="1" height="239"/>
<rect x="104" y="226" width="1" height="239"/>
<rect x="100" y="226" width="5" height="1"/>
<path d="M101.5 227V465" stroke-width="1" stroke-dasharray="1 8" stroke-dashoffset="-1"/>
<path d="M102.5 227V465" stroke-width="1" stroke-dasharray="1 8"/>
<path d="M103.5 227V465" stroke-width="1" stroke-dasharray="1 8" stroke-dashoffset="-8"/>
<rect x="102" y="221" width="1" height="11"/>
<rect x="98" y="221" width="9" height="1"/>
<rect x="98" y="231" width="9" height="1"/>
<rect x="104" y="218" width="1" height="247"/>
<rect x="108" y="218" width="1" height="247"/>
<rect x="104" y="218" width="5" height="1"/>
<path d="M105.5 219V465" stroke-width="1" stroke-dasharray="1 8" stroke-dashoffset="-6"/>
<path d="M106.5 219V465" stroke-width="1" stroke-dasharray="1 8" stroke-dashoffset="-7"/>
<path d="M107.5 219V465" stroke-width="1" stroke-dasharray="1 8" stroke-dashoffset="-8"/>
<rect x="106" y="215" width="1" height="8"/>
<rect x="102" y="215" width="9" height="1"/>
<rect x="102" y="222" width="9" height="1"/>
<rect x="108" y="222" width="1" height="243"/>
<rect x="111" y="222" width="1" height="243"/>
<rect x="108" y="222" width="4" height="1"/>
<path d="M109.5 223V465" stroke-width="1" stroke-dasharray="1 3" stroke-dashoffset="-3"/>
<rect x="109" y="213" width="1" height="19"/>
<rect x="105" y="213" width="9" height="1"/>
<rect x="105" y="231" width="9" height="1"/>
<rect x="111" y="228" width="1" height="237"/>
<rect x="115" y="228" width="1" height="237"/>
<rect x="111" y="228" width="5" height="1"/>
<path d="M113.5 229V465" stroke-width="3" stroke-dasharray="1 5" stroke-dashoffset="-3"/>
<rect x="113" y="221" width="1" height="15"/>
<rect x="109" y="221" width="9" height="1"/>
<rect x="109" y="235" width="9" height="1"/>
<rect x="124" y="216" width="1" height="249"/>
<rect x="128" y="216" width="1" height="249"/>
<rect x="124" y="216" width="5" height="1"/>
<path d="M125.5 217V465" stroke-width="1" stroke-dasharray="1 8" stroke-dashoffset="-5"/>
<path d="M126.5 217V465" stroke-width="1" stroke-dasharray="1 8" stroke-dashoffset="-4"/>
<path d="M127.5 217V465" stroke-width="1" stroke-dasharray="1 8" stroke-dashoffset="-3"/>
<rect x="126" y="210" width="1" height="13"/>
<rect x="122" y="210" width="9" height="1"/>
<rect x="122" y="222" width="9" height="1"/>
<rect x="128" y="211" width="1" height="254"/>
<rect x="132" y="211" width="1" height="254"/>
<rect x="128" y="211" width="5" height="1"/>
<path d="M129.5 212V465" stroke-width="1" stroke-dasharray="1 8" stroke-dashoffset="-1"/>
<path d="M130.5 212V465" stroke-width="1" stroke-dasharray="1 8" stroke-dashoffset="-2"/>
<path d="M131.5 212V465" stroke-width="1" stroke-dasharray="1 8" stroke-dashoffset="-3"/>
<rect x="130" y="206" width="1" height="10"/>
<rect x="126" y="206" width="9" height="1"/>
<rect x="126" y="215" width="9" height="1"/>
<rect x="132" y="197" width="1" height="268"/>
<rect x="135" y="197" width="1" height="268"/>
<rect x="132" y="197" width="4" height="1"/>
<path d="M133.5 198V465" stroke-width="1" stroke-dasharray="1 3"/>
<rect x="133" y="193" width="1" height="9"/>
<rect x="129" y="193" width="9" height="1"/>
<rect x="129" y="201" width="9" height="1"/>
<rect x="135" y="204" width="1" height="261"/>
<rect x="139" y="204" width="1" height="261"/>
<rect x="135" y="204" width="5" height="1"/>
<path d="M137.5 205V465" stroke-width="3" stroke-dasharray="1 5" stroke-dashoffset="-3"/>
<rect x="137" y="201" width="1" height="7"/>
<rect x="133" y="201" width="9" height="1"/>
<rect x="133" y="207" width="9" height="1"/>
<rect x="148" y="201" width="1" height="264"/>
<rect x="152" y="201" width="1" height="264"/>
<rect x="148" y="201" width="5" height="1"/>
<path d="M149.5 202V465" stroke-width="1" stroke-dasharray="1 8" stroke-dashoffset="-5"/>
<path d="M150.5 202V465" stroke-width="1" stroke-dasharray="1 8" stroke-dashoffset="-4"/>
<path d="M151.5 202V465" stroke-width="1" stroke-dasharray="1 8" stroke-dashoffset="-3"/>
<rect x="150" y="199" width="1" height="4"/>
<rect x="146" y="199" width="9" height="1"/>
<rect x="146" y="202" width="9" height="1"/>
<rect x="152" y="199" width="1" height="266"/>
<rect x="156" y="199" width="1" height="266"/>
<rect x="152" y="199" width="5" height="1"/>
<path d="M153.5 200V465" stroke-width="1" stroke-dasharray="1 8" stroke-dashoffset="-1"/>
<path d="M154.5 200V465" stroke-width="1" stroke-dasharray="1 8" stroke-dashoffset="-2"/>
<path d="M155.5 200V465" stroke-width="1" stroke-dasharray="1 8" stroke-dashoffset="-3"/>
<rect x="154" y="193" width="1" height="14"/>
<rect x="150" y="193" width="9" height="1"/>
<rect x="150" y="206" width="9" height="1"/>
<rect x="156" y="206" width="1" height="259"/>
<rect x="159" y="206" width="1" height="259"/>
<rect x="156" y="206" width="4" height="1"/>
<path d="M157.5 207V465" stroke-width="1" stroke-dasharray="1 3" stroke-dashoffset="-3"/>
<rect x="157" y="199" width="1" height="15"/>
<rect x="153" y="199" width="9" height="1"/>
<rect x="153" y="213" width="9" height="1"/>
<rect x="159" y="210" width="1" height="255"/>
<rect x="163" y="210" width="1" height="255"/>
<rect x="159" y="210" width="5" height="1"/>
<path d="M161.5 211V465" stroke-width="3" stroke-dasharray="1 5" stroke-dashoffset="-3"/>
<rect x="161" y="207" width="1" height="7"/>
<rect x="157" y="207" width="9" height="1"/>
<rect x="157" y="213" width="9" height="1"/>
<rect x="172" y="196" width="1" height="269"/>
<rect x="176" y="196" width="1" height="269"/>
<rect x="172" y="196" width="5" height="1"/>
<path d="M173.5 197V465" stroke-width="1" stroke-dasharray="1 8" stroke-dashoffset="-4"/>
<path d="M174.5 197V465" stroke-width="1" stroke-dasharray="1 8" stroke-dashoffset="-3"/>
<path d="M175.5 197V465" stroke-width="1" stroke-dasharray="1 8" stroke-dashoffset="-2"/>
<rect x="174" y="192" width="1" height="8"/>
<rect x="170" y="192" width="9" height="1"/>
<rect x="170" y="199" width="9" height="1"/>
<rect x="176" y="198" width="1" height="267"/>
<rect x="180" y="198" width="1" height="267"/>
<rect x="176" y="198" width="5" height="1"/>
<path d="M177.5 199V465" stroke-width="1" stroke-dasharray="1 8" stroke-dashoffset="-8"/>
<path d="M178.5 199V465" stroke-width="1" stroke-dasharray="1 8"/>
<path d="M179.5 199V465" stroke-width="1" stroke-dasharray="1 8" stroke-dashoffset="-1"/>
<rect x="178" y="195" width="1" height="7"/>
<rect x="174" y="195" width="9" height="1"/>
<rect x="174" y="201" width="9" height="1"/>
<rect x="180" y="198" width="1" height="267"/>
<rect x="183" y="198" width="1" height="267"/>
<rect x="180" y="198" width="4" height="1"/>
<path d="M181.5 199V465" stroke-width="1" stroke-dasharray="1 3" stroke-dashoffset="-3"/>
<rect x="181" y="193" width="1" height="11"/>
<rect x="177" y="193" width="9" height="1"/>
<rect x="177" y="203" width="9" height="1"/>
<rect x="183" y="209" width="1" height="256"/>
<rect x="187" y="209" width="1" height="256"/>
<rect x="183" y="209" width="5" height="1"/>
<path d="M185.5 210V465" stroke-width="3" stroke-dasharray="1 5" stroke-dashoffset="-4"/>
<rect x="185" y="205" width="1" height="9"/>
<rect x="181" y="205" width="9" height="1"/>
<rect x="181" y="213" width="9" height="1"/>
<rect x="196" y="199" width="1" height="266"/>
<rect x="200" y="199" width="1" height="266"/>
<rect x="196" y="199" width="5" height="1"/>
<path d="M197.5 200V465" stroke-width="1" stroke-dasharray="1 8" stroke-dashoffset="-4"/>
<path d="M198.5 200V465" stroke-width="1" stroke-dasharray="1 8" stroke-dashoffset="-3"/>
<path d="M199.5 200V465" stroke-width="1" stroke-dasharray="1 8" stroke-dashoffset="-2"/>
<rect x="198" y="198" width="1" height="3"/>
<rect x="194" y="198" width="9" height="1"/>
<rect x="194" y="200" width="9" height="1"/>
<rect x="200" y="206" width="1" height="259"/>
<rect x="204" y="206" width="1" height="259"/>
<rect x="200" y="206" width="5" height="1"/>
<path d="M201.5 207V465" stroke-width="1" stroke-dasharray="1 8" stroke-dashoffset="-6"/>
<path d="M202.5 207V465" stroke-width="1" stroke-dasharray="1 8" stroke-dashoffset="-7"/>
<path d="M203.5 207V465" stroke-width="1" stroke-dasharray="1 8" stroke-dashoffset="-8"/>
<rect x="202" y="199" width="1" height="15"/>
<rect x="198" y="199" width="9" height="1"/>
<rect x="198" y="213" width="9" height="1"/>
<rect x="204" y="195" width="1" height="270"/>
<rect x="207" y="195" width="1" height="270"/>
<rect x="204" y="195" width="4" height="1"/>
<path d="M205.5 196V465" stroke-width="1" stroke-dasharray="1 3" stroke-dashoffset="-2"/>
<rect x="205" y="193" width="1" height="5"/>
<rect x="201" y="193" width="9" height="1"/>
<rect x="201" y="197" width="9" height="1"/>
<rect x="207" y="203" width="1" height="262"/>
<rect x="211" y="203" width="1" height="262"/>
<rect x="207" y="203" width="5" height="1"/>
<path d="M209.5 204V465" stroke-width="3" stroke-dasharray="1 5" stroke-dashoffset="-4"/>
<rect x="209" y="201" width="1" height="5"/>
<rect x="205" y="201" width="9" height="1"/>
<rect x="205" y="205" width="9" height="1"/>
<rect x="220" y="196" width="1" height="269"/>
<rect x="224" y="196" width="1" height="269"/>
<rect x="220" y="196" width="5" height="1"/>
<path d="M221.5 197V465" stroke-width="1" stroke-dasharray="1 8" stroke-dashoffset="-1"/>
<path d="M222.5 197V465" stroke-width="1" stroke-dasharray="1 8"/>
<path d="M223.5 197V465" stroke-width="1" stroke-dasharray="1 8" stroke-dashoffset="-8"/>
<rect x="222" y="193" width="1" height="7"/>
<rect x="218" y="193" width="9" height="1"/>
<rect x="218" y="199" width="9" height="1"/>
<rect x="224" y="202" width="1" height="263"/>
<rect x="227" y="202" width="1" height="263"/>
<rect x="224" y="202" width="4" height="1"/>
<path d="M225.5 203V465" stroke-width="1" stroke-dasharray="1 8" stroke-dashoffset="-7"/>
<path d="M226.5 203V465" stroke-width="1" stroke-dasharray="1 8" stroke-dashoffset="-8"/>
<rect x="226" y="200" width="1" height="6"/>
<rect x="222" y="200" width="9" height="1"/>
<rect x="222" y="205" width="9" height="1"/>
<rect x="227" y="208" width="1" height="257"/>
<rect x="231" y="208" width="1" height="257"/>
<rect x="227" y="208" width="5" height="1"/>
<path d="M229.5 209V465" stroke-width="1" stroke-dasharray="1 3" stroke-dashoffset="-1"/>
<rect x="229" y="205" width="1" height="7"/>
<rect x="225" y="205" width="9" height="1"/>
<rect x="225" y="211" width="9" height="1"/>
<rect x="231" y="211" width="1" height="254"/>
<rect x="235" y="211" width="1" height="254"/>
<rect x="231" y="211" width="5" height="1"/>
<path d="M233.5 212V465" stroke-width="3" stroke-dasharray="1 5" stroke-dashoffset="-2"/>
<rect x="233" y="206" width="1" height="10"/>
<rect x="229" y="206" width="9" height="1"/>
<rect x="229" y="215" width="9" height="1"/>
<rect x="244" y="194" width="1" height="271"/>
<rect x="248" y="194" width="1" height="271"/>
<rect x="244" y="194" width="5" height="1"/>
<path d="M245.5 195V465" stroke-width="1" stroke-dasharray="1 8" stroke-dashoffset="-6"/>
<path d="M246.5 195V465" stroke-width="1" stroke-dasharray="1 8" stroke-dashoffset="-5"/>
<path d="M247.5 195V465" stroke-width="1" stroke-dasharray="1 8" stroke-dashoffset="-4"/>
<rect x="246" y="193" width="1" height="3"/>
<rect x="242" y="193" width="9" height="1"/>
<rect x="242" y="195" width="9" height="1"/>
<rect x="248" y="195" width="1" height="270"/>
<rect x="251" y="195" width="1" height="270"/>
<rect x="248" y="195" width="4" height="1"/>
<path d="M249.5 196V465" stroke-width="1" stroke-dasharray="1 8" stroke-dashoffset="-2"/>
<path d="M250.5 196V465" stroke-width="1" stroke-dasharray="1 8" stroke-dashoffset="-3"/>
<rect x="250" y="192" width="1" height="7"/>
<rect x="246" y="192" width="9" height="1"/>
<rect x="246" y="198" width="9" height="1"/>
<rect x="251" y="195" width="1" height="270"/>
<rect x="255" y="195" width="1" height="270"/>
<rect x="251" y="195" width="5" height="1"/>
<path d="M253.5 196V465" stroke-width="1" stroke-dasharray="1 3" stroke-dashoffset="-2"/>
<rect x="253" y="192" width="1" height="7"/>
<rect x="249" y="192" width="9" height="1"/>
<rect x="249" y="198" width="9" height="1"/>
<rect x="255" y="197" width="1" height="268"/>
<rect x="259" y="197" width="1" height="268"/>
<rect x="255" y="197" width="5" height="1"/>
<path d="M257.5 198V465" stroke-width="3" stroke-dasharray="1 5" stroke-dashoffset="-4"/>
<rect x="257" y="192" width="1" height="11"/>
<rect x="253" y="192" width="9" height="1"/>
<rect x="253" y="202" width="9" height="1"/>
<rect x="268" y="192" width="1" height="273"/>
<rect x="272" y="192" width="1" height="273"/>
<rect x="268" y="192" width="5" height="1"/>
<path d="M269.5 193V465" stroke-width="1" stroke-dasharray="1 8" stroke-dashoffset="-2"/>
<path d="M270.5 193V465" stroke-width="1" stroke-dasharray="1 8" stroke-dashoffset="-1"/>
<path d="M271.5 193V465" stroke-width="1" stroke-dasharray="1 8"/>
<rect x="270" y="189" width="1" height="7"/>
<rect x="266" y="189" width="9" height="1"/>
<rect x="266" y="195" width="9" height="1"/>
<rect x="272" y="193" width="1" height="272"/>
<rect x="275" y="193" width="1" height="272"/>
<rect x="272" y="193" width="4" height="1"/>
<path d="M273.5 194V465" stroke-width="1" stroke-dasharray="1 8" stroke-dashoffset="-1"/>
<path d="M274.5 194V465" stroke-width="1" stroke-dasharray="1 8" stroke-dashoffset="-2"/>
<rect x="274" y="187" width="1" height="13"/>
<rect x="270" y="187" width="9" height="1"/>
<rect x="270" y="199" width="9" height="1"/>
<rect x="275" y="201" width="1" height="264"/>
<rect x="279" y="201" width="1" height="264"/>
<rect x="275" y="201" width="5" height="1"/>
<path d="M277.5 202V465" stroke-width="1" stroke-dasharray="1 3"/>
<rect x="277" y="190" width="1" height="23"/>
<rect x="273" y="190" width="9" height="1"/>
<rect x="273" y="212" width="9" height="1"/>
<rect x="279" y="200" width="1" height="265"/>
<rect x="283" y="200" width="1" height="265"/>
<rect x="279" y="200" width="5" height="1"/>
<path d="M281.5 201V465" stroke-width="3" stroke-dasharray="1 5" stroke-dashoffset="-1"/>
<rect x="281" y="194" width="1" height="12"/>
<rect x="277" y="194" width="9" height="1"/>
<rect x="277" y="205" width="9" height="1"/>
<rect x="292" y="207" width="1" height="258"/>
<rect x="296" y="207" width="1" height="258"/>
<rect x="292" y="207" width="5" height="1"/>
<path d="M293.5 208V465" stroke-width="1" stroke-dasharray="1 8" stroke-dashoffset="-8"/>
<path d="M294.5 208V465" stroke-width="1" stroke-dasharray="1 8" stroke-dashoffset="-7"/>
<path d="M295.5 208V465" stroke-width="1" stroke-dasharray="1 8" stroke-dashoffset="-6"/>
<rect x="294" y="204" width="1" height="7"/>
<rect x="290" y="204" width="9" height="1"/>
<rect x="290" y="210" width="9" height="1"/>
<rect x="296" y="206" width="1" height="259"/>
<rect x="299" y="206" width="1" height="259"/>
<rect x="296" y="206" width="4" height="1"/>
<path d="M297.5 207V465" stroke-width="1" stroke-dasharray="1 8" stroke-dashoffset="-3"/>
<path d="M298.5 207V465" stroke-width="1" stroke-dasharray="1 8" stroke-dashoffset="-4"/>
<rect x="298" y="204" width="1" height="6"/>
<rect x="294" y="204" width="9" height="1"/>
<rect x="294" y="209" width="9" height="1"/>
<rect x="299" y="204" width="1" height="261"/>
<rect x="303" y="204" width="1" height="261"/>
<rect x="299" y="204" width="5" height="1"/>
<path d="M301.5 205V465" stroke-width="1" stroke-dasharray="1 3" stroke-dashoffset="-1"/>
<rect x="301" y="201" width="1" height="8"/>
<rect x="297" y="201" width="9" height="1"/>
<rect x="297" y="208" width="9" height="1"/>
<rect x="303" y="213" width="1" height="252"/>
<rect x="307" y="213" width="1" height="252"/>
<rect x="303" y="213" width="5" height="1"/>
<path d="M305.5 214V465" stroke-width="3" stroke-dasharray="1 5"/>
<rect x="305" y="207" width="1" height="12"/>
<rect x="301" y="207" width="9" height="1"/>
<rect x="301" y="218" width="9" height="1"/>
<rect x="316" y="190" width="1" height="275"/>
<rect x="320" y="190" width="1" height="275"/>
<rect x="316" y="190" width="5" height="1"/>
<path d="M317.5 191V465" stroke-width="1" stroke-dasharray="1 8" stroke-dashoffset="-1"/>
<path d="M318.5 191V465" stroke-width="1" stroke-dasharray="1 8"/>
<path d="M319.5 191V465" stroke-width="1" stroke-dasharray="1 8" stroke-dashoffset="-8"/>
<rect x="318" y="186" width="1" height="8"/>
<rect x="314" y="186" width="9" height="1"/>
<rect x="314" y="193" width="9" height="1"/>
<rect x="320" y="184" width="1" height="281"/>
<rect x="323" y="184" width="1" height="281"/>
<rect x="320" y="184" width="4" height="1"/>
<path d="M321.5 185V465" stroke-width="1" stroke-dasharray="1 8" stroke-dashoffset="-4"/>
<path d="M322.5 185V465" stroke-width="1" stroke-dasharray="1 8" stroke-dashoffset="-5"/>
<rect x="322" y="182" width="1" height="6"/>
<rect x="318" y="182" width="9" height="1"/>
<rect x="318" y="187" width="9" height="1"/>
<rect x="323" y="180" width="1" height="285"/>
<rect x="327" y="180" width="1" height="285"/>
<rect x="323" y="180" width="5" height="1"/>
<path d="M325.5 181V465" stroke-width="1" stroke-dasharray="1 3" stroke-dashoffset="-1"/>
<rect x="325" y="175" width="1" height="11"/>
<rect x="321" y="175" width="9" height="1"/>
<rect x="321" y="185" width="9" height="1"/>
<rect x="327" y="184" width="1" height="281"/>
<rect x="331" y="184" width="1" height="281"/>
<rect x="327" y="184" width="5" height="1"/>
<path d="M329.5 185V465" stroke-width="3" stroke-dasharray="1 5" stroke-dashoffset="-5"/>
<rect x="329" y="181" width="1" height="7"/>
<rect x="325" y="181" width="9" height="1"/>
<rect x="325" y="187" width="9" height="1"/>
<rect x="340" y="198" width="1" height="267"/>
<rect x="344" y="198" width="1" height="267"/>
<rect x="340" y="198" width="5" height="1"/>
<path d="M341.5 199V465" stroke-width="1" stroke-dasharray="1 8" stroke-dashoffset="-5"/>
<path d="M342.5 199V465" stroke-width="1" stroke-dasharray="1 8" stroke-dashoffset="-4"/>
<path d="M343.5 199V465" stroke-width="1" stroke-dasharray="1 8" stroke-dashoffset="-3"/>
<rect x="342" y="194" width="1" height="8"/>
<rect x="338" y="194" width="9" height="1"/>
<rect x="338" y="201" width="9" height="1"/>
<rect x="344" y="191" width="1" height="274"/>
<rect x="347" y="191" width="1" height="274"/>
<rect x="344" y="191" width="4" height="1"/>
<path d="M345.5 192V465" stroke-width="1" stroke-dasharray="1 8" stroke-dashoffset="-3"/>
<path d="M346.5 192V465" stroke-width="1" stroke-dasharray="1 8" stroke-dashoffset="-4"/>
<rect x="346" y="188" width="1" height="6"/>
<rect x="341" y="188" width="9" height="1"/>
<rect x="341" y="193" width="9" height="1"/>
<rect x="347" y="187" width="1" height="278"/>
<rect x="351" y="187" width="1" height="278"/>
<rect x="347" y="187" width="5" height="1"/>
<path d="M349.5 188V465" stroke-width="1" stroke-dasharray="1 3" stroke-dashoffset="-2"/>
<rect x="349" y="182" width="1" height="11"/>
<rect x="345" y="182" width="9" height="1"/>
<rect x="345" y="192" width="9" height="1"/>
<rect x="351" y="199" width="1" height="266"/>
<rect x="355" y="199" width="1" height="266"/>
<rect x="351" y="199" width="5" height="1"/>
<path d="M353.5 200V465" stroke-width="3" stroke-dasharray="1 5" stroke-dashoffset="-2"/>
<rect x="353" y="196" width="1" height="6"/>
<rect x="349" y="196" width="9" height="1"/>
<rect x="349" y="201" width="9" height="1"/>
<rect x="364" y="189" width="1" height="276"/>
<rect x="368" y="189" width="1" height="276"/>
<rect x="364" y="189" width="5" height="1"/>
<path d="M365.5 190V465" stroke-width="1" stroke-dasharray="1 8" stroke-dashoffset="-8"/>
<path d="M366.5 190V465" stroke-width="1" stroke-dasharray="1 8" stroke-dashoffset="-7"/>
<path d="M367.5 190V465" stroke-width="1" stroke-dasharray="1 8" stroke-dashoffset="-6"/>
<rect x="366" y="186" width="1" height="6"/>
<rect x="362" y="186" width="9" height="1"/>
<rect x="362" y="191" width="9" height="1"/>
<rect x="368" y="184" width="1" height="281"/>
<rect x="371" y="184" width="1" height="281"/>
<rect x="368" y="184" width="4" height="1"/>
<path d="M369.5 185V465" stroke-width="1" stroke-dasharray="1 8" stroke-dashoffset="-7"/>
<path d="M370.5 185V465" stroke-width="1" stroke-dasharray="1 8" stroke-dashoffset="-8"/>
<rect x="370" y="183" width="1" height="4"/>
<rect x="365" y="183" width="9" height="1"/>
<rect x="365" y="186" width="9" height="1"/>
<rect x="371" y="182" width="1" height="283"/>
<rect x="375" y="182" width="1" height="283"/>
<rect x="371" y="182" width="5" height="1"/>
<path d="M373.5 183V465" stroke-width="1" stroke-dasharray="1 3" stroke-dashoffset="-3"/>
<rect x="373" y="178" width="1" height="9"/>
<rect x="369" y="178" width="9" height="1"/>
<rect x="369" y="186" width="9" height="1"/>
<rect x="375" y="192" width="1" height="273"/>
<rect x="378" y="192" width="1" height="273"/>
<rect x="375" y="192" width="4" height="1"/>
<path d="M377 193V465" stroke-width="2" stroke-dasharray="1 5" stroke-dashoffset="-3"/>
<rect x="377" y="187" width="1" height="10"/>
<rect x="373" y="187" width="9" height="1"/>
<rect x="373" y="196" width="9" height="1"/>
<rect x="388" y="189" width="1" height="276"/>
<rect x="392" y="189" width="1" height="276"/>
<rect x="388" y="189" width="5" height="1"/>
<path d="M389.5 190V465" stroke-width="1" stroke-dasharray="1 8" stroke-dashoffset="-2"/>
<path d="M390.5 190V465" stroke-width="1" stroke-dasharray="1 8" stroke-dashoffset="-1"/>
<path d="M391.5 190V465" stroke-width="1" stroke-dasharray="1 8"/>
<rect x="390" y="185" width="1" height="8"/>
<rect x="386" y="185" width="9" height="1"/>
<rect x="386" y="192" width="9" height="1"/>
<rect x="392" y="184" width="1" height="281"/>
<rect x="395" y="184" width="1" height="281"/>
<rect x="392" y="184" width="4" height="1"/>
<path d="M393.5 185V465" stroke-width="1" stroke-dasharray="1 8" stroke-dashoffset="-4"/>
<path d="M394.5 185V465" stroke-width="1" stroke-dasharray="1 8" stroke-dashoffset="-5"/>
<rect x="394" y="180" width="1" height="9"/>
<rect x="389" y="180" width="9" height="1"/>
<rect x="389" y="188" width="9" height="1"/>
<rect x="395" y="186" width="1" height="279"/>
<rect x="399" y="186" width="1" height="279"/>
<rect x="395" y="186" width="5" height="1"/>
<path d="M397.5 187V465" stroke-width="1" stroke-dasharray="1 3" stroke-dashoffset="-3"/>
<rect x="397" y="183" width="1" height="7"/>
<rect x="393" y="183" width="9" height="1"/>
<rect x="393" y="189" width="9" height="1"/>
<rect x="399" y="188" width="1" height="277"/>
<rect x="402" y="188" width="1" height="277"/>
<rect x="399" y="188" width="4" height="1"/>
<path d="M401 189V465" stroke-width="2" stroke-dasharray="1 5" stroke-dashoffset="-1"/>
<rect x="401" y="183" width="1" height="10"/>
<rect x="397" y="183" width="9" height="1"/>
<rect x="397" y="192" width="9" height="1"/>
<rect x="412" y="185" width="1" height="280"/>
<rect x="416" y="185" width="1" height="280"/>
<rect x="412" y="185" width="5" height="1"/>
<path d="M413.5 186V465" stroke-width="1" stroke-dasharray="1 8"/>
<path d="M414.5 186V465" stroke-width="1" stroke-dasharray="1 8" stroke-dashoffset="-8"/>
<path d="M415.5 186V465" stroke-width="1" stroke-dasharray="1 8" stroke-dashoffset="-7"/>
<rect x="414" y="182" width="1" height="6"/>
<rect x="410" y="182" width="9" height="1"/>
<rect x="410" y="187" width="9" height="1"/>
<rect x="416" y="172" width="1" height="293"/>
<rect x="419" y="172" width="1" height="293"/>
<rect x="416" y="172" width="4" height="1"/>
<path d="M417.5 173V465" stroke-width="1" stroke-dasharray="1 8" stroke-dashoffset="-4"/>
<path d="M418.5 173V465" stroke-width="1" stroke-dasharray="1 8" stroke-dashoffset="-5"/>
<rect x="417" y="166" width="1" height="12"/>
<rect x="413" y="166" width="9" height="1"/>
<rect x="413" y="177" width="9" height="1"/>
<rect x="419" y="179" width="1" height="286"/>
<rect x="423" y="179" width="1" height="286"/>
<rect x="419" y="179" width="5" height="1"/>
<path d="M421.5 180V465" stroke-width="1" stroke-dasharray="1 3" stroke-dashoffset="-2"/>
<rect x="421" y="176" width="1" height="7"/>
<rect x="417" y="176" width="9" height="1"/>
<rect x="417" y="182" width="9" height="1"/>
<rect x="423" y="184" width="1" height="281"/>
<rect x="426" y="184" width="1" height="281"/>
<rect x="423" y="184" width="4" height="1"/>
<path d="M425 185V465" stroke-width="2" stroke-dasharray="1 5" stroke-dashoffset="-5"/>
<rect x="425" y="181" width="1" height="6"/>
<rect x="421" y="181" width="9" height="1"/>
<rect x="421" y="186" width="9" height="1"/>
<rect x="436" y="174" width="1" height="291"/>
<rect x="440" y="174" width="1" height="291"/>
<rect x="436" y="174" width="5" height="1"/>
<path d="M437.5 175V465" stroke-width="1" stroke-dasharray="1 8" stroke-dashoffset="-5"/>
<path d="M438.5 175V465" stroke-width="1" stroke-dasharray="1 8" stroke-dashoffset="-4"/>
<path d="M439.5 175V465" stroke-width="1" stroke-dasharray="1 8" stroke-dashoffset="-3"/>
<rect x="438" y="169" width="1" height="10"/>
<rect x="434" y="169" width="9" height="1"/>
<rect x="434" y="178" width="9" height="1"/>
<rect x="440" y="171" width="1" height="294"/>
<rect x="443" y="171" width="1" height="294"/>
<rect x="440" y="171" width="4" height="1"/>
<path d="M441.5 172V465" stroke-width="1" stroke-dasharray="1 8" stroke-dashoffset="-2"/>
<path d="M442.5 172V465" stroke-width="1" stroke-dasharray="1 8" stroke-dashoffset="-3"/>
<rect x="441" y="166" width="1" height="10"/>
<rect x="437" y="166" width="9" height="1"/>
<rect x="437" y="175" width="9" height="1"/>
<rect x="443" y="182" width="1" height="283"/>
<rect x="447" y="182" width="1" height="283"/>
<rect x="443" y="182" width="5" height="1"/>
<path d="M445.5 183V465" stroke-width="1" stroke-dasharray="1 3" stroke-dashoffset="-3"/>
<rect x="445" y="181" width="1" height="3"/>
<rect x="441" y="181" width="9" height="1"/>
<rect x="441" y="183" width="9" height="1"/>
<rect x="447" y="183" width="1" height="282"/>
<rect x="450" y="183" width="1" height="282"/>
<rect x="447" y="183" width="4" height="1"/>
<path d="M449 184V465" stroke-width="2" stroke-dasharray="1 5"/>
<rect x="449" y="181" width="1" height="4"/>
<rect x="445" y="181" width="9" height="1"/>
<rect x="445" y="184" width="9" height="1"/>
<rect x="460" y="181" width="1" height="284"/>
<rect x="464" y="181" width="1" height="284"/>
<rect x="460" y="181" width="5" height="1"/>
<path d="M461.5 182V465" stroke-width="1" stroke-dasharray="1 8" stroke-dashoffset="-1"/>
<path d="M462.5 182V465" stroke-width="1" stroke-dasharray="1 8"/>
<path d="M463.5 182V465" stroke-width="1" stroke-dasharray="1 8" stroke-dashoffset="-8"/>
<rect x="462" y="176" width="1" height="11"/>
<rect x="458" y="176" width="9" height="1"/>
<rect x="458" y="186" width="9" height="1"/>
<rect x="464" y="179" width="1" height="286"/>
<rect x="467" y="179" width="1" height="286"/>
<rect x="464" y="179" width="4" height="1"/>
<path d="M465.5 180V465" stroke-width="1" stroke-dasharray="1 8"/>
<path d="M466.5 180V465" stroke-width="1" stroke-dasharray="1 8" stroke-dashoffset="-1"/>
<rect x="465" y="175" width="1" height="9"/>
<rect x="461" y="175" width="9" height="1"/>
<rect x="461" y="183" width="9" height="1"/>
<rect x="467" y="185" width="1" height="280"/>
<rect x="471" y="185" width="1" height="280"/>
<rect x="467" y="185" width="5" height="1"/>
<path d="M469.5 186V465" stroke-width="1" stroke-dasharray="1 3"/>
<rect x="469" y="183" width="1" height="5"/>
<rect x="465" y="183" width="9" height="1"/>
<rect x="465" y="187" width="9" height="1"/>
<rect x="471" y="187" width="1" height="278"/>
<rect x="474" y="187" width="1" height="278"/>
<rect x="471" y="187" width="4" height="1"/>
<path d="M473 188V465" stroke-width="2" stroke-dasharray="1 5" stroke-dashoffset="-2"/>
<rect x="473" y="183" width="1" height="8"/>
<rect x="469" y="183" width="9" height="1"/>
<rect x="469" y="190" width="9" height="1"/>
<rect x="484" y="182" width="1" height="283"/>
<rect x="488" y="182" width="1" height="283"/>
<rect x="484" y="182" width="5" height="1"/>
<path d="M485.5 183V465" stroke-width="1" stroke-dasharray="1 8" stroke-dashoffset="-3"/>
<path d="M486.5 183V465" stroke-width="1" stroke-dasharray="1 8" stroke-dashoffset="-2"/>
<path d="M487.5 183V465" stroke-width="1" stroke-dasharray="1 8" stroke-dashoffset="-1"/>
<rect x="486" y="178" width="1" height="9"/>
<rect x="482" y="178" width="9" height="1"/>
<rect x="482" y="186" width="9" height="1"/>
<rect x="488" y="184" width="1" height="281"/>
<rect x="491" y="184" width="1" height="281"/>
<rect x="488" y="184" width="4" height="1"/>
<path d="M489.5 185V465" stroke-width="1" stroke-dasharray="1 8" stroke-dashoffset="-1"/>
<path d="M490.5 185V465" stroke-width="1" stroke-dasharray="1 8" stroke-dashoffset="-2"/>
<rect x="489" y="181" width="1" height="7"/>
<rect x="485" y="181" width="9" height="1"/>
<rect x="485" y="187" width="9" height="1"/>
<rect x="491" y="183" width="1" height="282"/>
<rect x="495" y="183" width="1" height="282"/>
<rect x="491" y="183" width="5" height="1"/>
<path d="M493.5 184V465" stroke-width="1" stroke-dasharray="1 3" stroke-dashoffset="-2"/>
<rect x="493" y="175" width="1" height="16"/>
<rect x="489" y="175" width="9" height="1"/>
<rect x="489" y="190" width="9" height="1"/>
<rect x="495" y="172" width="1" height="293"/>
<rect x="498" y="172" width="1" height="293"/>
<rect x="495" y="172" width="4" height="1"/>
<path d="M497 173V465" stroke-width="2" stroke-dasharray="1 5" stroke-dashoffset="-5"/>
<rect x="497" y="166" width="1" height="13"/>
<rect x="493" y="166" width="9" height="1"/>
<rect x="493" y="178" width="9" height="1"/>
<rect x="508" y="184" width="1" height="281"/>
<rect x="512" y="184" width="1" height="281"/>
<rect x="508" y="184" width="5" height="1"/>
<path d="M509.5 185V465" stroke-width="1" stroke-dasharray="1 8" stroke-dashoffset="-4"/>
<path d="M510.5 185V465" stroke-width="1" stroke-dasharray="1 8" stroke-dashoffset="-3"/>
<path d="M511.5 185V465" stroke-width="1" stroke-dasharray="1 8" stroke-dashoffset="-2"/>
<rect x="510" y="180" width="1" height="8"/>
<rect x="506" y="180" width="9" height="1"/>
<rect x="506" y="187" width="9" height="1"/>
<rect x="512" y="183" width="1" height="282"/>
<rect x="515" y="183" width="1" height="282"/>
<rect x="512" y="183" width="4" height="1"/>
<path d="M513.5 184V465" stroke-width="1" stroke-dasharray="1 8" stroke-dashoffset="-8"/>
<path d="M514.5 184V465" stroke-width="1" stroke-dasharray="1 8"/>
<rect x="513" y="181" width="1" height="4"/>
<rect x="509" y="181" width="9" height="1"/>
<rect x="509" y="184" width="9" height="1"/>
<rect x="515" y="179" width="1" height="286"/>
<rect x="519" y="179" width="1" height="286"/>
<rect x="515" y="179" width="5" height="1"/>
<path d="M517.5 180V465" stroke-width="1" stroke-dasharray="1 3" stroke-dashoffset="-2"/>
<rect x="517" y="175" width="1" height="8"/>
<rect x="513" y="175" width="9" height="1"/>
<rect x="513" y="182" width="9" height="1"/>
<rect x="519" y="183" width="1" height="282"/>
<rect x="522" y="183" width="1" height="282"/>
<rect x="519" y="183" width="4" height="1"/>
<path d="M521 184V465" stroke-width="2" stroke-dasharray="1 5"/>
<rect x="521" y="178" width="1" height="10"/>
<rect x="516" y="178" width="9" height="1"/>
<rect x="516" y="187" width="9" height="1"/>
<rect x="532" y="179" width="1" height="286"/>
<rect x="535" y="179" width="1" height="286"/>
<rect x="532" y="179" width="4" height="1"/>
<path d="M533.5 180V465" stroke-width="1" stroke-dasharray="1 8" stroke-dashoffset="-3"/>
<path d="M534.5 180V465" stroke-width="1" stroke-dasharray="1 8" stroke-dashoffset="-2"/>
<rect x="534" y="175" width="1" height="9"/>
<rect x="530" y="175" width="9" height="1"/>
<rect x="530" y="183" width="9" height="1"/>
<rect x="535" y="177" width="1" height="288"/>
<rect x="539" y="177" width="1" height="288"/>
<rect x="535" y="177" width="5" height="1"/>
<path d="M536.5 178V465" stroke-width="1" stroke-dasharray="1 8" stroke-dashoffset="-1"/>
<path d="M537.5 178V465" stroke-width="1" stroke-dasharray="1 8" stroke-dashoffset="-2"/>
<path d="M538.5 178V465" stroke-width="1" stroke-dasharray="1 8" stroke-dashoffset="-3"/>
<rect x="537" y="176" width="1" height="4"/>
<rect x="533" y="176" width="9" height="1"/>
<rect x="533" y="179" width="9" height="1"/>
<rect x="539" y="179" width="1" height="286"/>
<rect x="543" y="179" width="1" height="286"/>
<rect x="539" y="179" width="5" height="1"/>
<path d="M541.5 180V465" stroke-width="1" stroke-dasharray="1 3" stroke-dashoffset="-2"/>
<rect x="541" y="177" width="1" height="4"/>
<rect x="537" y="177" width="9" height="1"/>
<rect x="537" y="180" width="9" height="1"/>
<rect x="543" y="182" width="1" height="283"/>
<rect x="546" y="182" width="1" height="283"/>
<rect x="543" y="182" width="4" height="1"/>
<path d="M545 183V465" stroke-width="2" stroke-dasharray="1 5" stroke-dashoffset="-1"/>
<rect x="545" y="177" width="1" height="10"/>
<rect x="540" y="177" width="9" height="1"/>
<rect x="540" y="186" width="9" height="1"/>
<rect x="556" y="172" width="1" height="293"/>
<rect x="559" y="172" width="1" height="293"/>
<rect x="556" y="172" width="4" height="1"/>
<path d="M557.5 173V465" stroke-width="1" stroke-dasharray="1 8" stroke-dashoffset="-4"/>
<path d="M558.5 173V465" stroke-width="1" stroke-dasharray="1 8" stroke-dashoffset="-3"/>
<rect x="558" y="161" width="1" height="22"/>
<rect x="554" y="161" width="9" height="1"/>
<rect x="554" y="182" width="9" height="1"/>
<rect x="559" y="167" width="1" height="298"/>
<rect x="563" y="167" width="1" height="298"/>
<rect x="559" y="167" width="5" height="1"/>
<path d="M560.5 168V465" stroke-width="1" stroke-dasharray="1 8" stroke-dashoffset="-8"/>
<path d="M561.5 168V465" stroke-width="1" stroke-dasharray="1 8"/>
<path d="M562.5 168V465" stroke-width="1" stroke-dasharray="1 8" stroke-dashoffset="-1"/>
<rect x="561" y="164" width="1" height="7"/>
<rect x="557" y="164" width="9" height="1"/>
<rect x="557" y="170" width="9" height="1"/>
<rect x="563" y="169" width="1" height="296"/>
<rect x="567" y="169" width="1" height="296"/>
<rect x="563" y="169" width="5" height="1"/>
<path d="M565.5 170V465" stroke-width="1" stroke-dasharray="1 3"/>
<rect x="565" y="161" width="1" height="17"/>
<rect x="561" y="161" width="9" height="1"/>
<rect x="561" y="177" width="9" height="1"/>
<rect x="567" y="170" width="1" height="295"/>
<rect x="570" y="170" width="1" height="295"/>
<rect x="567" y="170" width="4" height="1"/>
<path d="M569 171V465" stroke-width="2" stroke-dasharray="1 5" stroke-dashoffset="-1"/>
<rect x="569" y="163" width="1" height="15"/>
<rect x="564" y="163" width="9" height="1"/>
<rect x="564" y="177" width="9" height="1"/>
<rect x="-1" y="-1" width="2" height="467"/>
<rect x="575" y="-1" width="2" height="467"/>
<rect x="-1" y="-1" width="578" height="2"/>
<rect x="-9" y="464" width="586" height="2"/>
<rect x="-9" y="464" width="9" height="2"/>
<rect x="-4" y="435" width="4" height="2"/>
<rect x="-9" y="406" width="9" height="2"/>
<rect x="-4" y="377" width="4" height="2"/>
<rect x="-9" y="348" width="9" height="2"/>
<rect x="-4" y="319" width="4" height="2"/>
<rect x="-9" y="290" width="9" height="2"/>
<rect x="-4" y="261" width="4" height="2"/>
<rect x="-9" y="231" width="9" height="2"/>
<rect x="-4" y="202" width="4" height="2"/>
<rect x="-9" y="173" width="9" height="2"/>
<rect x="-4" y="144" width="4" height="2"/>
<rect x="-9" y="115" width="9" height="2"/>
<rect x="-4" y="86" width="4" height="2"/>
<rect x="-9" y="57" width="9" height="2"/>
<rect x="-4" y="28" width="4" height="2"/>
<rect x="-9" y="-1" width="9" height="2"/>
<rect x="18" y="8" width="45" height="23"/>
<rect x="19" y="9" width="43" height="21" fill="#fff"/>
<path d="M19.5 9V30" stroke-width="1" stroke-dasharray="1 8" stroke-dashoffset="-6"/>
<path d="M20.5 9V30" stroke-width="1" stroke-dasharray="1 8" stroke-dashoffset="-5"/>
<path d="M21.5 9V30" stroke-width="1" stroke-dasharray="1 8" stroke-dashoffset="-4"/>
<path d="M22.5 9V30" stroke-width="1" stroke-dasharray="1 8" stroke-dashoffset="-3"/>
<path d="M23.5 9V30" stroke-width="1" stroke-dasharray="1 8" stroke-dashoffset="-2"/>
<path d="M24.5 9V30" stroke-width="1" stroke-dasharray="1 8" stroke-dashoffset="-1"/>
<path d="M25.5 9V30" stroke-width="1" stroke-dasharray="1 8"/>
<path d="M26.5 9V30" stroke-width="1" stroke-dasharray="1 8" stroke-dashoffset="-8"/>
<path d="M27.5 9V30" stroke-width="1" stroke-dasharray="1 8" stroke-dashoffset="-7"/>
<path d="M28.5 9V30" stroke-width="1" stroke-dasharray="1 8" stroke-dashoffset="-6"/>
<path d="M29.5 9V30" stroke-width="1" stroke-dasharray="1 8" stroke-dashoffset="-5"/>
<path d="M30.5 9V30" stroke-width="1" stroke-dasharray="1 8" stroke-dashoffset="-4"/>
<path d="M31.5 9V30" stroke-width="1" stroke-dasharray="1 8" stroke-dashoffset="-3"/>
<path d="M32.5 9V30" stroke-width="1" stroke-dasharray="1 8" stroke-dashoffset="-2"/>
<path d="M33.5 9V30" stroke-width="1" stroke-dasharray="1 8" stroke-dashoffset="-1"/>
<path d="M34.5 9V30" stroke-width="1" stroke-dasharray="1 8"/>
<path d="M35.5 9V30" stroke-width="1" stroke-dasharray="1 8" stroke-dashoffset="-8"/>
<path d="M36.5 9V30" stroke-width="1" stroke-dasharray="1 8" stroke-dashoffset="-7"/>
<path d="M37.5 9V30" stroke-width="1" stroke-dasharray="1 8" stroke-dashoffset="-6"/>
<path d="M38.5 9V30" stroke-width="1" stroke-dasharray="1 8" stroke-dashoffset="-5"/>
<path d="M39.5 9V30" stroke-width="1" stroke-dasharray="1 8" stroke-dashoffset="-4"/>
<path d="M40.5 9V30" stroke-width="1" stroke-dasharray="1 8" stroke-dashoffset="-3"/>
<path d="M41.5 9V30" stroke-width="1" stroke-dasharray="1 8" stroke-dashoffset="-2"/>
<path d="M42.5 9V30" stroke-width="1" stroke-dasharray="1 8" stroke-dashoffset="-1"/>
<path d="M43.5 9V30" stroke-width="1" stroke-dasharray="1 8"/>
<path d="M44.5 9V30" stroke-width="1" stroke-dasharray="1 8" stroke-dashoffset="-8"/>
<path d="M45.5 9V30" stroke-width="1" stroke-dasharray="1 8" stroke-dashoffset="-7"/>
<path d="M46.5 9V30" stroke-width="1" stroke-dasharray="1 8" stroke-dashoffset="-6"/>
<path d="M47.5 9V30" stroke-width="1" stroke-dasharray="1 8" stroke-dashoffset="-5"/>
<path d="M48.5 9V30" stroke-width="1" stroke-dasharray="1 8" stroke-dashoffset="-4"/>
<path d="M49.5 9V30" stroke-width="1" stroke-dasharray="1 8" stroke-dashoffset="-3"/>
<path d="M50.5 9V30" stroke-width="1" stroke-dasharray="1 8" stroke-dashoffset="-2"/>
<path d="M51.5 9V30" stroke-width="1" stroke-dasharray="1 8" stroke-dashoffset="-1"/>
<path d="M52.5 9V30" stroke-width="1" stroke-dasharray="1 8"/>
<path d="M53.5 9V30" stroke-width="1" stroke-dasharray="1 8" stroke-dashoffset="-8"/>
<path d="M54.5 9V30" stroke-width="1" stroke-dasharray="1 8" stroke-dashoffset="-7"/>
<path d="M55.5 9V30" stroke-width="1" stroke-dasharray="1 8" stroke-dashoffset="-6"/>
<path d="M56.5 9V30" stroke-width="1" stroke-dasharray="1 8" stroke-dashoffset="-5"/>
<path d="M57.5 9V30" stroke-width="1" stroke-dasharray="1 8" stroke-dashoffset="-4"/>
<path d="M58.5 9V30" stroke-width="1" stroke-dasharray="1 8" stroke-dashoffset="-3"/>
<path d="M59.5 9V30" stroke-width="1" stroke-dasharray="1 8" stroke-dashoffset="-2"/>
<path d="M60.5 9V30" stroke-width="1" stroke-dasharray="1 8" stroke-dashoffset="-1"/>
<path d="M61.5 9V30" stroke-width="1" stroke-dasharray="1 8"/>
<rect x="18" y="33" width="45" height="22"/>
<rect x="19" y="34" width="43" height="20" fill="#fff"/>
<path d="M19.5 34V54" stroke-width="1" stroke-dasharray="1 8"/>
<path d="M20.5 34V54" stroke-width="1" stroke-dasharray="1 8" stroke-dashoffset="-1"/>
<path d="M21.5 34V54" stroke-width="1" stroke-dasharray="1 8" stroke-dashoffset="-2"/>
<path d="M22.5 34V54" stroke-width="1" stroke-dasharray="1 8" stroke-dashoffset="-3"/>
<path d="M23.5 34V54" stroke-width="1" stroke-dasharray="1 8" stroke-dashoffset="-4"/>
<path d="M24.5 34V54" stroke-width="1" stroke-dasharray="1 8" stroke-dashoffset="-5"/>
<path d="M25.5 34V54" stroke-width="1" stroke-dasharray="1 8" stroke-dashoffset="-6"/>
<path d="M26.5 34V54" stroke-width="1" stroke-dasharray="1 8" stroke-dashoffset="-7"/>
<path d="M27.5 34V54" stroke-width="1" stroke-dasharray="1 8" stroke-dashoffset="-8"/>
<path d="M28.5 34V54" stroke-width="1" stroke-dasharray="1 8"/>
<path d="M29.5 34V54" stroke-width="1" stroke-dasharray="1 8" stroke-dashoffset="-1"/>
<path d="M30.5 34V54" stroke-width="1" stroke-dasharray="1 8" stroke-dashoffset="-2"/>
<path d="M31.5 34V54" stroke-width="1" stroke-dasharray="1 8" stroke-dashoffset="-3"/>
<path d="M32.5 34V54" stroke-width="1" stroke-dasharray="1 8" stroke-dashoffset="-4"/>
<path d="M33.5 34V54" stroke-width="1" stroke-dasharray="1 8" stroke-dashoffset="-5"/>
<path d="M34.5 34V54" stroke-width="1" stroke-dasharray="1 8" stroke-dashoffset="-6"/>
<path d="M35.5 34V54" stroke-width="1" stroke-dasharray="1 8" stroke-dashoffset="-7"/>
<path d="M36.5 34V54" stroke-width="1" stroke-dasharray="1 8" stroke-dashoffset="-8"/>
<path d="M37.5 34V54" stroke-width="1" stroke-dasharray="1 8"/>
<path d="M38.5 34V54" stroke-width="1" stroke-dasharray="1 8" stroke-dashoffset="-1"/>
<path d="M39.5 34V54" stroke-width="1" stroke-dasharray="1 8" stroke-dashoffset="-2"/>
<path d="M40.5 34V54" stroke-width="1" stroke-dasharray="1 8" stroke-dashoffset="-3"/>
<path d="M41.5 34V54" stroke-width="1" stroke-dasharray="1 8" stroke-dashoffset="-4"/>
<path d="M42.5 34V54" stroke-width="1" stroke-dasharray="1 8" stroke-dashoffset="-5"/>
<path d="M43.5 34V54" stroke-width="1" stroke-dasharray="1 8" stroke-dashoffset="-6"/>
<path d="M44.5 34V54" stroke-width="1" stroke-dasharray="1 8" stroke-dashoffset="-7"/>
<path d="M45.5 34V54" stroke-width="1" stroke-dasharray="1 8" stroke-dashoffset="-8"/>
<path d="M46.5 34V54" stroke-width="1" stroke-dasharray="1 8"/>
<path d="M47.5 34V54" stroke-width="1" stroke-dasharray="1 8" stroke-dashoffset="-1"/>
<path d="M48.5 34V54" stroke-width="1" stroke-dasharray="1 8" stroke-dashoffset="-2"/>
<path d="M49.5 34V54" stroke-width="1" stroke-dasharray="1 8" stroke-dashoffset="-3"/>
<path d="M50.5 34V54" stroke-width="1" stroke-dasharray="1 8" stroke-dashoffset="-4"/>
<path d="M51.5 34V54" stroke-width="1" stroke-dasharray="1 8" stroke-dashoffset="-5"/>
<path d="M52.5 34V54" stroke-width="1" stroke-dasharray="1 8" stroke-dashoffset="-6"/>
<path d="M53.5 34V54" stroke-width="1" stroke-dasharray="1 8" stroke-dashoffset="-7"/>
<path d="M54.5 34V54" stroke-width="1" stroke-dasharray="1 8" stroke-dashoffset="-8"/>
<path d="M55.5 34V54" stroke-width="1" stroke-dasharray="1 8"/>
<path d="M56.5 34V54" stroke-width="1" stroke-dasharray="1 8" stroke-dashoffset="-1"/>
<path d="M57.5 34V54" stroke-width="1" stroke-dasharray="1 8" stroke-dashoffset="-2"/>
<path d="M58.5 34V54" stroke-width="1" stroke-dasharray="1 8" stroke-dashoffset="-3"/>
<path d="M59.5 34V54" stroke-width="1" stroke-dasharray="1 8" stroke-dashoffset="-4"/>
<path d="M60.5 34V54" stroke-width="1" stroke-dasharray="1 8" stroke-dashoffset="-5"/>
<path d="M61.5 34V54" stroke-width="1" stroke-dasharray="1 8" stroke-dashoffset="-6"/>
<rect x="18" y="57" width="45" height="23"/>
<rect x="19" y="58" width="43" height="21" fill="#fff"/>
<path d="M19.5 58V79" stroke-width="1" stroke-dasharray="1 3" stroke-dashoffset="-1"/>
<path d="M21.5 58V79" stroke-width="1" stroke-dasharray="1 3" stroke-dashoffset="-3"/>
<path d="M23.5 58V79" stroke-width="1" stroke-dasharray="1 3" stroke-dashoffset="-1"/>
<path d="M25.5 58V79" stroke-width="1" stroke-dasharray="1 3" stroke-dashoffset="-3"/>
<path d="M27.5 58V79" stroke-width="1" stroke-dasharray="1 3" stroke-dashoffset="-1"/>
<path d="M29.5 58V79" stroke-width="1" stroke-dasharray="1 3" stroke-dashoffset="-3"/>
<path d="M31.5 58V79" stroke-width="1" stroke-dasharray="1 3" stroke-dashoffset="-1"/>
<path d="M33.5 58V79" stroke-width="1" stroke-dasharray="1 3" stroke-dashoffset="-3"/>
<path d="M35.5 58V79" stroke-width="1" stroke-dasharray="1 3" stroke-dashoffset="-1"/>
<path d="M37.5 58V79" stroke-width="1" stroke-dasharray="1 3" stroke-dashoffset="-3"/>
<path d="M39.5 58V79" stroke-width="1" stroke-dasharray="1 3" stroke-dashoffset="-1"/>
<path d="M41.5 58V79" stroke-width="1" stroke-dasharray="1 3" stroke-dashoffset="-3"/>
<path d="M43.5 58V79" stroke-width="1" stroke-dasharray="1 3" stroke-dashoffset="-1"/>
<path d="M45.5 58V79" stroke-width="1" stroke-dasharray="1 3" stroke-dashoffset="-3"/>
<path d="M47.5 58V79" stroke-width="1" stroke-dasharray="1 3" stroke-dashoffset="-1"/>
<path d="M49.5 58V79" stroke-width="1" stroke-dasharray="1 3" stroke-dashoffset="-3"/>
<path d="M51.5 58V79" stroke-width="1" stroke-dasharray="1 3" stroke-dashoffset="-1"/>
<path d="M53.5 58V79" stroke-width="1" stroke-dasharray="1 3" stroke-dashoffset="-3"/>
<path d="M55.5 58V79" stroke-width="1" stroke-dasharray="1 3" stroke-dashoffset="-1"/>
<path d="M57.5 58V79" stroke-width="1" stroke-dasharray="1 3" stroke-dashoffset="-3"/>
<path d="M59.5 58V79" stroke-width="1" stroke-dasharray="1 3" stroke-dashoffset="-1"/>
<path d="M61.5 58V79" stroke-width="1" stroke-dasharray="1 3" stroke-dashoffset="-3"/>
<rect x="18" y="82" width="45" height="22"/>
<rect x="19" y="83" width="43" height="20" fill="#fff"/>
<path d="M40.5 83V103" stroke-width="43" stroke-dasharray="1 5" stroke-dashoffset="-5"/>
</g>
<text x="274.8" y="4655.4" font-family="'Liberation Serif',serif" font-size="54.5" text-anchor="end" fill="#000" stroke="#fff" stroke-width="0.3" letter-spacing="2.4" filter="url(#tb)">0</text>
<text x="274.8" y="4485.3" font-family="'Liberation Serif',serif" font-size="54.5" text-anchor="end" fill="#000" stroke="#fff" stroke-width="0.3" letter-spacing="2.4" filter="url(#tb)">20</text>
<text x="274.8" y="4314.9" font-family="'Liberation Serif',serif" font-size="54.5" text-anchor="end" fill="#000" stroke="#fff" stroke-width="0.3" letter-spacing="2.4" filter="url(#tb)">40</text>
<text x="274.8" y="4145.6" font-family="'Liberation Serif',serif" font-size="54.5" text-anchor="end" fill="#000" stroke="#fff" stroke-width="0.3" letter-spacing="2.4" filter="url(#tb)">60</text>
<text x="274.8" y="3975.3" font-family="'Liberation Serif',serif" font-size="54.5" text-anchor="end" fill="#000" stroke="#fff" stroke-width="0.3" letter-spacing="2.4" filter="url(#tb)">80</text>
<text x="274.8" y="3804.8" font-family="'Liberation Serif',serif" font-size="54.5" text-anchor="end" fill="#000" stroke="#fff" stroke-width="0.3" letter-spacing="2.4" filter="url(#tb)">100</text>
<text x="274.8" y="3633.8" font-family="'Liberation Serif',serif" font-size="54.5" text-anchor="end" fill="#000" stroke="#fff" stroke-width="0.3" letter-spacing="2.4" filter="url(#tb)">120</text>
<text x="274.8" y="3466.3" font-family="'Liberation Serif',serif" font-size="54.5" text-anchor="end" fill="#000" stroke="#fff" stroke-width="0.3" letter-spacing="2.4" filter="url(#tb)">140</text>
<text x="274.8" y="3295.8" font-family="'Liberation Serif',serif" font-size="54.5" text-anchor="end" fill="#000" stroke="#fff" stroke-width="0.3" letter-spacing="2.4" filter="url(#tb)">160</text>
<text x="347.3" y="4691.4" font-family="'Liberation Serif',serif" font-size="54.5" text-anchor="middle" fill="#000" stroke="#fff" stroke-width="0.3" letter-spacing="1.2" filter="url(#tb)">1</text>
<text x="416.8" y="4691.4" font-family="'Liberation Serif',serif" font-size="54.5" text-anchor="middle" fill="#000" stroke="#fff" stroke-width="0.3" letter-spacing="1.2" filter="url(#tb)">2</text>
<text x="488.4" y="4687.1" font-family="'Liberation Serif',serif" font-size="54.5" text-anchor="middle" fill="#000" stroke="#fff" stroke-width="0.3" letter-spacing="1.2" filter="url(#tb)">3</text>
<text x="560.6" y="4692.4" font-family="'Liberation Serif',serif" font-size="54.5" text-anchor="middle" fill="#000" stroke="#fff" stroke-width="0.3" letter-spacing="1.2" filter="url(#tb)">4</text>
<text x="634.2" y="4691.4" font-family="'Liberation Serif',serif" font-size="54.5" text-anchor="middle" fill="#000" stroke="#fff" stroke-width="0.3" letter-spacing="1.2" filter="url(#tb)">5</text>
<text x="705.3" y="4692.4" font-family="'Liberation Serif',serif" font-size="54.5" text-anchor="middle" fill="#000" stroke="#fff" stroke-width="0.3" letter-spacing="1.2" filter="url(#tb)">6</text>
<text x="770.0" y="4693.4" font-family="'Liberation Serif',serif" font-size="54.5" text-anchor="middle" fill="#000" stroke="#fff" stroke-width="0.3" letter-spacing="1.2" filter="url(#tb)">7</text>
<text x="842.1" y="4693.4" font-family="'Liberation Serif',serif" font-size="54.5" text-anchor="middle" fill="#000" stroke="#fff" stroke-width="0.3" letter-spacing="1.2" filter="url(#tb)">8</text>
<text x="916.9" y="4693.4" font-family="'Liberation Serif',serif" font-size="54.5" text-anchor="middle" fill="#000" stroke="#fff" stroke-width="0.3" letter-spacing="1.2" filter="url(#tb)">9</text>
<text x="984.4" y="4693.4" font-family="'Liberation Serif',serif" font-size="54.5" text-anchor="middle" fill="#000" stroke="#fff" stroke-width="0.3" letter-spacing="1.2" filter="url(#tb)">10</text>
<text x="1057.5" y="4689.8" font-family="'Liberation Serif',serif" font-size="54.5" text-anchor="middle" fill="#000" stroke="#fff" stroke-width="0.3" letter-spacing="1.2" filter="url(#tb)">11</text>
<text x="1129.6" y="4689.8" font-family="'Liberation Serif',serif" font-size="54.5" text-anchor="middle" fill="#000" stroke="#fff" stroke-width="0.3" letter-spacing="1.2" filter="url(#tb)">12</text>
<text x="1200.8" y="4689.8" font-family="'Liberation Serif',serif" font-size="54.5" text-anchor="middle" fill="#000" stroke="#fff" stroke-width="0.3" letter-spacing="1.2" filter="url(#tb)">13</text>
<text x="1270.7" y="4689.8" font-family="'Liberation Serif',serif" font-size="54.5" text-anchor="middle" fill="#000" stroke="#fff" stroke-width="0.3" letter-spacing="1.2" filter="url(#tb)">14</text>
<text x="1341.2" y="4688.2" font-family="'Liberation Serif',serif" font-size="54.5" text-anchor="middle" fill="#000" stroke="#fff" stroke-width="0.3" letter-spacing="1.2" filter="url(#tb)">15</text>
<text x="1413.3" y="4693.4" font-family="'Liberation Serif',serif" font-size="54.5" text-anchor="middle" fill="#000" stroke="#fff" stroke-width="0.3" letter-spacing="1.2" filter="url(#tb)">16</text>
<text x="1476.6" y="4689.8" font-family="'Liberation Serif',serif" font-size="54.5" text-anchor="middle" fill="#000" stroke="#fff" stroke-width="0.3" letter-spacing="1.2" filter="url(#tb)">17</text>
<text x="1547.6" y="4689.8" font-family="'Liberation Serif',serif" font-size="54.5" text-anchor="middle" fill="#000" stroke="#fff" stroke-width="0.3" letter-spacing="1.2" filter="url(#tb)">18</text>
<text x="1619.7" y="4689.8" font-family="'Liberation Serif',serif" font-size="54.5" text-anchor="middle" fill="#000" stroke="#fff" stroke-width="0.3" letter-spacing="1.2" filter="url(#tb)">19</text>
<text x="1690.8" y="4693.4" font-family="'Liberation Serif',serif" font-size="54.5" text-anchor="middle" fill="#000" stroke="#fff" stroke-width="0.3" letter-spacing="1.2" filter="url(#tb)">20</text>
<text x="1761.3" y="4689.8" font-family="'Liberation Serif',serif" font-size="54.5" text-anchor="middle" fill="#000" stroke="#fff" stroke-width="0.3" letter-spacing="1.2" filter="url(#tb)">21</text>
<text x="1825.5" y="4693.4" font-family="'Liberation Serif',serif" font-size="54.5" text-anchor="middle" fill="#000" stroke="#fff" stroke-width="0.3" letter-spacing="1.2" filter="url(#tb)">22</text>
<text x="1901.9" y="4693.4" font-family="'Liberation Serif',serif" font-size="54.5" text-anchor="middle" fill="#000" stroke="#fff" stroke-width="0.3" letter-spacing="1.2" filter="url(#tb)">23</text>
<text x="1971.9" y="4692.4" font-family="'Liberation Serif',serif" font-size="54.5" text-anchor="middle" fill="#000" stroke="#fff" stroke-width="0.3" letter-spacing="1.2" filter="url(#tb)">24</text>
<text x="550.0" y="4822.0" font-family="'Liberation Serif',serif" font-size="68" text-anchor="start" fill="#000" stroke="#000" stroke-width="0.35" textLength="1346" lengthAdjust="spacing" filter="url(#tb)">24 Aromatic Substances in Rosemary Hydrosol</text>
<text transform="translate(140,4164) rotate(-90)" font-family="'Liberation Serif',serif" font-size="70" fill="#000" stroke="#fff" stroke-width="0" filter="url(#tb)"><tspan x="0" y="0" textLength="271" lengthAdjust="spacing">Recovery</tspan><tspan x="272" y="0" font-family="'Noto Serif CJK SC','Liberation Serif',serif" font-size="60" font-weight="200" stroke-width="0">（</tspan><tspan x="345" y="0">%</tspan><tspan x="412" y="0" font-family="'Noto Serif CJK SC','Liberation Serif',serif" font-size="60" font-weight="200" stroke-width="0">）</tspan></text>
<text x="1782.0" y="3372.0" font-family="'Liberation Serif',serif" font-size="112" text-anchor="start" fill="#000" stroke="#000" stroke-width="0.3" letter-spacing="1.5" filter="url(#tb)">(c)</text>
<text x="511.5" y="3353.5" font-family="'Liberation Serif',serif" font-size="56" text-anchor="start" fill="#000" stroke="#fff" stroke-width="0.3" letter-spacing="1.0" filter="url(#ct)">pH = 4</text>
<text x="511.5" y="3425.9" font-family="'Liberation Serif',serif" font-size="56" text-anchor="start" fill="#000" stroke="#fff" stroke-width="0.3" letter-spacing="1.0" filter="url(#ct)">pH = 5</text>
<text x="511.5" y="3496.4" font-family="'Liberation Serif',serif" font-size="56" text-anchor="start" fill="#000" stroke="#fff" stroke-width="0.3" letter-spacing="1.0" filter="url(#ct)">pH = 6</text>
<text x="511.5" y="3571.0" font-family="'Liberation Serif',serif" font-size="56" text-anchor="start" fill="#000" stroke="#fff" stroke-width="0.3" letter-spacing="1.0" filter="url(#ct)">pH = 7</text>
</svg>
</body></html>
